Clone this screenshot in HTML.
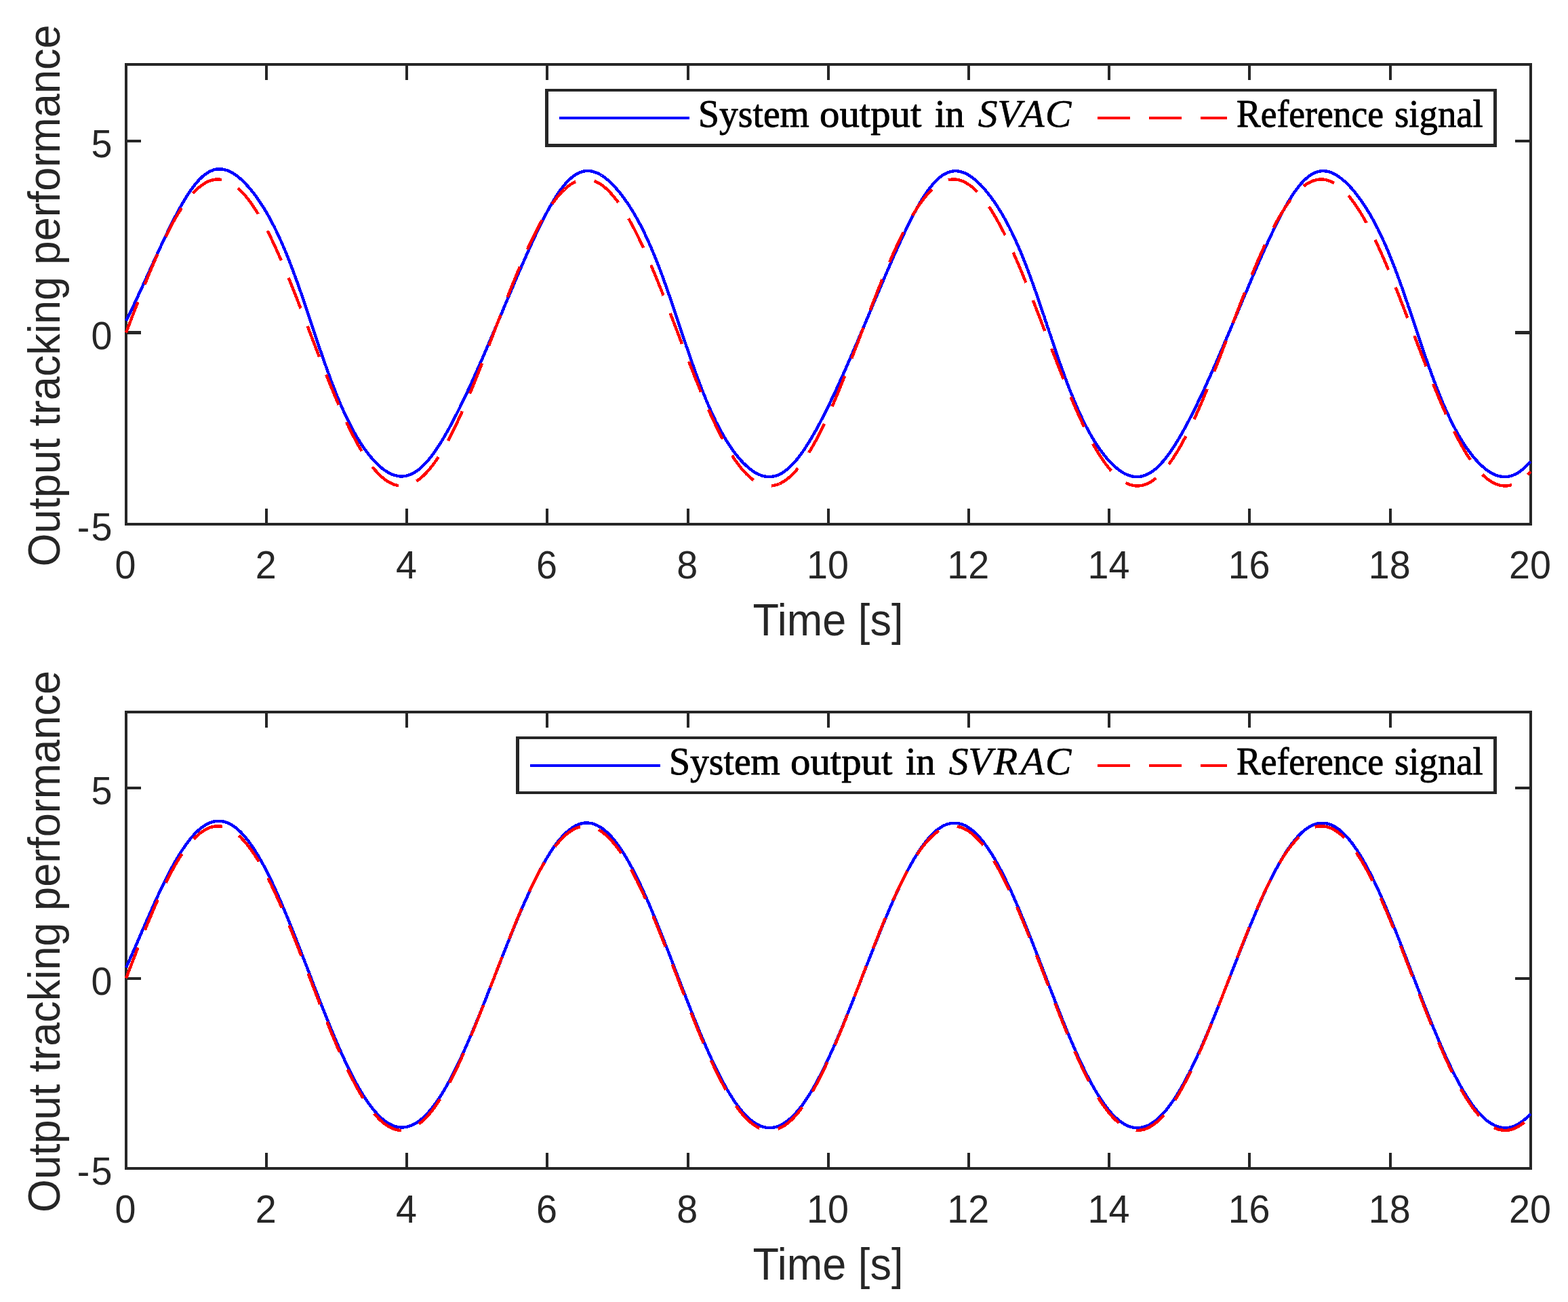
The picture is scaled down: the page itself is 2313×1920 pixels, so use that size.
<!DOCTYPE html>
<html lang="en"><head><meta charset="utf-8"><title>Output tracking performance</title>
<style>
html,body{margin:0;padding:0;background:#fff;}
body{width:2313px;height:1920px;overflow:hidden;}
svg{display:block;}
.sans text{font-family:"Liberation Sans",sans-serif;fill:#262626;}
.serif text{font-family:"Liberation Serif",serif;fill:#000;stroke:#000;stroke-width:0.9;stroke-linejoin:round;}
.serif .it{font-style:italic;stroke-width:0.6;}
</style></head><body>
<svg width="2313" height="1920" viewBox="0 0 2313 1920">
<rect width="2313" height="1920" fill="#fff"/>
<g id="axes1">
<g stroke="#262626" stroke-width="4" fill="none" shape-rendering="crispEdges" stroke-linecap="butt"><rect x="186" y="95" width="2072" height="678"/><path fill="#262626" stroke="none" d="M391,95H395V118H391ZM391,750H395V773H391ZM598,95H602V118H598ZM598,750H602V773H598ZM805,95H809V118H805ZM805,750H809V773H805ZM1013,95H1017V118H1013ZM1013,750H1017V773H1013ZM1220,95H1224V118H1220ZM1220,750H1224V773H1220ZM1427,95H1431V118H1427ZM1427,750H1431V773H1427ZM1634,95H1638V118H1634ZM1634,750H1638V773H1634ZM1841,95H1845V118H1841ZM1841,750H1845V773H1841ZM2049,95H2053V118H2049ZM2049,750H2053V773H2049ZM186,206H208V210H186ZM2235,206H2258V210H2235ZM186,488H208V493H186ZM2235,488H2258V493H2235Z"/></g>
<clipPath id="clip1"><rect x="184" y="93" width="2076" height="682"/></clipPath>
<g clip-path="url(#clip1)" fill="none" stroke-width="4.4" stroke-linejoin="round" shape-rendering="crispEdges">
<path stroke="#0000ff" d="M186.0,473.0 L187.0,471.0 L188.1,468.9 L189.1,466.8 L190.1,464.7 L191.2,462.6 L192.2,460.5 L193.3,458.3 L194.3,456.2 L195.3,454.0 L196.4,451.8 L197.4,449.7 L198.4,447.5 L199.5,445.3 L200.5,443.1 L201.5,440.9 L202.6,438.6 L203.6,436.4 L204.6,434.2 L205.7,432.0 L206.7,429.7 L207.8,427.5 L208.8,425.2 L209.8,423.0 L210.9,420.7 L211.9,418.4 L212.9,416.2 L214.0,413.9 L215.0,411.6 L216.0,409.4 L217.1,407.1 L218.1,404.8 L219.2,402.5 L220.2,400.3 L221.2,398.0 L222.3,395.7 L223.3,393.4 L224.3,391.2 L225.4,388.9 L226.4,386.6 L227.4,384.4 L228.5,382.1 L229.5,379.8 L230.5,377.6 L231.6,375.3 L232.6,373.1 L233.7,370.8 L234.7,368.6 L235.7,366.3 L236.8,364.1 L237.8,361.9 L238.8,359.7 L239.9,357.5 L240.9,355.2 L241.9,353.1 L243.0,350.9 L244.0,348.7 L245.1,346.5 L246.1,344.4 L247.1,342.2 L248.2,340.1 L249.2,337.9 L250.2,335.8 L251.3,333.7 L252.3,331.6 L253.3,329.6 L254.4,327.5 L255.4,325.4 L256.4,323.4 L257.5,321.4 L258.5,319.4 L259.6,317.4 L260.6,315.4 L261.6,313.5 L262.7,311.6 L263.7,309.7 L264.7,307.8 L265.8,305.9 L266.8,304.0 L267.8,302.2 L268.9,300.4 L269.9,298.6 L271.0,296.9 L272.0,295.1 L273.0,293.4 L274.1,291.7 L275.1,290.1 L276.1,288.4 L277.2,286.8 L278.2,285.2 L279.2,283.7 L280.3,282.2 L281.3,280.7 L282.3,279.2 L283.4,277.8 L284.4,276.4 L285.5,275.0 L286.5,273.7 L287.5,272.3 L288.6,271.1 L289.6,269.8 L290.6,268.6 L291.7,267.4 L292.7,266.3 L293.7,265.2 L294.8,264.1 L295.8,263.1 L296.9,262.1 L297.9,261.1 L298.9,260.2 L300.0,259.3 L301.0,258.5 L302.0,257.6 L303.1,256.9 L304.1,256.1 L305.1,255.4 L306.2,254.8 L307.2,254.1 L308.2,253.5 L309.3,253.0 L310.3,252.5 L311.4,252.0 L312.4,251.6 L313.4,251.2 L314.5,250.8 L315.5,250.5 L316.5,250.2 L317.6,250.0 L318.6,249.7 L319.6,249.6 L320.7,249.4 L321.7,249.3 L322.8,249.3 L323.8,249.3 L324.8,249.3 L325.9,249.3 L326.9,249.4 L327.9,249.5 L329.0,249.7 L330.0,249.9 L331.0,250.1 L332.1,250.4 L333.1,250.7 L334.1,251.0 L335.2,251.3 L336.2,251.7 L337.3,252.2 L338.3,252.6 L339.3,253.1 L340.4,253.6 L341.4,254.2 L342.4,254.7 L343.5,255.3 L344.5,256.0 L345.5,256.6 L346.6,257.3 L347.6,258.1 L348.7,258.8 L349.7,259.6 L350.7,260.4 L351.8,261.2 L352.8,262.1 L353.8,262.9 L354.9,263.9 L355.9,264.8 L356.9,265.7 L358.0,266.7 L359.0,267.7 L360.0,268.8 L361.1,269.8 L362.1,270.9 L363.2,272.0 L364.2,273.1 L365.2,274.2 L366.3,275.4 L367.3,276.6 L368.3,277.8 L369.4,279.0 L370.4,280.3 L371.4,281.6 L372.5,282.9 L373.5,284.2 L374.6,285.5 L375.6,286.9 L376.6,288.3 L377.7,289.7 L378.7,291.1 L379.7,292.6 L380.8,294.1 L381.8,295.6 L382.8,297.1 L383.9,298.6 L384.9,300.2 L385.9,301.8 L387.0,303.4 L388.0,305.1 L389.1,306.7 L390.1,308.4 L391.1,310.1 L392.2,311.8 L393.2,313.6 L394.2,315.4 L395.3,317.2 L396.3,319.0 L397.3,320.9 L398.4,322.8 L399.4,324.7 L400.5,326.6 L401.5,328.6 L402.5,330.6 L403.6,332.6 L404.6,334.6 L405.6,336.7 L406.7,338.8 L407.7,340.9 L408.7,343.1 L409.8,345.3 L410.8,347.5 L411.8,349.7 L412.9,352.0 L413.9,354.3 L415.0,356.6 L416.0,358.9 L417.0,361.3 L418.1,363.7 L419.1,366.1 L420.1,368.6 L421.2,371.1 L422.2,373.6 L423.2,376.1 L424.3,378.7 L425.3,381.3 L426.4,383.9 L427.4,386.5 L428.4,389.2 L429.5,391.9 L430.5,394.6 L431.5,397.3 L432.6,400.1 L433.6,402.9 L434.6,405.7 L435.7,408.5 L436.7,411.3 L437.7,414.2 L438.8,417.1 L439.8,420.0 L440.9,422.9 L441.9,425.9 L442.9,428.8 L444.0,431.8 L445.0,434.8 L446.0,437.8 L447.1,440.8 L448.1,443.9 L449.1,446.9 L450.2,450.0 L451.2,453.0 L452.3,456.1 L453.3,459.2 L454.3,462.3 L455.4,465.4 L456.4,468.5 L457.4,471.6 L458.5,474.7 L459.5,477.8 L460.5,480.9 L461.6,484.0 L462.6,487.1 L463.6,490.2 L464.7,493.3 L465.7,496.4 L466.8,499.5 L467.8,502.6 L468.8,505.6 L469.9,508.7 L470.9,511.8 L471.9,514.8 L473.0,517.8 L474.0,520.9 L475.0,523.9 L476.1,526.9 L477.1,529.9 L478.2,532.8 L479.2,535.8 L480.2,538.7 L481.3,541.6 L482.3,544.5 L483.3,547.4 L484.4,550.2 L485.4,553.1 L486.4,555.9 L487.5,558.7 L488.5,561.5 L489.5,564.2 L490.6,566.9 L491.6,569.6 L492.7,572.3 L493.7,574.9 L494.7,577.6 L495.8,580.2 L496.8,582.7 L497.8,585.3 L498.9,587.8 L499.9,590.3 L500.9,592.7 L502.0,595.2 L503.0,597.6 L504.1,600.0 L505.1,602.3 L506.1,604.6 L507.2,606.9 L508.2,609.2 L509.2,611.4 L510.3,613.6 L511.3,615.8 L512.3,617.9 L513.4,620.1 L514.4,622.1 L515.4,624.2 L516.5,626.2 L517.5,628.2 L518.6,630.2 L519.6,632.2 L520.6,634.1 L521.7,636.0 L522.7,637.9 L523.7,639.7 L524.8,641.5 L525.8,643.3 L526.8,645.0 L527.9,646.8 L528.9,648.5 L530.0,650.1 L531.0,651.8 L532.0,653.4 L533.1,655.0 L534.1,656.6 L535.1,658.1 L536.2,659.6 L537.2,661.1 L538.2,662.6 L539.3,664.0 L540.3,665.4 L541.3,666.8 L542.4,668.2 L543.4,669.5 L544.5,670.8 L545.5,672.1 L546.5,673.4 L547.6,674.6 L548.6,675.8 L549.6,677.0 L550.7,678.2 L551.7,679.3 L552.7,680.4 L553.8,681.5 L554.8,682.6 L555.9,683.6 L556.9,684.6 L557.9,685.6 L559.0,686.6 L560.0,687.5 L561.0,688.4 L562.1,689.3 L563.1,690.1 L564.1,691.0 L565.2,691.8 L566.2,692.5 L567.2,693.3 L568.3,694.0 L569.3,694.7 L570.4,695.3 L571.4,696.0 L572.4,696.6 L573.5,697.2 L574.5,697.7 L575.5,698.2 L576.6,698.7 L577.6,699.2 L578.6,699.6 L579.7,700.0 L580.7,700.4 L581.8,700.7 L582.8,701.0 L583.8,701.3 L584.9,701.6 L585.9,701.8 L586.9,702.0 L588.0,702.1 L589.0,702.3 L590.0,702.3 L591.1,702.4 L592.1,702.4 L593.1,702.4 L594.2,702.4 L595.2,702.3 L596.3,702.2 L597.3,702.0 L598.3,701.9 L599.4,701.7 L600.4,701.4 L601.4,701.1 L602.5,700.8 L603.5,700.5 L604.5,700.1 L605.6,699.7 L606.6,699.3 L607.7,698.8 L608.7,698.3 L609.7,697.7 L610.8,697.1 L611.8,696.5 L612.8,695.9 L613.9,695.2 L614.9,694.5 L615.9,693.8 L617.0,693.0 L618.0,692.2 L619.0,691.3 L620.1,690.5 L621.1,689.6 L622.2,688.6 L623.2,687.6 L624.2,686.7 L625.3,685.6 L626.3,684.6 L627.3,683.5 L628.4,682.4 L629.4,681.2 L630.4,680.0 L631.5,678.8 L632.5,677.6 L633.6,676.3 L634.6,675.0 L635.6,673.7 L636.7,672.4 L637.7,671.0 L638.7,669.6 L639.8,668.2 L640.8,666.8 L641.8,665.3 L642.9,663.8 L643.9,662.3 L644.9,660.7 L646.0,659.2 L647.0,657.6 L648.1,656.0 L649.1,654.3 L650.1,652.7 L651.2,651.0 L652.2,649.3 L653.2,647.6 L654.3,645.9 L655.3,644.1 L656.3,642.3 L657.4,640.5 L658.4,638.7 L659.5,636.9 L660.5,635.0 L661.5,633.2 L662.6,631.3 L663.6,629.4 L664.6,627.5 L665.7,625.6 L666.7,623.6 L667.7,621.6 L668.8,619.7 L669.8,617.7 L670.8,615.7 L671.9,613.7 L672.9,611.6 L674.0,609.6 L675.0,607.5 L676.0,605.5 L677.1,603.4 L678.1,601.3 L679.1,599.2 L680.2,597.0 L681.2,594.9 L682.2,592.8 L683.3,590.6 L684.3,588.5 L685.4,586.3 L686.4,584.1 L687.4,581.9 L688.5,579.7 L689.5,577.5 L690.5,575.3 L691.6,573.0 L692.6,570.8 L693.6,568.5 L694.7,566.3 L695.7,564.0 L696.7,561.7 L697.8,559.4 L698.8,557.1 L699.9,554.8 L700.9,552.5 L701.9,550.2 L703.0,547.9 L704.0,545.6 L705.0,543.2 L706.1,540.9 L707.1,538.5 L708.1,536.2 L709.2,533.8 L710.2,531.5 L711.3,529.1 L712.3,526.7 L713.3,524.3 L714.4,521.9 L715.4,519.5 L716.4,517.1 L717.5,514.7 L718.5,512.3 L719.5,509.9 L720.6,507.5 L721.6,505.1 L722.6,502.7 L723.7,500.2 L724.7,497.8 L725.8,495.4 L726.8,492.9 L727.8,490.5 L728.9,488.1 L729.9,485.6 L730.9,483.2 L732.0,480.7 L733.0,478.3 L734.0,475.8 L735.1,473.4 L736.1,470.9 L737.2,468.5 L738.2,466.0 L739.2,463.6 L740.3,461.1 L741.3,458.7 L742.3,456.2 L743.4,453.7 L744.4,451.3 L745.4,448.8 L746.5,446.4 L747.5,443.9 L748.5,441.5 L749.6,439.0 L750.6,436.6 L751.7,434.1 L752.7,431.7 L753.7,429.2 L754.8,426.8 L755.8,424.3 L756.8,421.9 L757.9,419.5 L758.9,417.0 L759.9,414.6 L761.0,412.2 L762.0,409.7 L763.1,407.3 L764.1,404.9 L765.1,402.5 L766.2,400.1 L767.2,397.7 L768.2,395.3 L769.3,392.9 L770.3,390.5 L771.3,388.1 L772.4,385.8 L773.4,383.4 L774.4,381.0 L775.5,378.7 L776.5,376.3 L777.6,374.0 L778.6,371.7 L779.6,369.4 L780.7,367.0 L781.7,364.7 L782.7,362.5 L783.8,360.2 L784.8,357.9 L785.8,355.6 L786.9,353.4 L787.9,351.1 L789.0,348.9 L790.0,346.7 L791.0,344.5 L792.1,342.3 L793.1,340.1 L794.1,338.0 L795.2,335.8 L796.2,333.7 L797.2,331.6 L798.3,329.5 L799.3,327.4 L800.3,325.3 L801.4,323.3 L802.4,321.3 L803.5,319.2 L804.5,317.2 L805.5,315.3 L806.6,313.3 L807.6,311.4 L808.6,309.5 L809.7,307.6 L810.7,305.7 L811.7,303.9 L812.8,302.1 L813.8,300.3 L814.9,298.5 L815.9,296.8 L816.9,295.1 L818.0,293.4 L819.0,291.7 L820.0,290.1 L821.1,288.5 L822.1,286.9 L823.1,285.3 L824.2,283.8 L825.2,282.3 L826.2,280.9 L827.3,279.5 L828.3,278.1 L829.4,276.7 L830.4,275.4 L831.4,274.1 L832.5,272.8 L833.5,271.6 L834.5,270.4 L835.6,269.3 L836.6,268.1 L837.6,267.1 L838.7,266.0 L839.7,265.0 L840.8,264.0 L841.8,263.1 L842.8,262.2 L843.9,261.3 L844.9,260.5 L845.9,259.7 L847.0,259.0 L848.0,258.3 L849.0,257.6 L850.1,257.0 L851.1,256.4 L852.1,255.8 L853.2,255.3 L854.2,254.8 L855.3,254.4 L856.3,254.0 L857.3,253.6 L858.4,253.3 L859.4,253.0 L860.4,252.7 L861.5,252.5 L862.5,252.3 L863.5,252.2 L864.6,252.1 L865.6,252.0 L866.7,252.0 L867.7,252.0 L868.7,252.1 L869.8,252.1 L870.8,252.3 L871.8,252.4 L872.9,252.6 L873.9,252.8 L874.9,253.1 L876.0,253.4 L877.0,253.7 L878.0,254.1 L879.1,254.4 L880.1,254.9 L881.2,255.3 L882.2,255.8 L883.2,256.3 L884.3,256.9 L885.3,257.4 L886.3,258.0 L887.4,258.7 L888.4,259.3 L889.4,260.0 L890.5,260.7 L891.5,261.5 L892.6,262.3 L893.6,263.1 L894.6,263.9 L895.7,264.7 L896.7,265.6 L897.7,266.5 L898.8,267.4 L899.8,268.4 L900.8,269.4 L901.9,270.4 L902.9,271.4 L903.9,272.4 L905.0,273.5 L906.0,274.6 L907.1,275.7 L908.1,276.9 L909.1,278.0 L910.2,279.2 L911.2,280.4 L912.2,281.7 L913.3,282.9 L914.3,284.2 L915.3,285.5 L916.4,286.8 L917.4,288.1 L918.5,289.5 L919.5,290.9 L920.5,292.3 L921.6,293.7 L922.6,295.2 L923.6,296.7 L924.7,298.2 L925.7,299.7 L926.7,301.2 L927.8,302.8 L928.8,304.4 L929.8,306.0 L930.9,307.6 L931.9,309.3 L933.0,311.0 L934.0,312.7 L935.0,314.4 L936.1,316.2 L937.1,318.0 L938.1,319.8 L939.2,321.6 L940.2,323.5 L941.2,325.3 L942.3,327.3 L943.3,329.2 L944.4,331.2 L945.4,333.1 L946.4,335.2 L947.5,337.2 L948.5,339.3 L949.5,341.4 L950.6,343.5 L951.6,345.7 L952.6,347.8 L953.7,350.1 L954.7,352.3 L955.7,354.6 L956.8,356.8 L957.8,359.2 L958.9,361.5 L959.9,363.9 L960.9,366.3 L962.0,368.7 L963.0,371.2 L964.0,373.7 L965.1,376.2 L966.1,378.7 L967.1,381.3 L968.2,383.9 L969.2,386.5 L970.3,389.1 L971.3,391.8 L972.3,394.5 L973.4,397.2 L974.4,399.9 L975.4,402.7 L976.5,405.5 L977.5,408.3 L978.5,411.1 L979.6,414.0 L980.6,416.8 L981.6,419.7 L982.7,422.6 L983.7,425.6 L984.8,428.5 L985.8,431.5 L986.8,434.4 L987.9,437.4 L988.9,440.4 L989.9,443.5 L991.0,446.5 L992.0,449.5 L993.0,452.6 L994.1,455.6 L995.1,458.7 L996.2,461.8 L997.2,464.9 L998.2,467.9 L999.3,471.0 L1000.3,474.1 L1001.3,477.2 L1002.4,480.3 L1003.4,483.4 L1004.4,486.5 L1005.5,489.6 L1006.5,492.7 L1007.5,495.8 L1008.6,498.9 L1009.6,502.0 L1010.7,505.0 L1011.7,508.1 L1012.7,511.2 L1013.8,514.2 L1014.8,517.3 L1015.8,520.3 L1016.9,523.3 L1017.9,526.3 L1018.9,529.3 L1020.0,532.2 L1021.0,535.2 L1022.1,538.1 L1023.1,541.1 L1024.1,544.0 L1025.2,546.8 L1026.2,549.7 L1027.2,552.5 L1028.3,555.4 L1029.3,558.2 L1030.3,560.9 L1031.4,563.7 L1032.4,566.4 L1033.4,569.1 L1034.5,571.8 L1035.5,574.5 L1036.6,577.1 L1037.6,579.7 L1038.6,582.3 L1039.7,584.8 L1040.7,587.4 L1041.7,589.9 L1042.8,592.3 L1043.8,594.8 L1044.8,597.2 L1045.9,599.6 L1046.9,601.9 L1048.0,604.3 L1049.0,606.6 L1050.0,608.9 L1051.1,611.1 L1052.1,613.3 L1053.1,615.5 L1054.2,617.7 L1055.2,619.8 L1056.2,621.9 L1057.3,624.0 L1058.3,626.0 L1059.3,628.0 L1060.4,630.0 L1061.4,632.0 L1062.5,633.9 L1063.5,635.8 L1064.5,637.7 L1065.6,639.5 L1066.6,641.4 L1067.6,643.2 L1068.7,644.9 L1069.7,646.7 L1070.7,648.4 L1071.8,650.1 L1072.8,651.7 L1073.9,653.4 L1074.9,655.0 L1075.9,656.5 L1077.0,658.1 L1078.0,659.6 L1079.0,661.1 L1080.1,662.6 L1081.1,664.0 L1082.1,665.5 L1083.2,666.9 L1084.2,668.2 L1085.2,669.6 L1086.3,670.9 L1087.3,672.2 L1088.4,673.5 L1089.4,674.7 L1090.4,675.9 L1091.5,677.1 L1092.5,678.3 L1093.5,679.5 L1094.6,680.6 L1095.6,681.7 L1096.6,682.8 L1097.7,683.8 L1098.7,684.8 L1099.8,685.8 L1100.8,686.8 L1101.8,687.7 L1102.9,688.6 L1103.9,689.5 L1104.9,690.4 L1106.0,691.2 L1107.0,692.1 L1108.0,692.8 L1109.1,693.6 L1110.1,694.3 L1111.1,695.0 L1112.2,695.7 L1113.2,696.4 L1114.3,697.0 L1115.3,697.6 L1116.3,698.1 L1117.4,698.7 L1118.4,699.2 L1119.4,699.6 L1120.5,700.1 L1121.5,700.5 L1122.5,700.9 L1123.6,701.2 L1124.6,701.6 L1125.7,701.9 L1126.7,702.1 L1127.7,702.4 L1128.8,702.6 L1129.8,702.7 L1130.8,702.9 L1131.9,703.0 L1132.9,703.0 L1133.9,703.1 L1135.0,703.1 L1136.0,703.1 L1137.0,703.0 L1138.1,702.9 L1139.1,702.8 L1140.2,702.6 L1141.2,702.4 L1142.2,702.2 L1143.3,702.0 L1144.3,701.7 L1145.3,701.3 L1146.4,701.0 L1147.4,700.6 L1148.4,700.2 L1149.5,699.7 L1150.5,699.2 L1151.6,698.7 L1152.6,698.1 L1153.6,697.5 L1154.7,696.9 L1155.7,696.2 L1156.7,695.5 L1157.8,694.8 L1158.8,694.0 L1159.8,693.2 L1160.9,692.4 L1161.9,691.6 L1162.9,690.7 L1164.0,689.8 L1165.0,688.8 L1166.1,687.8 L1167.1,686.8 L1168.1,685.8 L1169.2,684.7 L1170.2,683.6 L1171.2,682.5 L1172.3,681.3 L1173.3,680.1 L1174.3,678.9 L1175.4,677.6 L1176.4,676.4 L1177.5,675.1 L1178.5,673.7 L1179.5,672.4 L1180.6,671.0 L1181.6,669.6 L1182.6,668.2 L1183.7,666.7 L1184.7,665.2 L1185.7,663.7 L1186.8,662.2 L1187.8,660.6 L1188.8,659.0 L1189.9,657.4 L1190.9,655.8 L1192.0,654.2 L1193.0,652.5 L1194.0,650.8 L1195.1,649.1 L1196.1,647.4 L1197.1,645.6 L1198.2,643.9 L1199.2,642.1 L1200.2,640.3 L1201.3,638.5 L1202.3,636.6 L1203.4,634.8 L1204.4,632.9 L1205.4,631.0 L1206.5,629.1 L1207.5,627.2 L1208.5,625.2 L1209.6,623.3 L1210.6,621.3 L1211.6,619.3 L1212.7,617.3 L1213.7,615.3 L1214.7,613.3 L1215.8,611.3 L1216.8,609.2 L1217.9,607.1 L1218.9,605.1 L1219.9,603.0 L1221.0,600.9 L1222.0,598.7 L1223.0,596.6 L1224.1,594.5 L1225.1,592.3 L1226.1,590.2 L1227.2,588.0 L1228.2,585.8 L1229.3,583.6 L1230.3,581.4 L1231.3,579.2 L1232.4,577.0 L1233.4,574.8 L1234.4,572.5 L1235.5,570.3 L1236.5,568.0 L1237.5,565.8 L1238.6,563.5 L1239.6,561.2 L1240.6,558.9 L1241.7,556.6 L1242.7,554.3 L1243.8,552.0 L1244.8,549.7 L1245.8,547.3 L1246.9,545.0 L1247.9,542.7 L1248.9,540.3 L1250.0,538.0 L1251.0,535.6 L1252.0,533.2 L1253.1,530.9 L1254.1,528.5 L1255.2,526.1 L1256.2,523.7 L1257.2,521.3 L1258.3,518.9 L1259.3,516.5 L1260.3,514.1 L1261.4,511.7 L1262.4,509.3 L1263.4,506.9 L1264.5,504.5 L1265.5,502.0 L1266.5,499.6 L1267.6,497.2 L1268.6,494.7 L1269.7,492.3 L1270.7,489.9 L1271.7,487.4 L1272.8,485.0 L1273.8,482.5 L1274.8,480.1 L1275.9,477.6 L1276.9,475.2 L1277.9,472.7 L1279.0,470.3 L1280.0,467.8 L1281.1,465.4 L1282.1,462.9 L1283.1,460.4 L1284.2,458.0 L1285.2,455.5 L1286.2,453.1 L1287.3,450.6 L1288.3,448.1 L1289.3,445.7 L1290.4,443.2 L1291.4,440.8 L1292.4,438.3 L1293.5,435.9 L1294.5,433.4 L1295.6,431.0 L1296.6,428.5 L1297.6,426.1 L1298.7,423.6 L1299.7,421.2 L1300.7,418.8 L1301.8,416.3 L1302.8,413.9 L1303.8,411.5 L1304.9,409.1 L1305.9,406.6 L1307.0,404.2 L1308.0,401.8 L1309.0,399.4 L1310.1,397.0 L1311.1,394.6 L1312.1,392.2 L1313.2,389.8 L1314.2,387.5 L1315.2,385.1 L1316.3,382.7 L1317.3,380.4 L1318.3,378.0 L1319.4,375.7 L1320.4,373.3 L1321.5,371.0 L1322.5,368.7 L1323.5,366.4 L1324.6,364.1 L1325.6,361.8 L1326.6,359.5 L1327.7,357.2 L1328.7,355.0 L1329.7,352.7 L1330.8,350.5 L1331.8,348.3 L1332.9,346.1 L1333.9,343.9 L1334.9,341.7 L1336.0,339.5 L1337.0,337.3 L1338.0,335.2 L1339.1,333.1 L1340.1,331.0 L1341.1,328.9 L1342.2,326.8 L1343.2,324.7 L1344.2,322.7 L1345.3,320.7 L1346.3,318.7 L1347.4,316.7 L1348.4,314.7 L1349.4,312.8 L1350.5,310.8 L1351.5,308.9 L1352.5,307.1 L1353.6,305.2 L1354.6,303.4 L1355.6,301.6 L1356.7,299.8 L1357.7,298.0 L1358.8,296.3 L1359.8,294.6 L1360.8,292.9 L1361.9,291.3 L1362.9,289.6 L1363.9,288.0 L1365.0,286.5 L1366.0,284.9 L1367.0,283.4 L1368.1,282.0 L1369.1,280.5 L1370.1,279.1 L1371.2,277.7 L1372.2,276.4 L1373.3,275.1 L1374.3,273.8 L1375.3,272.5 L1376.4,271.3 L1377.4,270.2 L1378.4,269.0 L1379.5,267.9 L1380.5,266.8 L1381.5,265.8 L1382.6,264.8 L1383.6,263.8 L1384.7,262.9 L1385.7,262.0 L1386.7,261.2 L1387.8,260.4 L1388.8,259.6 L1389.8,258.9 L1390.9,258.2 L1391.9,257.5 L1392.9,256.9 L1394.0,256.3 L1395.0,255.8 L1396.0,255.3 L1397.1,254.8 L1398.1,254.4 L1399.2,254.0 L1400.2,253.6 L1401.2,253.3 L1402.3,253.0 L1403.3,252.8 L1404.3,252.6 L1405.4,252.5 L1406.4,252.3 L1407.4,252.2 L1408.5,252.2 L1409.5,252.2 L1410.6,252.2 L1411.6,252.3 L1412.6,252.4 L1413.7,252.5 L1414.7,252.7 L1415.7,252.9 L1416.8,253.1 L1417.8,253.4 L1418.8,253.7 L1419.9,254.0 L1420.9,254.4 L1421.9,254.8 L1423.0,255.2 L1424.0,255.7 L1425.1,256.2 L1426.1,256.7 L1427.1,257.2 L1428.2,257.8 L1429.2,258.4 L1430.2,259.1 L1431.3,259.7 L1432.3,260.4 L1433.3,261.2 L1434.4,261.9 L1435.4,262.7 L1436.5,263.5 L1437.5,264.4 L1438.5,265.2 L1439.6,266.1 L1440.6,267.0 L1441.6,268.0 L1442.7,268.9 L1443.7,269.9 L1444.7,270.9 L1445.8,271.9 L1446.8,273.0 L1447.8,274.1 L1448.9,275.2 L1449.9,276.3 L1451.0,277.5 L1452.0,278.6 L1453.0,279.8 L1454.1,281.0 L1455.1,282.3 L1456.1,283.5 L1457.2,284.8 L1458.2,286.1 L1459.2,287.5 L1460.3,288.8 L1461.3,290.2 L1462.4,291.6 L1463.4,293.0 L1464.4,294.4 L1465.5,295.9 L1466.5,297.4 L1467.5,298.9 L1468.6,300.4 L1469.6,302.0 L1470.6,303.5 L1471.7,305.1 L1472.7,306.8 L1473.7,308.4 L1474.8,310.1 L1475.8,311.8 L1476.9,313.5 L1477.9,315.2 L1478.9,317.0 L1480.0,318.8 L1481.0,320.6 L1482.0,322.5 L1483.1,324.3 L1484.1,326.2 L1485.1,328.1 L1486.2,330.1 L1487.2,332.1 L1488.3,334.1 L1489.3,336.1 L1490.3,338.2 L1491.4,340.2 L1492.4,342.3 L1493.4,344.5 L1494.5,346.6 L1495.5,348.8 L1496.5,351.1 L1497.6,353.3 L1498.6,355.6 L1499.6,357.9 L1500.7,360.2 L1501.7,362.6 L1502.8,365.0 L1503.8,367.4 L1504.8,369.8 L1505.9,372.3 L1506.9,374.8 L1507.9,377.3 L1509.0,379.8 L1510.0,382.4 L1511.0,385.0 L1512.1,387.6 L1513.1,390.3 L1514.2,393.0 L1515.2,395.7 L1516.2,398.4 L1517.3,401.1 L1518.3,403.9 L1519.3,406.7 L1520.4,409.5 L1521.4,412.4 L1522.4,415.2 L1523.5,418.1 L1524.5,421.0 L1525.5,423.9 L1526.6,426.8 L1527.6,429.8 L1528.7,432.8 L1529.7,435.7 L1530.7,438.7 L1531.8,441.7 L1532.8,444.8 L1533.8,447.8 L1534.9,450.8 L1535.9,453.9 L1536.9,456.9 L1538.0,460.0 L1539.0,463.1 L1540.1,466.2 L1541.1,469.3 L1542.1,472.4 L1543.2,475.5 L1544.2,478.6 L1545.2,481.7 L1546.3,484.8 L1547.3,487.9 L1548.3,490.9 L1549.4,494.0 L1550.4,497.1 L1551.4,500.2 L1552.5,503.3 L1553.5,506.4 L1554.6,509.4 L1555.6,512.5 L1556.6,515.5 L1557.7,518.5 L1558.7,521.6 L1559.7,524.6 L1560.8,527.6 L1561.8,530.5 L1562.8,533.5 L1563.9,536.5 L1564.9,539.4 L1566.0,542.3 L1567.0,545.2 L1568.0,548.1 L1569.1,550.9 L1570.1,553.8 L1571.1,556.6 L1572.2,559.4 L1573.2,562.1 L1574.2,564.9 L1575.3,567.6 L1576.3,570.3 L1577.3,573.0 L1578.4,575.6 L1579.4,578.2 L1580.5,580.8 L1581.5,583.4 L1582.5,585.9 L1583.6,588.4 L1584.6,590.9 L1585.6,593.4 L1586.7,595.8 L1587.7,598.2 L1588.7,600.6 L1589.8,603.0 L1590.8,605.3 L1591.9,607.6 L1592.9,609.8 L1593.9,612.1 L1595.0,614.3 L1596.0,616.4 L1597.0,618.6 L1598.1,620.7 L1599.1,622.8 L1600.1,624.9 L1601.2,626.9 L1602.2,628.9 L1603.2,630.9 L1604.3,632.8 L1605.3,634.7 L1606.4,636.6 L1607.4,638.5 L1608.4,640.3 L1609.5,642.1 L1610.5,643.9 L1611.5,645.7 L1612.6,647.4 L1613.6,649.1 L1614.6,650.8 L1615.7,652.4 L1616.7,654.1 L1617.8,655.7 L1618.8,657.2 L1619.8,658.8 L1620.9,660.3 L1621.9,661.8 L1622.9,663.2 L1624.0,664.7 L1625.0,666.1 L1626.0,667.5 L1627.1,668.8 L1628.1,670.2 L1629.1,671.5 L1630.2,672.8 L1631.2,674.0 L1632.3,675.3 L1633.3,676.5 L1634.3,677.7 L1635.4,678.8 L1636.4,680.0 L1637.4,681.1 L1638.5,682.2 L1639.5,683.2 L1640.5,684.3 L1641.6,685.3 L1642.6,686.3 L1643.7,687.2 L1644.7,688.1 L1645.7,689.1 L1646.8,689.9 L1647.8,690.8 L1648.8,691.6 L1649.9,692.4 L1650.9,693.2 L1651.9,693.9 L1653.0,694.7 L1654.0,695.4 L1655.0,696.0 L1656.1,696.7 L1657.1,697.3 L1658.2,697.8 L1659.2,698.4 L1660.2,698.9 L1661.3,699.4 L1662.3,699.9 L1663.3,700.3 L1664.4,700.7 L1665.4,701.1 L1666.4,701.4 L1667.5,701.7 L1668.5,702.0 L1669.6,702.3 L1670.6,702.5 L1671.6,702.7 L1672.7,702.8 L1673.7,703.0 L1674.7,703.0 L1675.8,703.1 L1676.8,703.1 L1677.8,703.1 L1678.9,703.1 L1679.9,703.0 L1680.9,702.9 L1682.0,702.8 L1683.0,702.6 L1684.1,702.4 L1685.1,702.2 L1686.1,701.9 L1687.2,701.6 L1688.2,701.2 L1689.2,700.9 L1690.3,700.5 L1691.3,700.0 L1692.3,699.5 L1693.4,699.0 L1694.4,698.5 L1695.5,697.9 L1696.5,697.3 L1697.5,696.7 L1698.6,696.0 L1699.6,695.3 L1700.6,694.5 L1701.7,693.8 L1702.7,693.0 L1703.7,692.1 L1704.8,691.3 L1705.8,690.4 L1706.8,689.4 L1707.9,688.5 L1708.9,687.5 L1710.0,686.4 L1711.0,685.4 L1712.0,684.3 L1713.1,683.2 L1714.1,682.0 L1715.1,680.9 L1716.2,679.7 L1717.2,678.4 L1718.2,677.2 L1719.3,675.9 L1720.3,674.6 L1721.4,673.2 L1722.4,671.9 L1723.4,670.5 L1724.5,669.0 L1725.5,667.6 L1726.5,666.1 L1727.6,664.6 L1728.6,663.1 L1729.6,661.6 L1730.7,660.0 L1731.7,658.4 L1732.7,656.8 L1733.8,655.2 L1734.8,653.5 L1735.9,651.9 L1736.9,650.2 L1737.9,648.5 L1739.0,646.7 L1740.0,645.0 L1741.0,643.2 L1742.1,641.4 L1743.1,639.6 L1744.1,637.8 L1745.2,635.9 L1746.2,634.1 L1747.3,632.2 L1748.3,630.3 L1749.3,628.4 L1750.4,626.4 L1751.4,624.5 L1752.4,622.5 L1753.5,620.6 L1754.5,618.6 L1755.5,616.6 L1756.6,614.5 L1757.6,612.5 L1758.6,610.5 L1759.7,608.4 L1760.7,606.3 L1761.8,604.2 L1762.8,602.2 L1763.8,600.0 L1764.9,597.9 L1765.9,595.8 L1766.9,593.6 L1768.0,591.5 L1769.0,589.3 L1770.0,587.2 L1771.1,585.0 L1772.1,582.8 L1773.2,580.6 L1774.2,578.4 L1775.2,576.1 L1776.3,573.9 L1777.3,571.7 L1778.3,569.4 L1779.4,567.1 L1780.4,564.9 L1781.4,562.6 L1782.5,560.3 L1783.5,558.0 L1784.5,555.7 L1785.6,553.4 L1786.6,551.1 L1787.7,548.8 L1788.7,546.4 L1789.7,544.1 L1790.8,541.8 L1791.8,539.4 L1792.8,537.1 L1793.9,534.7 L1794.9,532.3 L1795.9,529.9 L1797.0,527.6 L1798.0,525.2 L1799.1,522.8 L1800.1,520.4 L1801.1,518.0 L1802.2,515.6 L1803.2,513.2 L1804.2,510.8 L1805.3,508.4 L1806.3,505.9 L1807.3,503.5 L1808.4,501.1 L1809.4,498.7 L1810.4,496.2 L1811.5,493.8 L1812.5,491.4 L1813.6,488.9 L1814.6,486.5 L1815.6,484.0 L1816.7,481.6 L1817.7,479.1 L1818.7,476.7 L1819.8,474.2 L1820.8,471.8 L1821.8,469.3 L1822.9,466.8 L1823.9,464.4 L1825.0,461.9 L1826.0,459.5 L1827.0,457.0 L1828.1,454.6 L1829.1,452.1 L1830.1,449.6 L1831.2,447.2 L1832.2,444.7 L1833.2,442.3 L1834.3,439.8 L1835.3,437.4 L1836.3,434.9 L1837.4,432.5 L1838.4,430.0 L1839.5,427.6 L1840.5,425.1 L1841.5,422.7 L1842.6,420.2 L1843.6,417.8 L1844.6,415.4 L1845.7,412.9 L1846.7,410.5 L1847.7,408.1 L1848.8,405.7 L1849.8,403.3 L1850.9,400.9 L1851.9,398.5 L1852.9,396.1 L1854.0,393.7 L1855.0,391.3 L1856.0,388.9 L1857.1,386.5 L1858.1,384.2 L1859.1,381.8 L1860.2,379.4 L1861.2,377.1 L1862.2,374.7 L1863.3,372.4 L1864.3,370.1 L1865.4,367.8 L1866.4,365.5 L1867.4,363.2 L1868.5,360.9 L1869.5,358.6 L1870.5,356.3 L1871.6,354.1 L1872.6,351.9 L1873.6,349.6 L1874.7,347.4 L1875.7,345.2 L1876.8,343.0 L1877.8,340.8 L1878.8,338.7 L1879.9,336.5 L1880.9,334.4 L1881.9,332.2 L1883.0,330.1 L1884.0,328.1 L1885.0,326.0 L1886.1,323.9 L1887.1,321.9 L1888.1,319.9 L1889.2,317.9 L1890.2,315.9 L1891.3,313.9 L1892.3,312.0 L1893.3,310.1 L1894.4,308.2 L1895.4,306.3 L1896.4,304.5 L1897.5,302.7 L1898.5,300.9 L1899.5,299.1 L1900.6,297.3 L1901.6,295.6 L1902.7,293.9 L1903.7,292.3 L1904.7,290.6 L1905.8,289.0 L1906.8,287.4 L1907.8,285.9 L1908.9,284.3 L1909.9,282.9 L1910.9,281.4 L1912.0,280.0 L1913.0,278.6 L1914.0,277.2 L1915.1,275.9 L1916.1,274.6 L1917.2,273.3 L1918.2,272.1 L1919.2,270.9 L1920.3,269.7 L1921.3,268.6 L1922.3,267.5 L1923.4,266.4 L1924.4,265.4 L1925.4,264.4 L1926.5,263.5 L1927.5,262.6 L1928.6,261.7 L1929.6,260.9 L1930.6,260.1 L1931.7,259.3 L1932.7,258.6 L1933.7,257.9 L1934.8,257.3 L1935.8,256.7 L1936.8,256.1 L1937.9,255.6 L1938.9,255.1 L1939.9,254.6 L1941.0,254.2 L1942.0,253.8 L1943.1,253.5 L1944.1,253.2 L1945.1,253.0 L1946.2,252.7 L1947.2,252.6 L1948.2,252.4 L1949.3,252.3 L1950.3,252.2 L1951.3,252.2 L1952.4,252.2 L1953.4,252.2 L1954.5,252.3 L1955.5,252.4 L1956.5,252.6 L1957.6,252.7 L1958.6,253.0 L1959.6,253.2 L1960.7,253.5 L1961.7,253.8 L1962.7,254.1 L1963.8,254.5 L1964.8,254.9 L1965.8,255.4 L1966.9,255.9 L1967.9,256.4 L1969.0,256.9 L1970.0,257.5 L1971.0,258.1 L1972.1,258.7 L1973.1,259.4 L1974.1,260.0 L1975.2,260.7 L1976.2,261.5 L1977.2,262.3 L1978.3,263.0 L1979.3,263.9 L1980.4,264.7 L1981.4,265.6 L1982.4,266.5 L1983.5,267.4 L1984.5,268.3 L1985.5,269.3 L1986.6,270.3 L1987.6,271.3 L1988.6,272.4 L1989.7,273.4 L1990.7,274.5 L1991.7,275.6 L1992.8,276.8 L1993.8,277.9 L1994.9,279.1 L1995.9,280.3 L1996.9,281.5 L1998.0,282.8 L1999.0,284.1 L2000.0,285.4 L2001.1,286.7 L2002.1,288.0 L2003.1,289.4 L2004.2,290.7 L2005.2,292.1 L2006.3,293.6 L2007.3,295.0 L2008.3,296.5 L2009.4,298.0 L2010.4,299.5 L2011.4,301.0 L2012.5,302.6 L2013.5,304.2 L2014.5,305.8 L2015.6,307.4 L2016.6,309.1 L2017.6,310.8 L2018.7,312.5 L2019.7,314.2 L2020.8,315.9 L2021.8,317.7 L2022.8,319.5 L2023.9,321.4 L2024.9,323.2 L2025.9,325.1 L2027.0,327.0 L2028.0,328.9 L2029.0,330.9 L2030.1,332.9 L2031.1,334.9 L2032.2,336.9 L2033.2,339.0 L2034.2,341.1 L2035.3,343.2 L2036.3,345.4 L2037.3,347.5 L2038.4,349.7 L2039.4,352.0 L2040.4,354.2 L2041.5,356.5 L2042.5,358.8 L2043.5,361.2 L2044.6,363.5 L2045.6,365.9 L2046.7,368.4 L2047.7,370.8 L2048.7,373.3 L2049.8,375.8 L2050.8,378.3 L2051.8,380.9 L2052.9,383.5 L2053.9,386.1 L2054.9,388.7 L2056.0,391.4 L2057.0,394.1 L2058.1,396.8 L2059.1,399.5 L2060.1,402.3 L2061.2,405.0 L2062.2,407.8 L2063.2,410.7 L2064.3,413.5 L2065.3,416.4 L2066.3,419.3 L2067.4,422.2 L2068.4,425.1 L2069.4,428.0 L2070.5,431.0 L2071.5,434.0 L2072.6,436.9 L2073.6,439.9 L2074.6,443.0 L2075.7,446.0 L2076.7,449.0 L2077.7,452.1 L2078.8,455.1 L2079.8,458.2 L2080.8,461.3 L2081.9,464.3 L2082.9,467.4 L2084.0,470.5 L2085.0,473.6 L2086.0,476.7 L2087.1,479.8 L2088.1,482.9 L2089.1,486.0 L2090.2,489.1 L2091.2,492.2 L2092.2,495.3 L2093.3,498.4 L2094.3,501.5 L2095.3,504.5 L2096.4,507.6 L2097.4,510.7 L2098.5,513.7 L2099.5,516.7 L2100.5,519.8 L2101.6,522.8 L2102.6,525.8 L2103.6,528.8 L2104.7,531.7 L2105.7,534.7 L2106.7,537.6 L2107.8,540.6 L2108.8,543.5 L2109.9,546.4 L2110.9,549.2 L2111.9,552.1 L2113.0,554.9 L2114.0,557.7 L2115.0,560.5 L2116.1,563.2 L2117.1,566.0 L2118.1,568.7 L2119.2,571.4 L2120.2,574.0 L2121.2,576.7 L2122.3,579.3 L2123.3,581.9 L2124.4,584.4 L2125.4,586.9 L2126.4,589.4 L2127.5,591.9 L2128.5,594.4 L2129.5,596.8 L2130.6,599.2 L2131.6,601.6 L2132.6,603.9 L2133.7,606.2 L2134.7,608.5 L2135.8,610.7 L2136.8,613.0 L2137.8,615.1 L2138.9,617.3 L2139.9,619.4 L2140.9,621.6 L2142.0,623.6 L2143.0,625.7 L2144.0,627.7 L2145.1,629.7 L2146.1,631.7 L2147.1,633.6 L2148.2,635.5 L2149.2,637.4 L2150.3,639.2 L2151.3,641.1 L2152.3,642.9 L2153.4,644.6 L2154.4,646.4 L2155.4,648.1 L2156.5,649.8 L2157.5,651.5 L2158.5,653.1 L2159.6,654.7 L2160.6,656.3 L2161.7,657.8 L2162.7,659.4 L2163.7,660.9 L2164.8,662.4 L2165.8,663.8 L2166.8,665.2 L2167.9,666.6 L2168.9,668.0 L2169.9,669.4 L2171.0,670.7 L2172.0,672.0 L2173.0,673.3 L2174.1,674.5 L2175.1,675.8 L2176.2,677.0 L2177.2,678.1 L2178.2,679.3 L2179.3,680.4 L2180.3,681.5 L2181.3,682.6 L2182.4,683.6 L2183.4,684.7 L2184.4,685.7 L2185.5,686.6 L2186.5,687.6 L2187.6,688.5 L2188.6,689.4 L2189.6,690.3 L2190.7,691.1 L2191.7,691.9 L2192.7,692.7 L2193.8,693.5 L2194.8,694.2 L2195.8,694.9 L2196.9,695.6 L2197.9,696.3 L2198.9,696.9 L2200.0,697.5 L2201.0,698.1 L2202.1,698.6 L2203.1,699.1 L2204.1,699.6 L2205.2,700.1 L2206.2,700.5 L2207.2,700.9 L2208.3,701.2 L2209.3,701.6 L2210.3,701.9 L2211.4,702.1 L2212.4,702.4 L2213.5,702.6 L2214.5,702.7 L2215.5,702.9 L2216.6,703.0 L2217.6,703.1 L2218.6,703.1 L2219.7,703.1 L2220.7,703.1 L2221.7,703.1 L2222.8,703.0 L2223.8,702.9 L2224.8,702.7 L2225.9,702.5 L2226.9,702.3 L2228.0,702.1 L2229.0,701.8 L2230.0,701.4 L2231.1,701.1 L2232.1,700.7 L2233.1,700.3 L2234.2,699.8 L2235.2,699.3 L2236.2,698.8 L2237.3,698.3 L2238.3,697.7 L2239.4,697.1 L2240.4,696.4 L2241.4,695.7 L2242.5,695.0 L2243.5,694.2 L2244.5,693.4 L2245.6,692.6 L2246.6,691.8 L2247.6,690.9 L2248.7,690.0 L2249.7,689.0 L2250.7,688.1 L2251.8,687.1 L2252.8,686.0 L2253.9,684.9 L2254.9,683.9 L2255.9,682.7 L2257.0,681.6 L2258.0,680.4"/>
<path stroke="#ff0000" stroke-dasharray="48.45 27.97" stroke-dashoffset="0" d="M186.0,490.5 L187.0,487.8 L188.1,485.1 L189.1,482.4 L190.1,479.7 L191.2,476.9 L192.2,474.2 L193.3,471.5 L194.3,468.8 L195.3,466.1 L196.4,463.4 L197.4,460.8 L198.4,458.1 L199.5,455.4 L200.5,452.7 L201.5,450.0 L202.6,447.4 L203.6,444.7 L204.6,442.1 L205.7,439.4 L206.7,436.8 L207.8,434.1 L208.8,431.5 L209.8,428.9 L210.9,426.3 L211.9,423.7 L212.9,421.1 L214.0,418.6 L215.0,416.0 L216.0,413.4 L217.1,410.9 L218.1,408.4 L219.2,405.8 L220.2,403.3 L221.2,400.8 L222.3,398.3 L223.3,395.9 L224.3,393.4 L225.4,391.0 L226.4,388.6 L227.4,386.1 L228.5,383.7 L229.5,381.4 L230.5,379.0 L231.6,376.6 L232.6,374.3 L233.7,372.0 L234.7,369.7 L235.7,367.4 L236.8,365.1 L237.8,362.9 L238.8,360.7 L239.9,358.5 L240.9,356.3 L241.9,354.1 L243.0,351.9 L244.0,349.8 L245.1,347.7 L246.1,345.6 L247.1,343.5 L248.2,341.5 L249.2,339.5 L250.2,337.4 L251.3,335.5 L252.3,333.5 L253.3,331.6 L254.4,329.6 L255.4,327.7 L256.4,325.9 L257.5,324.0 L258.5,322.2 L259.6,320.4 L260.6,318.6 L261.6,316.9 L262.7,315.2 L263.7,313.5 L264.7,311.8 L265.8,310.1 L266.8,308.5 L267.8,306.9 L268.9,305.4 L269.9,303.8 L271.0,302.3 L272.0,300.8 L273.0,299.4 L274.1,297.9 L275.1,296.5 L276.1,295.1 L277.2,293.8 L278.2,292.5 L279.2,291.2 L280.3,289.9 L281.3,288.7 L282.3,287.5 L283.4,286.3 L284.4,285.1 L285.5,284.0 L286.5,282.9 L287.5,281.9 L288.6,280.9 L289.6,279.9 L290.6,278.9 L291.7,278.0 L292.7,277.0 L293.7,276.2 L294.8,275.3 L295.8,274.5 L296.9,273.7 L297.9,273.0 L298.9,272.3 L300.0,271.6 L301.0,270.9 L302.0,270.3 L303.1,269.7 L304.1,269.1 L305.1,268.6 L306.2,268.1 L307.2,267.6 L308.2,267.2 L309.3,266.8 L310.3,266.4 L311.4,266.1 L312.4,265.8 L313.4,265.5 L314.5,265.3 L315.5,265.1 L316.5,264.9 L317.6,264.7 L318.6,264.6 L319.6,264.6 L320.7,264.5 L321.7,264.5 L322.8,264.5 L323.8,264.6 L324.8,264.7 L325.9,264.8 L326.9,264.9 L327.9,265.1 L329.0,265.3 L330.0,265.6 L331.0,265.8 L332.1,266.2 L333.1,266.5 L334.1,266.9 L335.2,267.3 L336.2,267.7 L337.3,268.2 L338.3,268.7 L339.3,269.2 L340.4,269.8 L341.4,270.4 L342.4,271.0 L343.5,271.7 L344.5,272.4 L345.5,273.1 L346.6,273.9 L347.6,274.7 L348.7,275.5 L349.7,276.3 L350.7,277.2 L351.8,278.1 L352.8,279.1 L353.8,280.1 L354.9,281.1 L355.9,282.1 L356.9,283.2 L358.0,284.3 L359.0,285.4 L360.0,286.5 L361.1,287.7 L362.1,288.9 L363.2,290.2 L364.2,291.4 L365.2,292.7 L366.3,294.1 L367.3,295.4 L368.3,296.8 L369.4,298.2 L370.4,299.6 L371.4,301.1 L372.5,302.6 L373.5,304.1 L374.6,305.7 L375.6,307.2 L376.6,308.8 L377.7,310.5 L378.7,312.1 L379.7,313.8 L380.8,315.5 L381.8,317.2 L382.8,319.0 L383.9,320.8 L384.9,322.6 L385.9,324.4 L387.0,326.3 L388.0,328.1 L389.1,330.0 L390.1,331.9 L391.1,333.9 L392.2,335.9 L393.2,337.8 L394.2,339.9 L395.3,341.9 L396.3,343.9 L397.3,346.0 L398.4,348.1 L399.4,350.2 L400.5,352.4 L401.5,354.5 L402.5,356.7 L403.6,358.9 L404.6,361.1 L405.6,363.3 L406.7,365.6 L407.7,367.9 L408.7,370.1 L409.8,372.5 L410.8,374.8 L411.8,377.1 L412.9,379.5 L413.9,381.8 L415.0,384.2 L416.0,386.6 L417.0,389.0 L418.1,391.5 L419.1,393.9 L420.1,396.4 L421.2,398.8 L422.2,401.3 L423.2,403.8 L424.3,406.3 L425.3,408.9 L426.4,411.4 L427.4,413.9 L428.4,416.5 L429.5,419.1 L430.5,421.6 L431.5,424.2 L432.6,426.8 L433.6,429.4 L434.6,432.1 L435.7,434.7 L436.7,437.3 L437.7,439.9 L438.8,442.6 L439.8,445.2 L440.9,447.9 L441.9,450.6 L442.9,453.2 L444.0,455.9 L445.0,458.6 L446.0,461.3 L447.1,464.0 L448.1,466.7 L449.1,469.4 L450.2,472.1 L451.2,474.8 L452.3,477.5 L453.3,480.2 L454.3,482.9 L455.4,485.6 L456.4,488.3 L457.4,491.0 L458.5,493.8 L459.5,496.5 L460.5,499.2 L461.6,501.9 L462.6,504.6 L463.6,507.3 L464.7,510.0 L465.7,512.7 L466.8,515.4 L467.8,518.1 L468.8,520.8 L469.9,523.5 L470.9,526.2 L471.9,528.8 L473.0,531.5 L474.0,534.2 L475.0,536.8 L476.1,539.5 L477.1,542.1 L478.2,544.7 L479.2,547.4 L480.2,550.0 L481.3,552.6 L482.3,555.2 L483.3,557.8 L484.4,560.4 L485.4,563.0 L486.4,565.5 L487.5,568.1 L488.5,570.6 L489.5,573.2 L490.6,575.7 L491.6,578.2 L492.7,580.7 L493.7,583.2 L494.7,585.6 L495.8,588.1 L496.8,590.5 L497.8,592.9 L498.9,595.3 L499.9,597.7 L500.9,600.1 L502.0,602.5 L503.0,604.8 L504.1,607.2 L505.1,609.5 L506.1,611.8 L507.2,614.1 L508.2,616.3 L509.2,618.6 L510.3,620.8 L511.3,623.0 L512.3,625.2 L513.4,627.3 L514.4,629.5 L515.4,631.6 L516.5,633.7 L517.5,635.8 L518.6,637.9 L519.6,639.9 L520.6,642.0 L521.7,644.0 L522.7,645.9 L523.7,647.9 L524.8,649.8 L525.8,651.7 L526.8,653.6 L527.9,655.5 L528.9,657.3 L530.0,659.2 L531.0,660.9 L532.0,662.7 L533.1,664.5 L534.1,666.2 L535.1,667.9 L536.2,669.5 L537.2,671.2 L538.2,672.8 L539.3,674.4 L540.3,675.9 L541.3,677.5 L542.4,679.0 L543.4,680.5 L544.5,681.9 L545.5,683.4 L546.5,684.8 L547.6,686.1 L548.6,687.5 L549.6,688.8 L550.7,690.1 L551.7,691.3 L552.7,692.6 L553.8,693.8 L554.8,694.9 L555.9,696.1 L556.9,697.2 L557.9,698.3 L559.0,699.3 L560.0,700.3 L561.0,701.3 L562.1,702.3 L563.1,703.2 L564.1,704.1 L565.2,705.0 L566.2,705.8 L567.2,706.6 L568.3,707.4 L569.3,708.2 L570.4,708.9 L571.4,709.6 L572.4,710.2 L573.5,710.8 L574.5,711.4 L575.5,712.0 L576.6,712.5 L577.6,713.0 L578.6,713.5 L579.7,713.9 L580.7,714.3 L581.8,714.6 L582.8,715.0 L583.8,715.3 L584.9,715.5 L585.9,715.8 L586.9,716.0 L588.0,716.1 L589.0,716.3 L590.0,716.4 L591.1,716.5 L592.1,716.5 L593.1,716.5 L594.2,716.5 L595.2,716.4 L596.3,716.3 L597.3,716.2 L598.3,716.0 L599.4,715.9 L600.4,715.6 L601.4,715.4 L602.5,715.1 L603.5,714.8 L604.5,714.4 L605.6,714.0 L606.6,713.6 L607.7,713.2 L608.7,712.7 L609.7,712.2 L610.8,711.6 L611.8,711.1 L612.8,710.5 L613.9,709.8 L614.9,709.2 L615.9,708.5 L617.0,707.7 L618.0,707.0 L619.0,706.2 L620.1,705.3 L621.1,704.5 L622.2,703.6 L623.2,702.7 L624.2,701.7 L625.3,700.7 L626.3,699.7 L627.3,698.7 L628.4,697.6 L629.4,696.5 L630.4,695.4 L631.5,694.2 L632.5,693.0 L633.6,691.8 L634.6,690.6 L635.6,689.3 L636.7,688.0 L637.7,686.7 L638.7,685.3 L639.8,683.9 L640.8,682.5 L641.8,681.1 L642.9,679.6 L643.9,678.1 L644.9,676.6 L646.0,675.0 L647.0,673.4 L648.1,671.8 L649.1,670.2 L650.1,668.5 L651.2,666.9 L652.2,665.1 L653.2,663.4 L654.3,661.7 L655.3,659.9 L656.3,658.1 L657.4,656.2 L658.4,654.4 L659.5,652.5 L660.5,650.6 L661.5,648.7 L662.6,646.7 L663.6,644.7 L664.6,642.8 L665.7,640.7 L666.7,638.7 L667.7,636.6 L668.8,634.6 L669.8,632.5 L670.8,630.3 L671.9,628.2 L672.9,626.0 L674.0,623.9 L675.0,621.7 L676.0,619.4 L677.1,617.2 L678.1,615.0 L679.1,612.7 L680.2,610.4 L681.2,608.1 L682.2,605.8 L683.3,603.4 L684.3,601.1 L685.4,598.7 L686.4,596.3 L687.4,593.9 L688.5,591.5 L689.5,589.0 L690.5,586.6 L691.6,584.1 L692.6,581.7 L693.6,579.2 L694.7,576.7 L695.7,574.2 L696.7,571.6 L697.8,569.1 L698.8,566.5 L699.9,564.0 L700.9,561.4 L701.9,558.8 L703.0,556.2 L704.0,553.6 L705.0,551.0 L706.1,548.4 L707.1,545.8 L708.1,543.2 L709.2,540.5 L710.2,537.9 L711.3,535.2 L712.3,532.6 L713.3,529.9 L714.4,527.2 L715.4,524.5 L716.4,521.9 L717.5,519.2 L718.5,516.5 L719.5,513.8 L720.6,511.1 L721.6,508.4 L722.6,505.7 L723.7,503.0 L724.7,500.3 L725.8,497.5 L726.8,494.8 L727.8,492.1 L728.9,489.4 L729.9,486.7 L730.9,484.0 L732.0,481.3 L733.0,478.6 L734.0,475.9 L735.1,473.2 L736.1,470.5 L737.2,467.8 L738.2,465.1 L739.2,462.4 L740.3,459.7 L741.3,457.0 L742.3,454.3 L743.4,451.6 L744.4,449.0 L745.4,446.3 L746.5,443.7 L747.5,441.0 L748.5,438.4 L749.6,435.7 L750.6,433.1 L751.7,430.5 L752.7,427.9 L753.7,425.3 L754.8,422.7 L755.8,420.1 L756.8,417.5 L757.9,415.0 L758.9,412.4 L759.9,409.9 L761.0,407.3 L762.0,404.8 L763.1,402.3 L764.1,399.8 L765.1,397.4 L766.2,394.9 L767.2,392.4 L768.2,390.0 L769.3,387.6 L770.3,385.2 L771.3,382.8 L772.4,380.4 L773.4,378.0 L774.4,375.7 L775.5,373.4 L776.5,371.1 L777.6,368.8 L778.6,366.5 L779.6,364.2 L780.7,362.0 L781.7,359.8 L782.7,357.6 L783.8,355.4 L784.8,353.2 L785.8,351.1 L786.9,349.0 L787.9,346.8 L789.0,344.8 L790.0,342.7 L791.0,340.7 L792.1,338.6 L793.1,336.6 L794.1,334.7 L795.2,332.7 L796.2,330.8 L797.2,328.9 L798.3,327.0 L799.3,325.1 L800.3,323.3 L801.4,321.5 L802.4,319.7 L803.5,317.9 L804.5,316.2 L805.5,314.5 L806.6,312.8 L807.6,311.1 L808.6,309.5 L809.7,307.9 L810.7,306.3 L811.7,304.7 L812.8,303.2 L813.8,301.7 L814.9,300.2 L815.9,298.8 L816.9,297.4 L818.0,296.0 L819.0,294.6 L820.0,293.3 L821.1,291.9 L822.1,290.7 L823.1,289.4 L824.2,288.2 L825.2,287.0 L826.2,285.8 L827.3,284.7 L828.3,283.6 L829.4,282.5 L830.4,281.5 L831.4,280.5 L832.5,279.5 L833.5,278.5 L834.5,277.6 L835.6,276.7 L836.6,275.8 L837.6,275.0 L838.7,274.2 L839.7,273.4 L840.8,272.7 L841.8,272.0 L842.8,271.3 L843.9,270.7 L844.9,270.0 L845.9,269.5 L847.0,268.9 L848.0,268.4 L849.0,267.9 L850.1,267.5 L851.1,267.0 L852.1,266.6 L853.2,266.3 L854.2,266.0 L855.3,265.7 L856.3,265.4 L857.3,265.2 L858.4,265.0 L859.4,264.8 L860.4,264.7 L861.5,264.6 L862.5,264.5 L863.5,264.5 L864.6,264.5 L865.6,264.5 L866.7,264.6 L867.7,264.7 L868.7,264.8 L869.8,265.0 L870.8,265.2 L871.8,265.4 L872.9,265.7 L873.9,266.0 L874.9,266.3 L876.0,266.6 L877.0,267.0 L878.0,267.5 L879.1,267.9 L880.1,268.4 L881.2,268.9 L882.2,269.5 L883.2,270.0 L884.3,270.7 L885.3,271.3 L886.3,272.0 L887.4,272.7 L888.4,273.4 L889.4,274.2 L890.5,275.0 L891.5,275.8 L892.6,276.7 L893.6,277.6 L894.6,278.5 L895.7,279.5 L896.7,280.5 L897.7,281.5 L898.8,282.5 L899.8,283.6 L900.8,284.7 L901.9,285.8 L902.9,287.0 L903.9,288.2 L905.0,289.4 L906.0,290.7 L907.1,292.0 L908.1,293.3 L909.1,294.6 L910.2,296.0 L911.2,297.4 L912.2,298.8 L913.3,300.2 L914.3,301.7 L915.3,303.2 L916.4,304.7 L917.4,306.3 L918.5,307.9 L919.5,309.5 L920.5,311.1 L921.6,312.8 L922.6,314.5 L923.6,316.2 L924.7,317.9 L925.7,319.7 L926.7,321.5 L927.8,323.3 L928.8,325.1 L929.8,327.0 L930.9,328.9 L931.9,330.8 L933.0,332.7 L934.0,334.7 L935.0,336.7 L936.1,338.6 L937.1,340.7 L938.1,342.7 L939.2,344.8 L940.2,346.9 L941.2,349.0 L942.3,351.1 L943.3,353.2 L944.4,355.4 L945.4,357.6 L946.4,359.8 L947.5,362.0 L948.5,364.2 L949.5,366.5 L950.6,368.8 L951.6,371.1 L952.6,373.4 L953.7,375.7 L954.7,378.1 L955.7,380.4 L956.8,382.8 L957.8,385.2 L958.9,387.6 L959.9,390.0 L960.9,392.4 L962.0,394.9 L963.0,397.4 L964.0,399.8 L965.1,402.3 L966.1,404.8 L967.1,407.3 L968.2,409.9 L969.2,412.4 L970.3,415.0 L971.3,417.5 L972.3,420.1 L973.4,422.7 L974.4,425.3 L975.4,427.9 L976.5,430.5 L977.5,433.1 L978.5,435.7 L979.6,438.4 L980.6,441.0 L981.6,443.7 L982.7,446.3 L983.7,449.0 L984.8,451.6 L985.8,454.3 L986.8,457.0 L987.9,459.7 L988.9,462.4 L989.9,465.1 L991.0,467.8 L992.0,470.5 L993.0,473.2 L994.1,475.9 L995.1,478.6 L996.2,481.3 L997.2,484.0 L998.2,486.7 L999.3,489.4 L1000.3,492.1 L1001.3,494.8 L1002.4,497.6 L1003.4,500.3 L1004.4,503.0 L1005.5,505.7 L1006.5,508.4 L1007.5,511.1 L1008.6,513.8 L1009.6,516.5 L1010.7,519.2 L1011.7,521.9 L1012.7,524.5 L1013.8,527.2 L1014.8,529.9 L1015.8,532.6 L1016.9,535.2 L1017.9,537.9 L1018.9,540.5 L1020.0,543.2 L1021.0,545.8 L1022.1,548.4 L1023.1,551.0 L1024.1,553.7 L1025.2,556.3 L1026.2,558.8 L1027.2,561.4 L1028.3,564.0 L1029.3,566.6 L1030.3,569.1 L1031.4,571.6 L1032.4,574.2 L1033.4,576.7 L1034.5,579.2 L1035.5,581.7 L1036.6,584.1 L1037.6,586.6 L1038.6,589.1 L1039.7,591.5 L1040.7,593.9 L1041.7,596.3 L1042.8,598.7 L1043.8,601.1 L1044.8,603.4 L1045.9,605.8 L1046.9,608.1 L1048.0,610.4 L1049.0,612.7 L1050.0,615.0 L1051.1,617.2 L1052.1,619.5 L1053.1,621.7 L1054.2,623.9 L1055.2,626.0 L1056.2,628.2 L1057.3,630.4 L1058.3,632.5 L1059.3,634.6 L1060.4,636.6 L1061.4,638.7 L1062.5,640.7 L1063.5,642.8 L1064.5,644.8 L1065.6,646.7 L1066.6,648.7 L1067.6,650.6 L1068.7,652.5 L1069.7,654.4 L1070.7,656.2 L1071.8,658.1 L1072.8,659.9 L1073.9,661.7 L1074.9,663.4 L1075.9,665.2 L1077.0,666.9 L1078.0,668.5 L1079.0,670.2 L1080.1,671.8 L1081.1,673.4 L1082.1,675.0 L1083.2,676.6 L1084.2,678.1 L1085.2,679.6 L1086.3,681.1 L1087.3,682.5 L1088.4,683.9 L1089.4,685.3 L1090.4,686.7 L1091.5,688.0 L1092.5,689.3 L1093.5,690.6 L1094.6,691.8 L1095.6,693.1 L1096.6,694.2 L1097.7,695.4 L1098.7,696.5 L1099.8,697.6 L1100.8,698.7 L1101.8,699.7 L1102.9,700.7 L1103.9,701.7 L1104.9,702.7 L1106.0,703.6 L1107.0,704.5 L1108.0,705.3 L1109.1,706.2 L1110.1,707.0 L1111.1,707.7 L1112.2,708.5 L1113.2,709.2 L1114.3,709.8 L1115.3,710.5 L1116.3,711.1 L1117.4,711.6 L1118.4,712.2 L1119.4,712.7 L1120.5,713.2 L1121.5,713.6 L1122.5,714.0 L1123.6,714.4 L1124.6,714.8 L1125.7,715.1 L1126.7,715.4 L1127.7,715.6 L1128.8,715.9 L1129.8,716.0 L1130.8,716.2 L1131.9,716.3 L1132.9,716.4 L1133.9,716.5 L1135.0,716.5 L1136.0,716.5 L1137.0,716.5 L1138.1,716.4 L1139.1,716.3 L1140.2,716.1 L1141.2,716.0 L1142.2,715.8 L1143.3,715.5 L1144.3,715.3 L1145.3,715.0 L1146.4,714.6 L1147.4,714.3 L1148.4,713.9 L1149.5,713.5 L1150.5,713.0 L1151.6,712.5 L1152.6,712.0 L1153.6,711.4 L1154.7,710.8 L1155.7,710.2 L1156.7,709.6 L1157.8,708.9 L1158.8,708.2 L1159.8,707.4 L1160.9,706.6 L1161.9,705.8 L1162.9,705.0 L1164.0,704.1 L1165.0,703.2 L1166.1,702.3 L1167.1,701.3 L1168.1,700.3 L1169.2,699.3 L1170.2,698.3 L1171.2,697.2 L1172.3,696.1 L1173.3,694.9 L1174.3,693.8 L1175.4,692.6 L1176.4,691.3 L1177.5,690.1 L1178.5,688.8 L1179.5,687.5 L1180.6,686.1 L1181.6,684.8 L1182.6,683.4 L1183.7,681.9 L1184.7,680.5 L1185.7,679.0 L1186.8,677.5 L1187.8,675.9 L1188.8,674.4 L1189.9,672.8 L1190.9,671.2 L1192.0,669.5 L1193.0,667.9 L1194.0,666.2 L1195.1,664.5 L1196.1,662.7 L1197.1,660.9 L1198.2,659.1 L1199.2,657.3 L1200.2,655.5 L1201.3,653.6 L1202.3,651.7 L1203.4,649.8 L1204.4,647.9 L1205.4,645.9 L1206.5,643.9 L1207.5,641.9 L1208.5,639.9 L1209.6,637.9 L1210.6,635.8 L1211.6,633.7 L1212.7,631.6 L1213.7,629.5 L1214.7,627.3 L1215.8,625.2 L1216.8,623.0 L1217.9,620.8 L1218.9,618.6 L1219.9,616.3 L1221.0,614.0 L1222.0,611.8 L1223.0,609.5 L1224.1,607.2 L1225.1,604.8 L1226.1,602.5 L1227.2,600.1 L1228.2,597.7 L1229.3,595.3 L1230.3,592.9 L1231.3,590.5 L1232.4,588.1 L1233.4,585.6 L1234.4,583.1 L1235.5,580.7 L1236.5,578.2 L1237.5,575.7 L1238.6,573.1 L1239.6,570.6 L1240.6,568.1 L1241.7,565.5 L1242.7,563.0 L1243.8,560.4 L1244.8,557.8 L1245.8,555.2 L1246.9,552.6 L1247.9,550.0 L1248.9,547.4 L1250.0,544.7 L1251.0,542.1 L1252.0,539.5 L1253.1,536.8 L1254.1,534.2 L1255.2,531.5 L1256.2,528.8 L1257.2,526.1 L1258.3,523.5 L1259.3,520.8 L1260.3,518.1 L1261.4,515.4 L1262.4,512.7 L1263.4,510.0 L1264.5,507.3 L1265.5,504.6 L1266.5,501.9 L1267.6,499.2 L1268.6,496.5 L1269.7,493.7 L1270.7,491.0 L1271.7,488.3 L1272.8,485.6 L1273.8,482.9 L1274.8,480.2 L1275.9,477.5 L1276.9,474.8 L1277.9,472.1 L1279.0,469.4 L1280.0,466.7 L1281.1,464.0 L1282.1,461.3 L1283.1,458.6 L1284.2,455.9 L1285.2,453.2 L1286.2,450.6 L1287.3,447.9 L1288.3,445.2 L1289.3,442.6 L1290.4,439.9 L1291.4,437.3 L1292.4,434.7 L1293.5,432.0 L1294.5,429.4 L1295.6,426.8 L1296.6,424.2 L1297.6,421.6 L1298.7,419.1 L1299.7,416.5 L1300.7,413.9 L1301.8,411.4 L1302.8,408.9 L1303.8,406.3 L1304.9,403.8 L1305.9,401.3 L1307.0,398.8 L1308.0,396.4 L1309.0,393.9 L1310.1,391.5 L1311.1,389.0 L1312.1,386.6 L1313.2,384.2 L1314.2,381.8 L1315.2,379.5 L1316.3,377.1 L1317.3,374.8 L1318.3,372.4 L1319.4,370.1 L1320.4,367.9 L1321.5,365.6 L1322.5,363.3 L1323.5,361.1 L1324.6,358.9 L1325.6,356.7 L1326.6,354.5 L1327.7,352.4 L1328.7,350.2 L1329.7,348.1 L1330.8,346.0 L1331.8,343.9 L1332.9,341.9 L1333.9,339.8 L1334.9,337.8 L1336.0,335.9 L1337.0,333.9 L1338.0,331.9 L1339.1,330.0 L1340.1,328.1 L1341.1,326.2 L1342.2,324.4 L1343.2,322.6 L1344.2,320.8 L1345.3,319.0 L1346.3,317.2 L1347.4,315.5 L1348.4,313.8 L1349.4,312.1 L1350.5,310.5 L1351.5,308.8 L1352.5,307.2 L1353.6,305.7 L1354.6,304.1 L1355.6,302.6 L1356.7,301.1 L1357.7,299.6 L1358.8,298.2 L1359.8,296.8 L1360.8,295.4 L1361.9,294.1 L1362.9,292.7 L1363.9,291.4 L1365.0,290.2 L1366.0,288.9 L1367.0,287.7 L1368.1,286.5 L1369.1,285.4 L1370.1,284.2 L1371.2,283.2 L1372.2,282.1 L1373.3,281.1 L1374.3,280.1 L1375.3,279.1 L1376.4,278.1 L1377.4,277.2 L1378.4,276.3 L1379.5,275.5 L1380.5,274.7 L1381.5,273.9 L1382.6,273.1 L1383.6,272.4 L1384.7,271.7 L1385.7,271.0 L1386.7,270.4 L1387.8,269.8 L1388.8,269.2 L1389.8,268.7 L1390.9,268.2 L1391.9,267.7 L1392.9,267.3 L1394.0,266.9 L1395.0,266.5 L1396.0,266.2 L1397.1,265.8 L1398.1,265.6 L1399.2,265.3 L1400.2,265.1 L1401.2,264.9 L1402.3,264.8 L1403.3,264.7 L1404.3,264.6 L1405.4,264.5 L1406.4,264.5 L1407.4,264.5 L1408.5,264.6 L1409.5,264.6 L1410.6,264.7 L1411.6,264.9 L1412.6,265.1 L1413.7,265.3 L1414.7,265.5 L1415.7,265.8 L1416.8,266.1 L1417.8,266.4 L1418.8,266.8 L1419.9,267.2 L1420.9,267.6 L1421.9,268.1 L1423.0,268.6 L1424.0,269.1 L1425.1,269.7 L1426.1,270.3 L1427.1,270.9 L1428.2,271.6 L1429.2,272.3 L1430.2,273.0 L1431.3,273.7 L1432.3,274.5 L1433.3,275.3 L1434.4,276.2 L1435.4,277.1 L1436.5,278.0 L1437.5,278.9 L1438.5,279.9 L1439.6,280.9 L1440.6,281.9 L1441.6,282.9 L1442.7,284.0 L1443.7,285.2 L1444.7,286.3 L1445.8,287.5 L1446.8,288.7 L1447.8,289.9 L1448.9,291.2 L1449.9,292.5 L1451.0,293.8 L1452.0,295.1 L1453.0,296.5 L1454.1,297.9 L1455.1,299.4 L1456.1,300.8 L1457.2,302.3 L1458.2,303.8 L1459.2,305.4 L1460.3,306.9 L1461.3,308.5 L1462.4,310.2 L1463.4,311.8 L1464.4,313.5 L1465.5,315.2 L1466.5,316.9 L1467.5,318.6 L1468.6,320.4 L1469.6,322.2 L1470.6,324.0 L1471.7,325.9 L1472.7,327.8 L1473.7,329.6 L1474.8,331.6 L1475.8,333.5 L1476.9,335.5 L1477.9,337.5 L1478.9,339.5 L1480.0,341.5 L1481.0,343.5 L1482.0,345.6 L1483.1,347.7 L1484.1,349.8 L1485.1,351.9 L1486.2,354.1 L1487.2,356.3 L1488.3,358.5 L1489.3,360.7 L1490.3,362.9 L1491.4,365.1 L1492.4,367.4 L1493.4,369.7 L1494.5,372.0 L1495.5,374.3 L1496.5,376.6 L1497.6,379.0 L1498.6,381.4 L1499.6,383.7 L1500.7,386.1 L1501.7,388.6 L1502.8,391.0 L1503.8,393.4 L1504.8,395.9 L1505.9,398.4 L1506.9,400.8 L1507.9,403.3 L1509.0,405.8 L1510.0,408.4 L1511.0,410.9 L1512.1,413.4 L1513.1,416.0 L1514.2,418.6 L1515.2,421.1 L1516.2,423.7 L1517.3,426.3 L1518.3,428.9 L1519.3,431.5 L1520.4,434.2 L1521.4,436.8 L1522.4,439.4 L1523.5,442.1 L1524.5,444.7 L1525.5,447.4 L1526.6,450.0 L1527.6,452.7 L1528.7,455.4 L1529.7,458.1 L1530.7,460.8 L1531.8,463.5 L1532.8,466.1 L1533.8,468.8 L1534.9,471.5 L1535.9,474.3 L1536.9,477.0 L1538.0,479.7 L1539.0,482.4 L1540.1,485.1 L1541.1,487.8 L1542.1,490.5 L1543.2,493.2 L1544.2,495.9 L1545.2,498.6 L1546.3,501.4 L1547.3,504.1 L1548.3,506.8 L1549.4,509.5 L1550.4,512.2 L1551.4,514.9 L1552.5,517.6 L1553.5,520.3 L1554.6,522.9 L1555.6,525.6 L1556.6,528.3 L1557.7,531.0 L1558.7,533.6 L1559.7,536.3 L1560.8,538.9 L1561.8,541.6 L1562.8,544.2 L1563.9,546.9 L1564.9,549.5 L1566.0,552.1 L1567.0,554.7 L1568.0,557.3 L1569.1,559.9 L1570.1,562.5 L1571.1,565.0 L1572.2,567.6 L1573.2,570.1 L1574.2,572.7 L1575.3,575.2 L1576.3,577.7 L1577.3,580.2 L1578.4,582.7 L1579.4,585.1 L1580.5,587.6 L1581.5,590.0 L1582.5,592.5 L1583.6,594.9 L1584.6,597.3 L1585.6,599.6 L1586.7,602.0 L1587.7,604.4 L1588.7,606.7 L1589.8,609.0 L1590.8,611.3 L1591.9,613.6 L1592.9,615.9 L1593.9,618.1 L1595.0,620.3 L1596.0,622.6 L1597.0,624.7 L1598.1,626.9 L1599.1,629.1 L1600.1,631.2 L1601.2,633.3 L1602.2,635.4 L1603.2,637.5 L1604.3,639.5 L1605.3,641.6 L1606.4,643.6 L1607.4,645.5 L1608.4,647.5 L1609.5,649.4 L1610.5,651.4 L1611.5,653.3 L1612.6,655.1 L1613.6,657.0 L1614.6,658.8 L1615.7,660.6 L1616.7,662.4 L1617.8,664.1 L1618.8,665.8 L1619.8,667.5 L1620.9,669.2 L1621.9,670.9 L1622.9,672.5 L1624.0,674.1 L1625.0,675.6 L1626.0,677.2 L1627.1,678.7 L1628.1,680.2 L1629.1,681.6 L1630.2,683.1 L1631.2,684.5 L1632.3,685.9 L1633.3,687.2 L1634.3,688.5 L1635.4,689.8 L1636.4,691.1 L1637.4,692.3 L1638.5,693.5 L1639.5,694.7 L1640.5,695.9 L1641.6,697.0 L1642.6,698.1 L1643.7,699.1 L1644.7,700.1 L1645.7,701.1 L1646.8,702.1 L1647.8,703.0 L1648.8,704.0 L1649.9,704.8 L1650.9,705.7 L1651.9,706.5 L1653.0,707.3 L1654.0,708.0 L1655.0,708.7 L1656.1,709.4 L1657.1,710.1 L1658.2,710.7 L1659.2,711.3 L1660.2,711.9 L1661.3,712.4 L1662.3,712.9 L1663.3,713.4 L1664.4,713.8 L1665.4,714.2 L1666.4,714.6 L1667.5,714.9 L1668.5,715.2 L1669.6,715.5 L1670.6,715.7 L1671.6,715.9 L1672.7,716.1 L1673.7,716.3 L1674.7,716.4 L1675.8,716.4 L1676.8,716.5 L1677.8,716.5 L1678.9,716.5 L1679.9,716.4 L1680.9,716.3 L1682.0,716.2 L1683.0,716.1 L1684.1,715.9 L1685.1,715.7 L1686.1,715.4 L1687.2,715.2 L1688.2,714.8 L1689.2,714.5 L1690.3,714.1 L1691.3,713.7 L1692.3,713.3 L1693.4,712.8 L1694.4,712.3 L1695.5,711.8 L1696.5,711.2 L1697.5,710.6 L1698.6,710.0 L1699.6,709.3 L1700.6,708.6 L1701.7,707.9 L1702.7,707.1 L1703.7,706.3 L1704.8,705.5 L1705.8,704.7 L1706.8,703.8 L1707.9,702.9 L1708.9,701.9 L1710.0,700.9 L1711.0,699.9 L1712.0,698.9 L1713.1,697.8 L1714.1,696.7 L1715.1,695.6 L1716.2,694.5 L1717.2,693.3 L1718.2,692.1 L1719.3,690.8 L1720.3,689.6 L1721.4,688.3 L1722.4,686.9 L1723.4,685.6 L1724.5,684.2 L1725.5,682.8 L1726.5,681.3 L1727.6,679.9 L1728.6,678.4 L1729.6,676.9 L1730.7,675.3 L1731.7,673.7 L1732.7,672.1 L1733.8,670.5 L1734.8,668.9 L1735.9,667.2 L1736.9,665.5 L1737.9,663.8 L1739.0,662.0 L1740.0,660.2 L1741.0,658.4 L1742.1,656.6 L1743.1,654.7 L1744.1,652.9 L1745.2,651.0 L1746.2,649.0 L1747.3,647.1 L1748.3,645.1 L1749.3,643.1 L1750.4,641.1 L1751.4,639.1 L1752.4,637.1 L1753.5,635.0 L1754.5,632.9 L1755.5,630.8 L1756.6,628.6 L1757.6,626.5 L1758.6,624.3 L1759.7,622.1 L1760.7,619.9 L1761.8,617.7 L1762.8,615.4 L1763.8,613.1 L1764.9,610.8 L1765.9,608.5 L1766.9,606.2 L1768.0,603.9 L1769.0,601.5 L1770.0,599.2 L1771.1,596.8 L1772.1,594.4 L1773.2,592.0 L1774.2,589.5 L1775.2,587.1 L1776.3,584.6 L1777.3,582.1 L1778.3,579.7 L1779.4,577.2 L1780.4,574.7 L1781.4,572.1 L1782.5,569.6 L1783.5,567.1 L1784.5,564.5 L1785.6,561.9 L1786.6,559.3 L1787.7,556.8 L1788.7,554.2 L1789.7,551.6 L1790.8,548.9 L1791.8,546.3 L1792.8,543.7 L1793.9,541.0 L1794.9,538.4 L1795.9,535.7 L1797.0,533.1 L1798.0,530.4 L1799.1,527.7 L1800.1,525.1 L1801.1,522.4 L1802.2,519.7 L1803.2,517.0 L1804.2,514.3 L1805.3,511.6 L1806.3,508.9 L1807.3,506.2 L1808.4,503.5 L1809.4,500.8 L1810.4,498.1 L1811.5,495.4 L1812.5,492.7 L1813.6,489.9 L1814.6,487.2 L1815.6,484.5 L1816.7,481.8 L1817.7,479.1 L1818.7,476.4 L1819.8,473.7 L1820.8,471.0 L1821.8,468.3 L1822.9,465.6 L1823.9,462.9 L1825.0,460.2 L1826.0,457.5 L1827.0,454.8 L1828.1,452.2 L1829.1,449.5 L1830.1,446.8 L1831.2,444.2 L1832.2,441.5 L1833.2,438.9 L1834.3,436.2 L1835.3,433.6 L1836.3,431.0 L1837.4,428.4 L1838.4,425.8 L1839.5,423.2 L1840.5,420.6 L1841.5,418.0 L1842.6,415.5 L1843.6,412.9 L1844.6,410.4 L1845.7,407.8 L1846.7,405.3 L1847.7,402.8 L1848.8,400.3 L1849.8,397.8 L1850.9,395.4 L1851.9,392.9 L1852.9,390.5 L1854.0,388.1 L1855.0,385.6 L1856.0,383.3 L1857.1,380.9 L1858.1,378.5 L1859.1,376.2 L1860.2,373.8 L1861.2,371.5 L1862.2,369.2 L1863.3,366.9 L1864.3,364.7 L1865.4,362.4 L1866.4,360.2 L1867.4,358.0 L1868.5,355.8 L1869.5,353.6 L1870.5,351.5 L1871.6,349.4 L1872.6,347.3 L1873.6,345.2 L1874.7,343.1 L1875.7,341.1 L1876.8,339.0 L1877.8,337.0 L1878.8,335.1 L1879.9,333.1 L1880.9,331.2 L1881.9,329.3 L1883.0,327.4 L1884.0,325.5 L1885.0,323.7 L1886.1,321.8 L1887.1,320.0 L1888.1,318.3 L1889.2,316.5 L1890.2,314.8 L1891.3,313.1 L1892.3,311.5 L1893.3,309.8 L1894.4,308.2 L1895.4,306.6 L1896.4,305.0 L1897.5,303.5 L1898.5,302.0 L1899.5,300.5 L1900.6,299.1 L1901.6,297.6 L1902.7,296.2 L1903.7,294.9 L1904.7,293.5 L1905.8,292.2 L1906.8,290.9 L1907.8,289.7 L1908.9,288.4 L1909.9,287.2 L1910.9,286.1 L1912.0,284.9 L1913.0,283.8 L1914.0,282.7 L1915.1,281.7 L1916.1,280.7 L1917.2,279.7 L1918.2,278.7 L1919.2,277.8 L1920.3,276.9 L1921.3,276.0 L1922.3,275.2 L1923.4,274.4 L1924.4,273.6 L1925.4,272.8 L1926.5,272.1 L1927.5,271.4 L1928.6,270.8 L1929.6,270.2 L1930.6,269.6 L1931.7,269.0 L1932.7,268.5 L1933.7,268.0 L1934.8,267.5 L1935.8,267.1 L1936.8,266.7 L1937.9,266.4 L1938.9,266.0 L1939.9,265.7 L1941.0,265.5 L1942.0,265.2 L1943.1,265.0 L1944.1,264.9 L1945.1,264.7 L1946.2,264.6 L1947.2,264.5 L1948.2,264.5 L1949.3,264.5 L1950.3,264.5 L1951.3,264.6 L1952.4,264.7 L1953.4,264.8 L1954.5,265.0 L1955.5,265.1 L1956.5,265.4 L1957.6,265.6 L1958.6,265.9 L1959.6,266.2 L1960.7,266.6 L1961.7,267.0 L1962.7,267.4 L1963.8,267.8 L1964.8,268.3 L1965.8,268.8 L1966.9,269.4 L1967.9,269.9 L1969.0,270.5 L1970.0,271.2 L1971.0,271.8 L1972.1,272.5 L1973.1,273.3 L1974.1,274.0 L1975.2,274.8 L1976.2,275.7 L1977.2,276.5 L1978.3,277.4 L1979.3,278.3 L1980.4,279.3 L1981.4,280.3 L1982.4,281.3 L1983.5,282.3 L1984.5,283.4 L1985.5,284.5 L1986.6,285.6 L1987.6,286.8 L1988.6,288.0 L1989.7,289.2 L1990.7,290.4 L1991.7,291.7 L1992.8,293.0 L1993.8,294.3 L1994.9,295.7 L1995.9,297.1 L1996.9,298.5 L1998.0,299.9 L1999.0,301.4 L2000.0,302.9 L2001.1,304.4 L2002.1,306.0 L2003.1,307.6 L2004.2,309.2 L2005.2,310.8 L2006.3,312.5 L2007.3,314.2 L2008.3,315.9 L2009.4,317.6 L2010.4,319.4 L2011.4,321.1 L2012.5,322.9 L2013.5,324.8 L2014.5,326.6 L2015.6,328.5 L2016.6,330.4 L2017.6,332.3 L2018.7,334.3 L2019.7,336.3 L2020.8,338.3 L2021.8,340.3 L2022.8,342.3 L2023.9,344.4 L2024.9,346.4 L2025.9,348.5 L2027.0,350.7 L2028.0,352.8 L2029.0,355.0 L2030.1,357.1 L2031.1,359.3 L2032.2,361.6 L2033.2,363.8 L2034.2,366.1 L2035.3,368.3 L2036.3,370.6 L2037.3,372.9 L2038.4,375.2 L2039.4,377.6 L2040.4,379.9 L2041.5,382.3 L2042.5,384.7 L2043.5,387.1 L2044.6,389.5 L2045.6,392.0 L2046.7,394.4 L2047.7,396.9 L2048.7,399.3 L2049.8,401.8 L2050.8,404.3 L2051.8,406.9 L2052.9,409.4 L2053.9,411.9 L2054.9,414.5 L2056.0,417.0 L2057.0,419.6 L2058.1,422.2 L2059.1,424.8 L2060.1,427.4 L2061.2,430.0 L2062.2,432.6 L2063.2,435.2 L2064.3,437.8 L2065.3,440.5 L2066.3,443.1 L2067.4,445.8 L2068.4,448.5 L2069.4,451.1 L2070.5,453.8 L2071.5,456.5 L2072.6,459.2 L2073.6,461.8 L2074.6,464.5 L2075.7,467.2 L2076.7,469.9 L2077.7,472.6 L2078.8,475.3 L2079.8,478.0 L2080.8,480.8 L2081.9,483.5 L2082.9,486.2 L2084.0,488.9 L2085.0,491.6 L2086.0,494.3 L2087.1,497.0 L2088.1,499.7 L2089.1,502.4 L2090.2,505.1 L2091.2,507.9 L2092.2,510.6 L2093.3,513.3 L2094.3,516.0 L2095.3,518.6 L2096.4,521.3 L2097.4,524.0 L2098.5,526.7 L2099.5,529.4 L2100.5,532.0 L2101.6,534.7 L2102.6,537.4 L2103.6,540.0 L2104.7,542.7 L2105.7,545.3 L2106.7,547.9 L2107.8,550.5 L2108.8,553.1 L2109.9,555.7 L2110.9,558.3 L2111.9,560.9 L2113.0,563.5 L2114.0,566.0 L2115.0,568.6 L2116.1,571.1 L2117.1,573.7 L2118.1,576.2 L2119.2,578.7 L2120.2,581.2 L2121.2,583.7 L2122.3,586.1 L2123.3,588.6 L2124.4,591.0 L2125.4,593.4 L2126.4,595.8 L2127.5,598.2 L2128.5,600.6 L2129.5,603.0 L2130.6,605.3 L2131.6,607.6 L2132.6,609.9 L2133.7,612.2 L2134.7,614.5 L2135.8,616.8 L2136.8,619.0 L2137.8,621.2 L2138.9,623.4 L2139.9,625.6 L2140.9,627.8 L2142.0,629.9 L2143.0,632.1 L2144.0,634.2 L2145.1,636.2 L2146.1,638.3 L2147.1,640.3 L2148.2,642.4 L2149.2,644.4 L2150.3,646.3 L2151.3,648.3 L2152.3,650.2 L2153.4,652.1 L2154.4,654.0 L2155.4,655.9 L2156.5,657.7 L2157.5,659.5 L2158.5,661.3 L2159.6,663.1 L2160.6,664.8 L2161.7,666.5 L2162.7,668.2 L2163.7,669.9 L2164.8,671.5 L2165.8,673.1 L2166.8,674.7 L2167.9,676.3 L2168.9,677.8 L2169.9,679.3 L2171.0,680.8 L2172.0,682.2 L2173.0,683.6 L2174.1,685.0 L2175.1,686.4 L2176.2,687.7 L2177.2,689.1 L2178.2,690.3 L2179.3,691.6 L2180.3,692.8 L2181.3,694.0 L2182.4,695.2 L2183.4,696.3 L2184.4,697.4 L2185.5,698.5 L2186.5,699.5 L2187.6,700.6 L2188.6,701.5 L2189.6,702.5 L2190.7,703.4 L2191.7,704.3 L2192.7,705.2 L2193.8,706.0 L2194.8,706.8 L2195.8,707.6 L2196.9,708.3 L2197.9,709.0 L2198.9,709.7 L2200.0,710.3 L2201.0,711.0 L2202.1,711.5 L2203.1,712.1 L2204.1,712.6 L2205.2,713.1 L2206.2,713.5 L2207.2,714.0 L2208.3,714.4 L2209.3,714.7 L2210.3,715.0 L2211.4,715.3 L2212.4,715.6 L2213.5,715.8 L2214.5,716.0 L2215.5,716.2 L2216.6,716.3 L2217.6,716.4 L2218.6,716.5 L2219.7,716.5 L2220.7,716.5 L2221.7,716.5 L2222.8,716.4 L2223.8,716.3 L2224.8,716.2 L2225.9,716.0 L2226.9,715.8 L2228.0,715.6 L2229.0,715.3 L2230.0,715.0 L2231.1,714.7 L2232.1,714.3 L2233.1,714.0 L2234.2,713.5 L2235.2,713.1 L2236.2,712.6 L2237.3,712.1 L2238.3,711.5 L2239.4,711.0 L2240.4,710.3 L2241.4,709.7 L2242.5,709.0 L2243.5,708.3 L2244.5,707.6 L2245.6,706.8 L2246.6,706.0 L2247.6,705.2 L2248.7,704.3 L2249.7,703.4 L2250.7,702.5 L2251.8,701.5 L2252.8,700.5 L2253.9,699.5 L2254.9,698.5 L2255.9,697.4 L2257.0,696.3 L2258.0,695.2"/>
</g>
<g class="sans">
<text transform="translate(185.00,853.00) scale(0.96,1)" font-size="58" text-anchor="middle">0</text>
<text transform="translate(392.20,853.00) scale(0.96,1)" font-size="58" text-anchor="middle">2</text>
<text transform="translate(599.40,853.00) scale(0.96,1)" font-size="58" text-anchor="middle">4</text>
<text transform="translate(806.60,853.00) scale(0.96,1)" font-size="58" text-anchor="middle">6</text>
<text transform="translate(1013.80,853.00) scale(0.96,1)" font-size="58" text-anchor="middle">8</text>
<text transform="translate(1221.00,853.00) scale(0.96,1)" font-size="58" text-anchor="middle">10</text>
<text transform="translate(1428.20,853.00) scale(0.96,1)" font-size="58" text-anchor="middle">12</text>
<text transform="translate(1635.40,853.00) scale(0.96,1)" font-size="58" text-anchor="middle">14</text>
<text transform="translate(1842.60,853.00) scale(0.96,1)" font-size="58" text-anchor="middle">16</text>
<text transform="translate(2049.80,853.00) scale(0.96,1)" font-size="58" text-anchor="middle">18</text>
<text transform="translate(2257.00,853.00) scale(0.96,1)" font-size="58" text-anchor="middle">20</text>
<text transform="translate(165.40,232.30) scale(0.96,1)" font-size="58" text-anchor="end">5</text>
<text transform="translate(165.40,514.80) scale(0.96,1)" font-size="58" text-anchor="end">0</text>
<text transform="translate(165.40,797.30) scale(0.96,1)" font-size="58" text-anchor="end"><tspan letter-spacing="2.3">-</tspan>5</text>
<text transform="translate(1221.50,936.90) scale(0.9556,1)" font-size="66" text-anchor="middle">Time [s]</text>
<text transform="translate(88.30,436.00) rotate(-90) scale(0.9556,1)" font-size="66" text-anchor="middle">Output tracking performance</text>
</g>
<rect x="804" y="131" width="1404" height="86" fill="#fff"/>
<path fill="#262626" shape-rendering="crispEdges" d="M804,131H2208V217H804ZM809,135V212H2203V135Z"/>
<g fill="none" stroke-width="4" shape-rendering="crispEdges"><path stroke="#0000ff" d="M825,174h192"/><path stroke="#ff0000" stroke-dasharray="48 28" d="M1619,174h191"/></g>
<g class="serif">
<text y="187" font-size="56"><tspan x="1030.08" textLength="163.75" lengthAdjust="spacingAndGlyphs">System</tspan> <tspan x="1209.00" textLength="150.37" lengthAdjust="spacingAndGlyphs">output</tspan> <tspan x="1379.00" textLength="43.56" lengthAdjust="spacingAndGlyphs">in</tspan> <tspan class="it" font-size="57.5" x="1442.75 1471.17 1505.41 1541.96">SVAC</tspan></text>
<text y="187" font-size="56"><tspan x="1824.00" textLength="216.97" lengthAdjust="spacingAndGlyphs">Reference</tspan> <tspan x="2057.00" textLength="130.78" lengthAdjust="spacingAndGlyphs">signal</tspan></text>
</g>
</g>
<g id="axes2">
<g stroke="#262626" stroke-width="4" fill="none" shape-rendering="crispEdges" stroke-linecap="butt"><rect x="186" y="1050" width="2072" height="673"/><path fill="#262626" stroke="none" d="M391,1050H395V1073H391ZM391,1700H395V1723H391ZM598,1050H602V1073H598ZM598,1700H602V1723H598ZM805,1050H809V1073H805ZM805,1700H809V1723H805ZM1013,1050H1017V1073H1013ZM1013,1700H1017V1723H1013ZM1220,1050H1224V1073H1220ZM1220,1700H1224V1723H1220ZM1427,1050H1431V1073H1427ZM1427,1700H1431V1723H1427ZM1634,1050H1638V1073H1634ZM1634,1700H1638V1723H1634ZM1841,1050H1845V1073H1841ZM1841,1700H1845V1723H1841ZM2049,1050H2053V1073H2049ZM2049,1700H2053V1723H2049ZM186,1160H208V1164H186ZM2235,1160H2258V1164H2235ZM186,1441H208V1445H186ZM2235,1441H2258V1445H2235Z"/></g>
<clipPath id="clip2"><rect x="184" y="1048" width="2076" height="677"/></clipPath>
<g clip-path="url(#clip2)" fill="none" stroke-width="4.4" stroke-linejoin="round" shape-rendering="crispEdges">
<path stroke="#0000ff" d="M186.0,1426.8 L187.0,1424.5 L188.1,1422.3 L189.1,1420.0 L190.1,1417.7 L191.2,1415.3 L192.2,1413.0 L193.3,1410.7 L194.3,1408.3 L195.3,1406.0 L196.4,1403.6 L197.4,1401.3 L198.4,1398.9 L199.5,1396.5 L200.5,1394.2 L201.5,1391.8 L202.6,1389.4 L203.6,1387.0 L204.6,1384.6 L205.7,1382.2 L206.7,1379.9 L207.8,1377.5 L208.8,1375.1 L209.8,1372.7 L210.9,1370.3 L211.9,1367.9 L212.9,1365.5 L214.0,1363.2 L215.0,1360.8 L216.0,1358.4 L217.1,1356.0 L218.1,1353.7 L219.2,1351.3 L220.2,1349.0 L221.2,1346.6 L222.3,1344.3 L223.3,1342.0 L224.3,1339.6 L225.4,1337.3 L226.4,1335.0 L227.4,1332.7 L228.5,1330.4 L229.5,1328.2 L230.5,1325.9 L231.6,1323.7 L232.6,1321.4 L233.7,1319.2 L234.7,1317.0 L235.7,1314.8 L236.8,1312.6 L237.8,1310.4 L238.8,1308.2 L239.9,1306.1 L240.9,1304.0 L241.9,1301.9 L243.0,1299.7 L244.0,1297.7 L245.1,1295.6 L246.1,1293.5 L247.1,1291.5 L248.2,1289.5 L249.2,1287.5 L250.2,1285.5 L251.3,1283.6 L252.3,1281.6 L253.3,1279.7 L254.4,1277.8 L255.4,1275.9 L256.4,1274.1 L257.5,1272.2 L258.5,1270.4 L259.6,1268.6 L260.6,1266.8 L261.6,1265.1 L262.7,1263.3 L263.7,1261.6 L264.7,1260.0 L265.8,1258.3 L266.8,1256.7 L267.8,1255.0 L268.9,1253.5 L269.9,1251.9 L271.0,1250.4 L272.0,1248.8 L273.0,1247.4 L274.1,1245.9 L275.1,1244.5 L276.1,1243.1 L277.2,1241.7 L278.2,1240.3 L279.2,1239.0 L280.3,1237.7 L281.3,1236.4 L282.3,1235.2 L283.4,1234.0 L284.4,1232.8 L285.5,1231.6 L286.5,1230.5 L287.5,1229.4 L288.6,1228.3 L289.6,1227.3 L290.6,1226.3 L291.7,1225.3 L292.7,1224.4 L293.7,1223.5 L294.8,1222.6 L295.8,1221.7 L296.9,1220.9 L297.9,1220.1 L298.9,1219.3 L300.0,1218.6 L301.0,1217.9 L302.0,1217.2 L303.1,1216.6 L304.1,1216.0 L305.1,1215.4 L306.2,1214.9 L307.2,1214.4 L308.2,1213.9 L309.3,1213.5 L310.3,1213.1 L311.4,1212.7 L312.4,1212.3 L313.4,1212.0 L314.5,1211.8 L315.5,1211.5 L316.5,1211.3 L317.6,1211.1 L318.6,1211.0 L319.6,1210.9 L320.7,1210.8 L321.7,1210.8 L322.8,1210.7 L323.8,1210.8 L324.8,1210.8 L325.9,1210.9 L326.9,1211.0 L327.9,1211.2 L329.0,1211.4 L330.0,1211.6 L331.0,1211.9 L332.1,1212.2 L333.1,1212.5 L334.1,1212.9 L335.2,1213.2 L336.2,1213.7 L337.3,1214.1 L338.3,1214.6 L339.3,1215.2 L340.4,1215.7 L341.4,1216.3 L342.4,1216.9 L343.5,1217.6 L344.5,1218.3 L345.5,1219.0 L346.6,1219.8 L347.6,1220.5 L348.7,1221.4 L349.7,1222.2 L350.7,1223.1 L351.8,1224.0 L352.8,1225.0 L353.8,1225.9 L354.9,1227.0 L355.9,1228.0 L356.9,1229.1 L358.0,1230.2 L359.0,1231.3 L360.0,1232.5 L361.1,1233.7 L362.1,1234.9 L363.2,1236.2 L364.2,1237.4 L365.2,1238.8 L366.3,1240.1 L367.3,1241.5 L368.3,1242.9 L369.4,1244.3 L370.4,1245.8 L371.4,1247.3 L372.5,1248.8 L373.5,1250.3 L374.6,1251.9 L375.6,1253.5 L376.6,1255.1 L377.7,1256.8 L378.7,1258.4 L379.7,1260.1 L380.8,1261.9 L381.8,1263.6 L382.8,1265.4 L383.9,1267.2 L384.9,1269.0 L385.9,1270.9 L387.0,1272.8 L388.0,1274.7 L389.1,1276.6 L390.1,1278.6 L391.1,1280.5 L392.2,1282.5 L393.2,1284.5 L394.2,1286.6 L395.3,1288.6 L396.3,1290.7 L397.3,1292.8 L398.4,1294.9 L399.4,1297.1 L400.5,1299.3 L401.5,1301.4 L402.5,1303.6 L403.6,1305.9 L404.6,1308.1 L405.6,1310.4 L406.7,1312.6 L407.7,1314.9 L408.7,1317.2 L409.8,1319.6 L410.8,1321.9 L411.8,1324.3 L412.9,1326.7 L413.9,1329.0 L415.0,1331.5 L416.0,1333.9 L417.0,1336.3 L418.1,1338.8 L419.1,1341.2 L420.1,1343.7 L421.2,1346.2 L422.2,1348.7 L423.2,1351.2 L424.3,1353.7 L425.3,1356.3 L426.4,1358.8 L427.4,1361.4 L428.4,1364.0 L429.5,1366.5 L430.5,1369.1 L431.5,1371.7 L432.6,1374.3 L433.6,1377.0 L434.6,1379.6 L435.7,1382.2 L436.7,1384.8 L437.7,1387.5 L438.8,1390.1 L439.8,1392.8 L440.9,1395.5 L441.9,1398.1 L442.9,1400.8 L444.0,1403.5 L445.0,1406.2 L446.0,1408.9 L447.1,1411.5 L448.1,1414.2 L449.1,1416.9 L450.2,1419.6 L451.2,1422.3 L452.3,1425.0 L453.3,1427.7 L454.3,1430.4 L455.4,1433.1 L456.4,1435.8 L457.4,1438.5 L458.5,1441.3 L459.5,1444.0 L460.5,1446.7 L461.6,1449.4 L462.6,1452.0 L463.6,1454.7 L464.7,1457.4 L465.7,1460.1 L466.8,1462.8 L467.8,1465.5 L468.8,1468.2 L469.9,1470.8 L470.9,1473.5 L471.9,1476.1 L473.0,1478.8 L474.0,1481.4 L475.0,1484.1 L476.1,1486.7 L477.1,1489.3 L478.2,1492.0 L479.2,1494.6 L480.2,1497.2 L481.3,1499.8 L482.3,1502.4 L483.3,1504.9 L484.4,1507.5 L485.4,1510.0 L486.4,1512.6 L487.5,1515.1 L488.5,1517.6 L489.5,1520.1 L490.6,1522.6 L491.6,1525.1 L492.7,1527.6 L493.7,1530.1 L494.7,1532.5 L495.8,1534.9 L496.8,1537.4 L497.8,1539.8 L498.9,1542.1 L499.9,1544.5 L500.9,1546.9 L502.0,1549.2 L503.0,1551.5 L504.1,1553.9 L505.1,1556.2 L506.1,1558.4 L507.2,1560.7 L508.2,1562.9 L509.2,1565.2 L510.3,1567.4 L511.3,1569.5 L512.3,1571.7 L513.4,1573.9 L514.4,1576.0 L515.4,1578.1 L516.5,1580.2 L517.5,1582.3 L518.6,1584.3 L519.6,1586.3 L520.6,1588.3 L521.7,1590.3 L522.7,1592.3 L523.7,1594.2 L524.8,1596.1 L525.8,1598.0 L526.8,1599.9 L527.9,1601.8 L528.9,1603.6 L530.0,1605.4 L531.0,1607.2 L532.0,1608.9 L533.1,1610.7 L534.1,1612.4 L535.1,1614.0 L536.2,1615.7 L537.2,1617.3 L538.2,1618.9 L539.3,1620.5 L540.3,1622.1 L541.3,1623.6 L542.4,1625.1 L543.4,1626.6 L544.5,1628.0 L545.5,1629.4 L546.5,1630.8 L547.6,1632.2 L548.6,1633.5 L549.6,1634.8 L550.7,1636.1 L551.7,1637.3 L552.7,1638.6 L553.8,1639.8 L554.8,1640.9 L555.9,1642.1 L556.9,1643.2 L557.9,1644.2 L559.0,1645.3 L560.0,1646.3 L561.0,1647.3 L562.1,1648.3 L563.1,1649.2 L564.1,1650.1 L565.2,1650.9 L566.2,1651.8 L567.2,1652.6 L568.3,1653.4 L569.3,1654.1 L570.4,1654.8 L571.4,1655.5 L572.4,1656.1 L573.5,1656.8 L574.5,1657.3 L575.5,1657.9 L576.6,1658.4 L577.6,1658.9 L578.6,1659.4 L579.7,1659.8 L580.7,1660.2 L581.8,1660.6 L582.8,1660.9 L583.8,1661.2 L584.9,1661.5 L585.9,1661.7 L586.9,1661.9 L588.0,1662.1 L589.0,1662.2 L590.0,1662.3 L591.1,1662.4 L592.1,1662.5 L593.1,1662.5 L594.2,1662.5 L595.2,1662.4 L596.3,1662.3 L597.3,1662.2 L598.3,1662.1 L599.4,1661.9 L600.4,1661.7 L601.4,1661.4 L602.5,1661.1 L603.5,1660.8 L604.5,1660.5 L605.6,1660.1 L606.6,1659.7 L607.7,1659.3 L608.7,1658.8 L609.7,1658.3 L610.8,1657.8 L611.8,1657.2 L612.8,1656.6 L613.9,1656.0 L614.9,1655.4 L615.9,1654.7 L617.0,1654.0 L618.0,1653.2 L619.0,1652.4 L620.1,1651.6 L621.1,1650.8 L622.2,1649.9 L623.2,1649.0 L624.2,1648.1 L625.3,1647.1 L626.3,1646.1 L627.3,1645.1 L628.4,1644.1 L629.4,1643.0 L630.4,1641.9 L631.5,1640.8 L632.5,1639.6 L633.6,1638.4 L634.6,1637.2 L635.6,1636.0 L636.7,1634.7 L637.7,1633.4 L638.7,1632.1 L639.8,1630.7 L640.8,1629.3 L641.8,1627.9 L642.9,1626.5 L643.9,1625.0 L644.9,1623.5 L646.0,1622.0 L647.0,1620.5 L648.1,1618.9 L649.1,1617.3 L650.1,1615.7 L651.2,1614.1 L652.2,1612.4 L653.2,1610.7 L654.3,1609.0 L655.3,1607.3 L656.3,1605.5 L657.4,1603.7 L658.4,1601.9 L659.5,1600.1 L660.5,1598.2 L661.5,1596.4 L662.6,1594.5 L663.6,1592.6 L664.6,1590.6 L665.7,1588.7 L666.7,1586.7 L667.7,1584.7 L668.8,1582.7 L669.8,1580.6 L670.8,1578.6 L671.9,1576.5 L672.9,1574.4 L674.0,1572.3 L675.0,1570.1 L676.0,1568.0 L677.1,1565.8 L678.1,1563.6 L679.1,1561.4 L680.2,1559.2 L681.2,1557.0 L682.2,1554.7 L683.3,1552.4 L684.3,1550.1 L685.4,1547.8 L686.4,1545.5 L687.4,1543.2 L688.5,1540.9 L689.5,1538.5 L690.5,1536.1 L691.6,1533.7 L692.6,1531.3 L693.6,1528.9 L694.7,1526.5 L695.7,1524.1 L696.7,1521.6 L697.8,1519.1 L698.8,1516.7 L699.9,1514.2 L700.9,1511.7 L701.9,1509.2 L703.0,1506.7 L704.0,1504.2 L705.0,1501.6 L706.1,1499.1 L707.1,1496.5 L708.1,1494.0 L709.2,1491.4 L710.2,1488.8 L711.3,1486.3 L712.3,1483.7 L713.3,1481.1 L714.4,1478.5 L715.4,1475.9 L716.4,1473.3 L717.5,1470.7 L718.5,1468.0 L719.5,1465.4 L720.6,1462.8 L721.6,1460.2 L722.6,1457.5 L723.7,1454.9 L724.7,1452.2 L725.8,1449.6 L726.8,1447.0 L727.8,1444.3 L728.9,1441.7 L729.9,1439.0 L730.9,1436.4 L732.0,1433.7 L733.0,1431.1 L734.0,1428.4 L735.1,1425.8 L736.1,1423.1 L737.2,1420.5 L738.2,1417.8 L739.2,1415.2 L740.3,1412.6 L741.3,1409.9 L742.3,1407.3 L743.4,1404.7 L744.4,1402.0 L745.4,1399.4 L746.5,1396.8 L747.5,1394.2 L748.5,1391.6 L749.6,1389.0 L750.6,1386.4 L751.7,1383.8 L752.7,1381.3 L753.7,1378.7 L754.8,1376.1 L755.8,1373.6 L756.8,1371.0 L757.9,1368.5 L758.9,1366.0 L759.9,1363.4 L761.0,1360.9 L762.0,1358.4 L763.1,1355.9 L764.1,1353.5 L765.1,1351.0 L766.2,1348.5 L767.2,1346.1 L768.2,1343.7 L769.3,1341.2 L770.3,1338.8 L771.3,1336.4 L772.4,1334.1 L773.4,1331.7 L774.4,1329.3 L775.5,1327.0 L776.5,1324.7 L777.6,1322.4 L778.6,1320.1 L779.6,1317.8 L780.7,1315.6 L781.7,1313.3 L782.7,1311.1 L783.8,1308.9 L784.8,1306.7 L785.8,1304.5 L786.9,1302.4 L787.9,1300.2 L789.0,1298.1 L790.0,1296.0 L791.0,1293.9 L792.1,1291.9 L793.1,1289.8 L794.1,1287.8 L795.2,1285.8 L796.2,1283.9 L797.2,1281.9 L798.3,1280.0 L799.3,1278.1 L800.3,1276.2 L801.4,1274.3 L802.4,1272.5 L803.5,1270.7 L804.5,1268.9 L805.5,1267.1 L806.6,1265.4 L807.6,1263.6 L808.6,1261.9 L809.7,1260.3 L810.7,1258.6 L811.7,1257.0 L812.8,1255.4 L813.8,1253.8 L814.9,1252.3 L815.9,1250.8 L816.9,1249.3 L818.0,1247.8 L819.0,1246.4 L820.0,1245.0 L821.1,1243.6 L822.1,1242.3 L823.1,1240.9 L824.2,1239.7 L825.2,1238.4 L826.2,1237.2 L827.3,1236.0 L828.3,1234.8 L829.4,1233.6 L830.4,1232.5 L831.4,1231.4 L832.5,1230.4 L833.5,1229.3 L834.5,1228.4 L835.6,1227.4 L836.6,1226.5 L837.6,1225.6 L838.7,1224.7 L839.7,1223.8 L840.8,1223.0 L841.8,1222.3 L842.8,1221.5 L843.9,1220.8 L844.9,1220.1 L845.9,1219.5 L847.0,1218.9 L848.0,1218.3 L849.0,1217.7 L850.1,1217.2 L851.1,1216.7 L852.1,1216.3 L853.2,1215.9 L854.2,1215.5 L855.3,1215.1 L856.3,1214.8 L857.3,1214.5 L858.4,1214.3 L859.4,1214.1 L860.4,1213.9 L861.5,1213.7 L862.5,1213.6 L863.5,1213.6 L864.6,1213.5 L865.6,1213.5 L866.7,1213.5 L867.7,1213.6 L868.7,1213.7 L869.8,1213.8 L870.8,1213.9 L871.8,1214.1 L872.9,1214.3 L873.9,1214.6 L874.9,1214.9 L876.0,1215.2 L877.0,1215.6 L878.0,1216.0 L879.1,1216.4 L880.1,1216.8 L881.2,1217.3 L882.2,1217.9 L883.2,1218.4 L884.3,1219.0 L885.3,1219.6 L886.3,1220.3 L887.4,1221.0 L888.4,1221.7 L889.4,1222.4 L890.5,1223.2 L891.5,1224.1 L892.6,1224.9 L893.6,1225.8 L894.6,1226.7 L895.7,1227.7 L896.7,1228.6 L897.7,1229.6 L898.8,1230.7 L899.8,1231.8 L900.8,1232.9 L901.9,1234.0 L902.9,1235.2 L903.9,1236.4 L905.0,1237.6 L906.0,1238.8 L907.1,1240.1 L908.1,1241.4 L909.1,1242.8 L910.2,1244.1 L911.2,1245.6 L912.2,1247.0 L913.3,1248.4 L914.3,1249.9 L915.3,1251.4 L916.4,1253.0 L917.4,1254.6 L918.5,1256.2 L919.5,1257.8 L920.5,1259.4 L921.6,1261.1 L922.6,1262.8 L923.6,1264.5 L924.7,1266.3 L925.7,1268.1 L926.7,1269.9 L927.8,1271.7 L928.8,1273.6 L929.8,1275.4 L930.9,1277.3 L931.9,1279.3 L933.0,1281.2 L934.0,1283.2 L935.0,1285.2 L936.1,1287.2 L937.1,1289.2 L938.1,1291.3 L939.2,1293.4 L940.2,1295.5 L941.2,1297.6 L942.3,1299.7 L943.3,1301.9 L944.4,1304.1 L945.4,1306.3 L946.4,1308.5 L947.5,1310.7 L948.5,1313.0 L949.5,1315.3 L950.6,1317.6 L951.6,1319.9 L952.6,1322.2 L953.7,1324.5 L954.7,1326.9 L955.7,1329.3 L956.8,1331.7 L957.8,1334.1 L958.9,1336.5 L959.9,1338.9 L960.9,1341.4 L962.0,1343.8 L963.0,1346.3 L964.0,1348.8 L965.1,1351.3 L966.1,1353.8 L967.1,1356.3 L968.2,1358.9 L969.2,1361.4 L970.3,1364.0 L971.3,1366.5 L972.3,1369.1 L973.4,1371.7 L974.4,1374.3 L975.4,1376.9 L976.5,1379.5 L977.5,1382.1 L978.5,1384.7 L979.6,1387.4 L980.6,1390.0 L981.6,1392.7 L982.7,1395.3 L983.7,1398.0 L984.8,1400.6 L985.8,1403.3 L986.8,1406.0 L987.9,1408.7 L988.9,1411.3 L989.9,1414.0 L991.0,1416.7 L992.0,1419.4 L993.0,1422.1 L994.1,1424.8 L995.1,1427.5 L996.2,1430.2 L997.2,1432.9 L998.2,1435.6 L999.3,1438.3 L1000.3,1441.0 L1001.3,1443.7 L1002.4,1446.3 L1003.4,1449.0 L1004.4,1451.7 L1005.5,1454.4 L1006.5,1457.1 L1007.5,1459.8 L1008.6,1462.5 L1009.6,1465.1 L1010.7,1467.8 L1011.7,1470.5 L1012.7,1473.1 L1013.8,1475.8 L1014.8,1478.4 L1015.8,1481.1 L1016.9,1483.7 L1017.9,1486.4 L1018.9,1489.0 L1020.0,1491.6 L1021.0,1494.2 L1022.1,1496.8 L1023.1,1499.4 L1024.1,1502.0 L1025.2,1504.6 L1026.2,1507.1 L1027.2,1509.7 L1028.3,1512.2 L1029.3,1514.7 L1030.3,1517.3 L1031.4,1519.8 L1032.4,1522.3 L1033.4,1524.8 L1034.5,1527.2 L1035.5,1529.7 L1036.6,1532.1 L1037.6,1534.6 L1038.6,1537.0 L1039.7,1539.4 L1040.7,1541.8 L1041.7,1544.2 L1042.8,1546.5 L1043.8,1548.9 L1044.8,1551.2 L1045.9,1553.5 L1046.9,1555.8 L1048.0,1558.1 L1049.0,1560.4 L1050.0,1562.6 L1051.1,1564.8 L1052.1,1567.1 L1053.1,1569.2 L1054.2,1571.4 L1055.2,1573.6 L1056.2,1575.7 L1057.3,1577.8 L1058.3,1579.9 L1059.3,1582.0 L1060.4,1584.1 L1061.4,1586.1 L1062.5,1588.1 L1063.5,1590.1 L1064.5,1592.1 L1065.6,1594.0 L1066.6,1595.9 L1067.6,1597.8 L1068.7,1599.7 L1069.7,1601.6 L1070.7,1603.4 L1071.8,1605.2 L1072.8,1607.0 L1073.9,1608.8 L1074.9,1610.5 L1075.9,1612.2 L1077.0,1613.9 L1078.0,1615.6 L1079.0,1617.2 L1080.1,1618.9 L1081.1,1620.4 L1082.1,1622.0 L1083.2,1623.5 L1084.2,1625.1 L1085.2,1626.5 L1086.3,1628.0 L1087.3,1629.4 L1088.4,1630.8 L1089.4,1632.2 L1090.4,1633.5 L1091.5,1634.9 L1092.5,1636.2 L1093.5,1637.4 L1094.6,1638.7 L1095.6,1639.9 L1096.6,1641.0 L1097.7,1642.2 L1098.7,1643.3 L1099.8,1644.4 L1100.8,1645.5 L1101.8,1646.5 L1102.9,1647.5 L1103.9,1648.5 L1104.9,1649.4 L1106.0,1650.3 L1107.0,1651.2 L1108.0,1652.0 L1109.1,1652.9 L1110.1,1653.7 L1111.1,1654.4 L1112.2,1655.1 L1113.2,1655.8 L1114.3,1656.5 L1115.3,1657.1 L1116.3,1657.7 L1117.4,1658.3 L1118.4,1658.8 L1119.4,1659.3 L1120.5,1659.8 L1121.5,1660.3 L1122.5,1660.7 L1123.6,1661.1 L1124.6,1661.4 L1125.7,1661.7 L1126.7,1662.0 L1127.7,1662.3 L1128.8,1662.5 L1129.8,1662.7 L1130.8,1662.8 L1131.9,1663.0 L1132.9,1663.0 L1133.9,1663.1 L1135.0,1663.1 L1136.0,1663.1 L1137.0,1663.1 L1138.1,1663.0 L1139.1,1662.9 L1140.2,1662.8 L1141.2,1662.6 L1142.2,1662.4 L1143.3,1662.2 L1144.3,1661.9 L1145.3,1661.6 L1146.4,1661.3 L1147.4,1661.0 L1148.4,1660.6 L1149.5,1660.2 L1150.5,1659.7 L1151.6,1659.2 L1152.6,1658.7 L1153.6,1658.2 L1154.7,1657.6 L1155.7,1657.0 L1156.7,1656.3 L1157.8,1655.7 L1158.8,1655.0 L1159.8,1654.2 L1160.9,1653.5 L1161.9,1652.7 L1162.9,1651.9 L1164.0,1651.0 L1165.0,1650.1 L1166.1,1649.2 L1167.1,1648.3 L1168.1,1647.3 L1169.2,1646.3 L1170.2,1645.3 L1171.2,1644.2 L1172.3,1643.1 L1173.3,1642.0 L1174.3,1640.9 L1175.4,1639.7 L1176.4,1638.5 L1177.5,1637.2 L1178.5,1636.0 L1179.5,1634.7 L1180.6,1633.4 L1181.6,1632.0 L1182.6,1630.7 L1183.7,1629.3 L1184.7,1627.9 L1185.7,1626.4 L1186.8,1624.9 L1187.8,1623.4 L1188.8,1621.9 L1189.9,1620.4 L1190.9,1618.8 L1192.0,1617.2 L1193.0,1615.5 L1194.0,1613.9 L1195.1,1612.2 L1196.1,1610.5 L1197.1,1608.8 L1198.2,1607.0 L1199.2,1605.3 L1200.2,1603.5 L1201.3,1601.7 L1202.3,1599.8 L1203.4,1598.0 L1204.4,1596.1 L1205.4,1594.2 L1206.5,1592.2 L1207.5,1590.3 L1208.5,1588.3 L1209.6,1586.3 L1210.6,1584.3 L1211.6,1582.3 L1212.7,1580.2 L1213.7,1578.2 L1214.7,1576.1 L1215.8,1574.0 L1216.8,1571.9 L1217.9,1569.7 L1218.9,1567.5 L1219.9,1565.4 L1221.0,1563.2 L1222.0,1561.0 L1223.0,1558.7 L1224.1,1556.5 L1225.1,1554.2 L1226.1,1551.9 L1227.2,1549.6 L1228.2,1547.3 L1229.3,1545.0 L1230.3,1542.7 L1231.3,1540.3 L1232.4,1537.9 L1233.4,1535.6 L1234.4,1533.2 L1235.5,1530.8 L1236.5,1528.3 L1237.5,1525.9 L1238.6,1523.5 L1239.6,1521.0 L1240.6,1518.5 L1241.7,1516.1 L1242.7,1513.6 L1243.8,1511.1 L1244.8,1508.6 L1245.8,1506.0 L1246.9,1503.5 L1247.9,1501.0 L1248.9,1498.4 L1250.0,1495.9 L1251.0,1493.3 L1252.0,1490.8 L1253.1,1488.2 L1254.1,1485.6 L1255.2,1483.0 L1256.2,1480.4 L1257.2,1477.8 L1258.3,1475.2 L1259.3,1472.6 L1260.3,1470.0 L1261.4,1467.3 L1262.4,1464.7 L1263.4,1462.1 L1264.5,1459.4 L1265.5,1456.8 L1266.5,1454.2 L1267.6,1451.5 L1268.6,1448.9 L1269.7,1446.2 L1270.7,1443.6 L1271.7,1440.9 L1272.8,1438.3 L1273.8,1435.6 L1274.8,1433.0 L1275.9,1430.3 L1276.9,1427.7 L1277.9,1425.0 L1279.0,1422.4 L1280.0,1419.7 L1281.1,1417.1 L1282.1,1414.5 L1283.1,1411.8 L1284.2,1409.2 L1285.2,1406.6 L1286.2,1403.9 L1287.3,1401.3 L1288.3,1398.7 L1289.3,1396.1 L1290.4,1393.5 L1291.4,1390.9 L1292.4,1388.3 L1293.5,1385.7 L1294.5,1383.1 L1295.6,1380.5 L1296.6,1377.9 L1297.6,1375.4 L1298.7,1372.8 L1299.7,1370.3 L1300.7,1367.8 L1301.8,1365.2 L1302.8,1362.7 L1303.8,1360.2 L1304.9,1357.7 L1305.9,1355.2 L1307.0,1352.7 L1308.0,1350.3 L1309.0,1347.8 L1310.1,1345.4 L1311.1,1343.0 L1312.1,1340.5 L1313.2,1338.1 L1314.2,1335.7 L1315.2,1333.4 L1316.3,1331.0 L1317.3,1328.7 L1318.3,1326.3 L1319.4,1324.0 L1320.4,1321.7 L1321.5,1319.4 L1322.5,1317.2 L1323.5,1314.9 L1324.6,1312.7 L1325.6,1310.5 L1326.6,1308.2 L1327.7,1306.1 L1328.7,1303.9 L1329.7,1301.8 L1330.8,1299.6 L1331.8,1297.5 L1332.9,1295.4 L1333.9,1293.4 L1334.9,1291.3 L1336.0,1289.3 L1337.0,1287.3 L1338.0,1285.3 L1339.1,1283.3 L1340.1,1281.4 L1341.1,1279.4 L1342.2,1277.5 L1343.2,1275.7 L1344.2,1273.8 L1345.3,1272.0 L1346.3,1270.2 L1347.4,1268.4 L1348.4,1266.6 L1349.4,1264.9 L1350.5,1263.2 L1351.5,1261.5 L1352.5,1259.8 L1353.6,1258.2 L1354.6,1256.6 L1355.6,1255.0 L1356.7,1253.4 L1357.7,1251.9 L1358.8,1250.4 L1359.8,1248.9 L1360.8,1247.5 L1361.9,1246.0 L1362.9,1244.6 L1363.9,1243.3 L1365.0,1241.9 L1366.0,1240.6 L1367.0,1239.3 L1368.1,1238.1 L1369.1,1236.9 L1370.1,1235.7 L1371.2,1234.5 L1372.2,1233.4 L1373.3,1232.3 L1374.3,1231.2 L1375.3,1230.2 L1376.4,1229.1 L1377.4,1228.2 L1378.4,1227.2 L1379.5,1226.3 L1380.5,1225.4 L1381.5,1224.5 L1382.6,1223.7 L1383.6,1222.9 L1384.7,1222.1 L1385.7,1221.4 L1386.7,1220.7 L1387.8,1220.1 L1388.8,1219.4 L1389.8,1218.8 L1390.9,1218.2 L1391.9,1217.7 L1392.9,1217.2 L1394.0,1216.7 L1395.0,1216.3 L1396.0,1215.9 L1397.1,1215.5 L1398.1,1215.2 L1399.2,1214.9 L1400.2,1214.6 L1401.2,1214.4 L1402.3,1214.2 L1403.3,1214.0 L1404.3,1213.9 L1405.4,1213.8 L1406.4,1213.7 L1407.4,1213.7 L1408.5,1213.7 L1409.5,1213.7 L1410.6,1213.8 L1411.6,1213.9 L1412.6,1214.0 L1413.7,1214.2 L1414.7,1214.4 L1415.7,1214.6 L1416.8,1214.9 L1417.8,1215.2 L1418.8,1215.5 L1419.9,1215.9 L1420.9,1216.3 L1421.9,1216.7 L1423.0,1217.2 L1424.0,1217.7 L1425.1,1218.2 L1426.1,1218.8 L1427.1,1219.4 L1428.2,1220.0 L1429.2,1220.7 L1430.2,1221.4 L1431.3,1222.1 L1432.3,1222.9 L1433.3,1223.7 L1434.4,1224.5 L1435.4,1225.4 L1436.5,1226.3 L1437.5,1227.2 L1438.5,1228.2 L1439.6,1229.2 L1440.6,1230.2 L1441.6,1231.2 L1442.7,1232.3 L1443.7,1233.4 L1444.7,1234.6 L1445.8,1235.8 L1446.8,1237.0 L1447.8,1238.2 L1448.9,1239.5 L1449.9,1240.8 L1451.0,1242.1 L1452.0,1243.5 L1453.0,1244.8 L1454.1,1246.3 L1455.1,1247.7 L1456.1,1249.2 L1457.2,1250.7 L1458.2,1252.2 L1459.2,1253.7 L1460.3,1255.3 L1461.3,1256.9 L1462.4,1258.6 L1463.4,1260.2 L1464.4,1261.9 L1465.5,1263.6 L1466.5,1265.4 L1467.5,1267.1 L1468.6,1268.9 L1469.6,1270.7 L1470.6,1272.6 L1471.7,1274.4 L1472.7,1276.3 L1473.7,1278.2 L1474.8,1280.2 L1475.8,1282.1 L1476.9,1284.1 L1477.9,1286.1 L1478.9,1288.1 L1480.0,1290.2 L1481.0,1292.2 L1482.0,1294.3 L1483.1,1296.4 L1484.1,1298.6 L1485.1,1300.7 L1486.2,1302.9 L1487.2,1305.1 L1488.3,1307.3 L1489.3,1309.5 L1490.3,1311.8 L1491.4,1314.0 L1492.4,1316.3 L1493.4,1318.6 L1494.5,1320.9 L1495.5,1323.2 L1496.5,1325.6 L1497.6,1328.0 L1498.6,1330.3 L1499.6,1332.7 L1500.7,1335.1 L1501.7,1337.6 L1502.8,1340.0 L1503.8,1342.5 L1504.8,1344.9 L1505.9,1347.4 L1506.9,1349.9 L1507.9,1352.4 L1509.0,1354.9 L1510.0,1357.4 L1511.0,1360.0 L1512.1,1362.5 L1513.1,1365.1 L1514.2,1367.7 L1515.2,1370.2 L1516.2,1372.8 L1517.3,1375.4 L1518.3,1378.0 L1519.3,1380.6 L1520.4,1383.3 L1521.4,1385.9 L1522.4,1388.5 L1523.5,1391.2 L1524.5,1393.8 L1525.5,1396.5 L1526.6,1399.1 L1527.6,1401.8 L1528.7,1404.5 L1529.7,1407.1 L1530.7,1409.8 L1531.8,1412.5 L1532.8,1415.2 L1533.8,1417.9 L1534.9,1420.6 L1535.9,1423.3 L1536.9,1425.9 L1538.0,1428.6 L1539.0,1431.3 L1540.1,1434.0 L1541.1,1436.7 L1542.1,1439.4 L1543.2,1442.1 L1544.2,1444.8 L1545.2,1447.5 L1546.3,1450.2 L1547.3,1452.9 L1548.3,1455.6 L1549.4,1458.3 L1550.4,1460.9 L1551.4,1463.6 L1552.5,1466.3 L1553.5,1469.0 L1554.6,1471.6 L1555.6,1474.3 L1556.6,1476.9 L1557.7,1479.6 L1558.7,1482.2 L1559.7,1484.9 L1560.8,1487.5 L1561.8,1490.1 L1562.8,1492.7 L1563.9,1495.3 L1564.9,1497.9 L1566.0,1500.5 L1567.0,1503.1 L1568.0,1505.7 L1569.1,1508.2 L1570.1,1510.8 L1571.1,1513.3 L1572.2,1515.8 L1573.2,1518.3 L1574.2,1520.8 L1575.3,1523.3 L1576.3,1525.8 L1577.3,1528.3 L1578.4,1530.7 L1579.4,1533.2 L1580.5,1535.6 L1581.5,1538.0 L1582.5,1540.4 L1583.6,1542.8 L1584.6,1545.2 L1585.6,1547.5 L1586.7,1549.9 L1587.7,1552.2 L1588.7,1554.5 L1589.8,1556.8 L1590.8,1559.1 L1591.9,1561.3 L1592.9,1563.6 L1593.9,1565.8 L1595.0,1568.0 L1596.0,1570.2 L1597.0,1572.3 L1598.1,1574.5 L1599.1,1576.6 L1600.1,1578.7 L1601.2,1580.8 L1602.2,1582.9 L1603.2,1584.9 L1604.3,1587.0 L1605.3,1589.0 L1606.4,1590.9 L1607.4,1592.9 L1608.4,1594.9 L1609.5,1596.8 L1610.5,1598.7 L1611.5,1600.5 L1612.6,1602.4 L1613.6,1604.2 L1614.6,1606.0 L1615.7,1607.8 L1616.7,1609.5 L1617.8,1611.3 L1618.8,1613.0 L1619.8,1614.7 L1620.9,1616.3 L1621.9,1617.9 L1622.9,1619.5 L1624.0,1621.1 L1625.0,1622.7 L1626.0,1624.2 L1627.1,1625.7 L1628.1,1627.2 L1629.1,1628.6 L1630.2,1630.0 L1631.2,1631.4 L1632.3,1632.8 L1633.3,1634.1 L1634.3,1635.4 L1635.4,1636.7 L1636.4,1638.0 L1637.4,1639.2 L1638.5,1640.4 L1639.5,1641.6 L1640.5,1642.7 L1641.6,1643.8 L1642.6,1644.9 L1643.7,1645.9 L1644.7,1646.9 L1645.7,1647.9 L1646.8,1648.9 L1647.8,1649.8 L1648.8,1650.7 L1649.9,1651.6 L1650.9,1652.4 L1651.9,1653.2 L1653.0,1654.0 L1654.0,1654.8 L1655.0,1655.5 L1656.1,1656.1 L1657.1,1656.8 L1658.2,1657.4 L1659.2,1658.0 L1660.2,1658.6 L1661.3,1659.1 L1662.3,1659.6 L1663.3,1660.1 L1664.4,1660.5 L1665.4,1660.9 L1666.4,1661.3 L1667.5,1661.6 L1668.5,1661.9 L1669.6,1662.2 L1670.6,1662.4 L1671.6,1662.6 L1672.7,1662.8 L1673.7,1662.9 L1674.7,1663.0 L1675.8,1663.1 L1676.8,1663.2 L1677.8,1663.2 L1678.9,1663.2 L1679.9,1663.1 L1680.9,1663.0 L1682.0,1662.9 L1683.0,1662.8 L1684.1,1662.6 L1685.1,1662.4 L1686.1,1662.1 L1687.2,1661.9 L1688.2,1661.6 L1689.2,1661.2 L1690.3,1660.9 L1691.3,1660.5 L1692.3,1660.0 L1693.4,1659.6 L1694.4,1659.1 L1695.5,1658.5 L1696.5,1658.0 L1697.5,1657.4 L1698.6,1656.8 L1699.6,1656.1 L1700.6,1655.4 L1701.7,1654.7 L1702.7,1654.0 L1703.7,1653.2 L1704.8,1652.4 L1705.8,1651.6 L1706.8,1650.7 L1707.9,1649.8 L1708.9,1648.9 L1710.0,1647.9 L1711.0,1646.9 L1712.0,1645.9 L1713.1,1644.9 L1714.1,1643.8 L1715.1,1642.7 L1716.2,1641.6 L1717.2,1640.4 L1718.2,1639.2 L1719.3,1638.0 L1720.3,1636.8 L1721.4,1635.5 L1722.4,1634.2 L1723.4,1632.9 L1724.5,1631.5 L1725.5,1630.2 L1726.5,1628.7 L1727.6,1627.3 L1728.6,1625.9 L1729.6,1624.4 L1730.7,1622.9 L1731.7,1621.3 L1732.7,1619.8 L1733.8,1618.2 L1734.8,1616.6 L1735.9,1614.9 L1736.9,1613.3 L1737.9,1611.6 L1739.0,1609.9 L1740.0,1608.1 L1741.0,1606.4 L1742.1,1604.6 L1743.1,1602.8 L1744.1,1601.0 L1745.2,1599.1 L1746.2,1597.2 L1747.3,1595.3 L1748.3,1593.4 L1749.3,1591.5 L1750.4,1589.5 L1751.4,1587.6 L1752.4,1585.6 L1753.5,1583.5 L1754.5,1581.5 L1755.5,1579.4 L1756.6,1577.4 L1757.6,1575.3 L1758.6,1573.2 L1759.7,1571.0 L1760.7,1568.9 L1761.8,1566.7 L1762.8,1564.5 L1763.8,1562.3 L1764.9,1560.1 L1765.9,1557.9 L1766.9,1555.6 L1768.0,1553.3 L1769.0,1551.0 L1770.0,1548.7 L1771.1,1546.4 L1772.1,1544.1 L1773.2,1541.8 L1774.2,1539.4 L1775.2,1537.0 L1776.3,1534.6 L1777.3,1532.2 L1778.3,1529.8 L1779.4,1527.4 L1780.4,1525.0 L1781.4,1522.5 L1782.5,1520.0 L1783.5,1517.6 L1784.5,1515.1 L1785.6,1512.6 L1786.6,1510.1 L1787.7,1507.6 L1788.7,1505.1 L1789.7,1502.5 L1790.8,1500.0 L1791.8,1497.4 L1792.8,1494.9 L1793.9,1492.3 L1794.9,1489.7 L1795.9,1487.2 L1797.0,1484.6 L1798.0,1482.0 L1799.1,1479.4 L1800.1,1476.8 L1801.1,1474.2 L1802.2,1471.6 L1803.2,1468.9 L1804.2,1466.3 L1805.3,1463.7 L1806.3,1461.0 L1807.3,1458.4 L1808.4,1455.8 L1809.4,1453.1 L1810.4,1450.5 L1811.5,1447.8 L1812.5,1445.2 L1813.6,1442.5 L1814.6,1439.9 L1815.6,1437.2 L1816.7,1434.6 L1817.7,1431.9 L1818.7,1429.3 L1819.8,1426.6 L1820.8,1424.0 L1821.8,1421.3 L1822.9,1418.7 L1823.9,1416.1 L1825.0,1413.4 L1826.0,1410.8 L1827.0,1408.2 L1828.1,1405.5 L1829.1,1402.9 L1830.1,1400.3 L1831.2,1397.7 L1832.2,1395.0 L1833.2,1392.4 L1834.3,1389.8 L1835.3,1387.2 L1836.3,1384.7 L1837.4,1382.1 L1838.4,1379.5 L1839.5,1376.9 L1840.5,1374.4 L1841.5,1371.8 L1842.6,1369.3 L1843.6,1366.8 L1844.6,1364.2 L1845.7,1361.7 L1846.7,1359.2 L1847.7,1356.7 L1848.8,1354.2 L1849.8,1351.8 L1850.9,1349.3 L1851.9,1346.9 L1852.9,1344.4 L1854.0,1342.0 L1855.0,1339.6 L1856.0,1337.2 L1857.1,1334.8 L1858.1,1332.4 L1859.1,1330.1 L1860.2,1327.7 L1861.2,1325.4 L1862.2,1323.1 L1863.3,1320.8 L1864.3,1318.5 L1865.4,1316.3 L1866.4,1314.0 L1867.4,1311.8 L1868.5,1309.6 L1869.5,1307.4 L1870.5,1305.2 L1871.6,1303.1 L1872.6,1300.9 L1873.6,1298.8 L1874.7,1296.7 L1875.7,1294.6 L1876.8,1292.5 L1877.8,1290.5 L1878.8,1288.5 L1879.9,1286.5 L1880.9,1284.5 L1881.9,1282.5 L1883.0,1280.6 L1884.0,1278.7 L1885.0,1276.8 L1886.1,1274.9 L1887.1,1273.1 L1888.1,1271.3 L1889.2,1269.5 L1890.2,1267.7 L1891.3,1265.9 L1892.3,1264.2 L1893.3,1262.5 L1894.4,1260.8 L1895.4,1259.2 L1896.4,1257.5 L1897.5,1255.9 L1898.5,1254.4 L1899.5,1252.8 L1900.6,1251.3 L1901.6,1249.8 L1902.7,1248.3 L1903.7,1246.9 L1904.7,1245.5 L1905.8,1244.1 L1906.8,1242.8 L1907.8,1241.4 L1908.9,1240.1 L1909.9,1238.9 L1910.9,1237.6 L1912.0,1236.4 L1913.0,1235.2 L1914.0,1234.1 L1915.1,1232.9 L1916.1,1231.8 L1917.2,1230.8 L1918.2,1229.8 L1919.2,1228.8 L1920.3,1227.8 L1921.3,1226.8 L1922.3,1225.9 L1923.4,1225.1 L1924.4,1224.2 L1925.4,1223.4 L1926.5,1222.6 L1927.5,1221.9 L1928.6,1221.1 L1929.6,1220.5 L1930.6,1219.8 L1931.7,1219.2 L1932.7,1218.6 L1933.7,1218.0 L1934.8,1217.5 L1935.8,1217.0 L1936.8,1216.6 L1937.9,1216.1 L1938.9,1215.8 L1939.9,1215.4 L1941.0,1215.1 L1942.0,1214.8 L1943.1,1214.5 L1944.1,1214.3 L1945.1,1214.1 L1946.2,1214.0 L1947.2,1213.8 L1948.2,1213.7 L1949.3,1213.7 L1950.3,1213.7 L1951.3,1213.7 L1952.4,1213.7 L1953.4,1213.8 L1954.5,1213.9 L1955.5,1214.1 L1956.5,1214.3 L1957.6,1214.5 L1958.6,1214.7 L1959.6,1215.0 L1960.7,1215.3 L1961.7,1215.7 L1962.7,1216.0 L1963.8,1216.5 L1964.8,1216.9 L1965.8,1217.4 L1966.9,1217.9 L1967.9,1218.5 L1969.0,1219.0 L1970.0,1219.7 L1971.0,1220.3 L1972.1,1221.0 L1973.1,1221.7 L1974.1,1222.5 L1975.2,1223.2 L1976.2,1224.0 L1977.2,1224.9 L1978.3,1225.8 L1979.3,1226.7 L1980.4,1227.6 L1981.4,1228.6 L1982.4,1229.6 L1983.5,1230.6 L1984.5,1231.7 L1985.5,1232.8 L1986.6,1233.9 L1987.6,1235.1 L1988.6,1236.3 L1989.7,1237.5 L1990.7,1238.7 L1991.7,1240.0 L1992.8,1241.3 L1993.8,1242.6 L1994.9,1244.0 L1995.9,1245.4 L1996.9,1246.8 L1998.0,1248.3 L1999.0,1249.8 L2000.0,1251.3 L2001.1,1252.8 L2002.1,1254.4 L2003.1,1256.0 L2004.2,1257.6 L2005.2,1259.2 L2006.3,1260.9 L2007.3,1262.6 L2008.3,1264.3 L2009.4,1266.1 L2010.4,1267.8 L2011.4,1269.6 L2012.5,1271.5 L2013.5,1273.3 L2014.5,1275.2 L2015.6,1277.1 L2016.6,1279.0 L2017.6,1281.0 L2018.7,1282.9 L2019.7,1284.9 L2020.8,1286.9 L2021.8,1288.9 L2022.8,1291.0 L2023.9,1293.1 L2024.9,1295.2 L2025.9,1297.3 L2027.0,1299.4 L2028.0,1301.6 L2029.0,1303.8 L2030.1,1306.0 L2031.1,1308.2 L2032.2,1310.4 L2033.2,1312.7 L2034.2,1314.9 L2035.3,1317.2 L2036.3,1319.5 L2037.3,1321.9 L2038.4,1324.2 L2039.4,1326.5 L2040.4,1328.9 L2041.5,1331.3 L2042.5,1333.7 L2043.5,1336.1 L2044.6,1338.6 L2045.6,1341.0 L2046.7,1343.5 L2047.7,1345.9 L2048.7,1348.4 L2049.8,1350.9 L2050.8,1353.4 L2051.8,1355.9 L2052.9,1358.5 L2053.9,1361.0 L2054.9,1363.6 L2056.0,1366.1 L2057.0,1368.7 L2058.1,1371.3 L2059.1,1373.9 L2060.1,1376.5 L2061.2,1379.1 L2062.2,1381.7 L2063.2,1384.3 L2064.3,1387.0 L2065.3,1389.6 L2066.3,1392.2 L2067.4,1394.9 L2068.4,1397.5 L2069.4,1400.2 L2070.5,1402.9 L2071.5,1405.5 L2072.6,1408.2 L2073.6,1410.9 L2074.6,1413.6 L2075.7,1416.3 L2076.7,1419.0 L2077.7,1421.6 L2078.8,1424.3 L2079.8,1427.0 L2080.8,1429.7 L2081.9,1432.4 L2082.9,1435.1 L2084.0,1437.8 L2085.0,1440.5 L2086.0,1443.2 L2087.1,1445.9 L2088.1,1448.6 L2089.1,1451.3 L2090.2,1454.0 L2091.2,1456.7 L2092.2,1459.3 L2093.3,1462.0 L2094.3,1464.7 L2095.3,1467.4 L2096.4,1470.0 L2097.4,1472.7 L2098.5,1475.4 L2099.5,1478.0 L2100.5,1480.6 L2101.6,1483.3 L2102.6,1485.9 L2103.6,1488.5 L2104.7,1491.2 L2105.7,1493.8 L2106.7,1496.4 L2107.8,1499.0 L2108.8,1501.5 L2109.9,1504.1 L2110.9,1506.7 L2111.9,1509.2 L2113.0,1511.8 L2114.0,1514.3 L2115.0,1516.8 L2116.1,1519.4 L2117.1,1521.9 L2118.1,1524.3 L2119.2,1526.8 L2120.2,1529.3 L2121.2,1531.7 L2122.3,1534.2 L2123.3,1536.6 L2124.4,1539.0 L2125.4,1541.4 L2126.4,1543.8 L2127.5,1546.1 L2128.5,1548.5 L2129.5,1550.8 L2130.6,1553.1 L2131.6,1555.4 L2132.6,1557.7 L2133.7,1560.0 L2134.7,1562.2 L2135.8,1564.5 L2136.8,1566.7 L2137.8,1568.9 L2138.9,1571.1 L2139.9,1573.2 L2140.9,1575.4 L2142.0,1577.5 L2143.0,1579.6 L2144.0,1581.7 L2145.1,1583.7 L2146.1,1585.8 L2147.1,1587.8 L2148.2,1589.8 L2149.2,1591.7 L2150.3,1593.7 L2151.3,1595.6 L2152.3,1597.5 L2153.4,1599.4 L2154.4,1601.3 L2155.4,1603.1 L2156.5,1604.9 L2157.5,1606.7 L2158.5,1608.5 L2159.6,1610.2 L2160.6,1612.0 L2161.7,1613.7 L2162.7,1615.3 L2163.7,1617.0 L2164.8,1618.6 L2165.8,1620.2 L2166.8,1621.8 L2167.9,1623.3 L2168.9,1624.8 L2169.9,1626.3 L2171.0,1627.8 L2172.0,1629.2 L2173.0,1630.6 L2174.1,1632.0 L2175.1,1633.3 L2176.2,1634.7 L2177.2,1636.0 L2178.2,1637.2 L2179.3,1638.5 L2180.3,1639.7 L2181.3,1640.9 L2182.4,1642.0 L2183.4,1643.1 L2184.4,1644.2 L2185.5,1645.3 L2186.5,1646.3 L2187.6,1647.3 L2188.6,1648.3 L2189.6,1649.3 L2190.7,1650.2 L2191.7,1651.1 L2192.7,1651.9 L2193.8,1652.8 L2194.8,1653.5 L2195.8,1654.3 L2196.9,1655.0 L2197.9,1655.7 L2198.9,1656.4 L2200.0,1657.1 L2201.0,1657.7 L2202.1,1658.2 L2203.1,1658.8 L2204.1,1659.3 L2205.2,1659.8 L2206.2,1660.2 L2207.2,1660.7 L2208.3,1661.0 L2209.3,1661.4 L2210.3,1661.7 L2211.4,1662.0 L2212.4,1662.3 L2213.5,1662.5 L2214.5,1662.7 L2215.5,1662.8 L2216.6,1663.0 L2217.6,1663.1 L2218.6,1663.1 L2219.7,1663.2 L2220.7,1663.2 L2221.7,1663.1 L2222.8,1663.1 L2223.8,1663.0 L2224.8,1662.9 L2225.9,1662.7 L2226.9,1662.5 L2228.0,1662.3 L2229.0,1662.0 L2230.0,1661.8 L2231.1,1661.4 L2232.1,1661.1 L2233.1,1660.7 L2234.2,1660.3 L2235.2,1659.8 L2236.2,1659.4 L2237.3,1658.9 L2238.3,1658.3 L2239.4,1657.7 L2240.4,1657.1 L2241.4,1656.5 L2242.5,1655.8 L2243.5,1655.2 L2244.5,1654.4 L2245.6,1653.7 L2246.6,1652.9 L2247.6,1652.1 L2248.7,1651.2 L2249.7,1650.3 L2250.7,1649.4 L2251.8,1648.5 L2252.8,1647.5 L2253.9,1646.5 L2254.9,1645.5 L2255.9,1644.5 L2257.0,1643.4 L2258.0,1642.3"/>
<path stroke="#ff0000" stroke-dasharray="48.45 27.97" stroke-dashoffset="0" d="M186.0,1442.6 L187.0,1439.9 L188.1,1437.2 L189.1,1434.5 L190.1,1431.8 L191.2,1429.1 L192.2,1426.4 L193.3,1423.8 L194.3,1421.1 L195.3,1418.4 L196.4,1415.7 L197.4,1413.1 L198.4,1410.4 L199.5,1407.7 L200.5,1405.1 L201.5,1402.4 L202.6,1399.8 L203.6,1397.1 L204.6,1394.5 L205.7,1391.9 L206.7,1389.3 L207.8,1386.6 L208.8,1384.0 L209.8,1381.5 L210.9,1378.9 L211.9,1376.3 L212.9,1373.7 L214.0,1371.2 L215.0,1368.6 L216.0,1366.1 L217.1,1363.6 L218.1,1361.0 L219.2,1358.5 L220.2,1356.1 L221.2,1353.6 L222.3,1351.1 L223.3,1348.7 L224.3,1346.2 L225.4,1343.8 L226.4,1341.4 L227.4,1339.0 L228.5,1336.6 L229.5,1334.2 L230.5,1331.9 L231.6,1329.6 L232.6,1327.2 L233.7,1324.9 L234.7,1322.7 L235.7,1320.4 L236.8,1318.1 L237.8,1315.9 L238.8,1313.7 L239.9,1311.5 L240.9,1309.3 L241.9,1307.2 L243.0,1305.0 L244.0,1302.9 L245.1,1300.8 L246.1,1298.8 L247.1,1296.7 L248.2,1294.7 L249.2,1292.6 L250.2,1290.7 L251.3,1288.7 L252.3,1286.7 L253.3,1284.8 L254.4,1282.9 L255.4,1281.0 L256.4,1279.2 L257.5,1277.3 L258.5,1275.5 L259.6,1273.8 L260.6,1272.0 L261.6,1270.3 L262.7,1268.5 L263.7,1266.9 L264.7,1265.2 L265.8,1263.6 L266.8,1262.0 L267.8,1260.4 L268.9,1258.8 L269.9,1257.3 L271.0,1255.8 L272.0,1254.3 L273.0,1252.8 L274.1,1251.4 L275.1,1250.0 L276.1,1248.7 L277.2,1247.3 L278.2,1246.0 L279.2,1244.7 L280.3,1243.5 L281.3,1242.3 L282.3,1241.1 L283.4,1239.9 L284.4,1238.7 L285.5,1237.6 L286.5,1236.6 L287.5,1235.5 L288.6,1234.5 L289.6,1233.5 L290.6,1232.5 L291.7,1231.6 L292.7,1230.7 L293.7,1229.8 L294.8,1229.0 L295.8,1228.2 L296.9,1227.4 L297.9,1226.7 L298.9,1226.0 L300.0,1225.3 L301.0,1224.6 L302.0,1224.0 L303.1,1223.4 L304.1,1222.8 L305.1,1222.3 L306.2,1221.8 L307.2,1221.4 L308.2,1220.9 L309.3,1220.5 L310.3,1220.2 L311.4,1219.8 L312.4,1219.5 L313.4,1219.3 L314.5,1219.0 L315.5,1218.8 L316.5,1218.6 L317.6,1218.5 L318.6,1218.4 L319.6,1218.3 L320.7,1218.3 L321.7,1218.3 L322.8,1218.3 L323.8,1218.3 L324.8,1218.4 L325.9,1218.5 L326.9,1218.7 L327.9,1218.9 L329.0,1219.1 L330.0,1219.3 L331.0,1219.6 L332.1,1219.9 L333.1,1220.2 L334.1,1220.6 L335.2,1221.0 L336.2,1221.5 L337.3,1221.9 L338.3,1222.4 L339.3,1223.0 L340.4,1223.5 L341.4,1224.1 L342.4,1224.7 L343.5,1225.4 L344.5,1226.1 L345.5,1226.8 L346.6,1227.6 L347.6,1228.3 L348.7,1229.2 L349.7,1230.0 L350.7,1230.9 L351.8,1231.8 L352.8,1232.7 L353.8,1233.7 L354.9,1234.7 L355.9,1235.7 L356.9,1236.8 L358.0,1237.9 L359.0,1239.0 L360.0,1240.1 L361.1,1241.3 L362.1,1242.5 L363.2,1243.7 L364.2,1245.0 L365.2,1246.3 L366.3,1247.6 L367.3,1248.9 L368.3,1250.3 L369.4,1251.7 L370.4,1253.1 L371.4,1254.6 L372.5,1256.1 L373.5,1257.6 L374.6,1259.1 L375.6,1260.7 L376.6,1262.3 L377.7,1263.9 L378.7,1265.5 L379.7,1267.2 L380.8,1268.9 L381.8,1270.6 L382.8,1272.3 L383.9,1274.1 L384.9,1275.9 L385.9,1277.7 L387.0,1279.5 L388.0,1281.4 L389.1,1283.3 L390.1,1285.2 L391.1,1287.1 L392.2,1289.1 L393.2,1291.1 L394.2,1293.1 L395.3,1295.1 L396.3,1297.1 L397.3,1299.2 L398.4,1301.2 L399.4,1303.3 L400.5,1305.5 L401.5,1307.6 L402.5,1309.8 L403.6,1311.9 L404.6,1314.1 L405.6,1316.4 L406.7,1318.6 L407.7,1320.8 L408.7,1323.1 L409.8,1325.4 L410.8,1327.7 L411.8,1330.0 L412.9,1332.4 L413.9,1334.7 L415.0,1337.1 L416.0,1339.5 L417.0,1341.9 L418.1,1344.3 L419.1,1346.7 L420.1,1349.1 L421.2,1351.6 L422.2,1354.1 L423.2,1356.5 L424.3,1359.0 L425.3,1361.5 L426.4,1364.1 L427.4,1366.6 L428.4,1369.1 L429.5,1371.7 L430.5,1374.2 L431.5,1376.8 L432.6,1379.4 L433.6,1382.0 L434.6,1384.6 L435.7,1387.2 L436.7,1389.8 L437.7,1392.4 L438.8,1395.0 L439.8,1397.7 L440.9,1400.3 L441.9,1403.0 L442.9,1405.6 L444.0,1408.3 L445.0,1410.9 L446.0,1413.6 L447.1,1416.3 L448.1,1418.9 L449.1,1421.6 L450.2,1424.3 L451.2,1427.0 L452.3,1429.7 L453.3,1432.4 L454.3,1435.0 L455.4,1437.7 L456.4,1440.4 L457.4,1443.1 L458.5,1445.8 L459.5,1448.5 L460.5,1451.2 L461.6,1453.9 L462.6,1456.6 L463.6,1459.3 L464.7,1461.9 L465.7,1464.6 L466.8,1467.3 L467.8,1470.0 L468.8,1472.6 L469.9,1475.3 L470.9,1478.0 L471.9,1480.6 L473.0,1483.3 L474.0,1485.9 L475.0,1488.6 L476.1,1491.2 L477.1,1493.8 L478.2,1496.4 L479.2,1499.0 L480.2,1501.6 L481.3,1504.2 L482.3,1506.8 L483.3,1509.4 L484.4,1512.0 L485.4,1514.5 L486.4,1517.1 L487.5,1519.6 L488.5,1522.1 L489.5,1524.6 L490.6,1527.1 L491.6,1529.6 L492.7,1532.1 L493.7,1534.6 L494.7,1537.0 L495.8,1539.4 L496.8,1541.9 L497.8,1544.3 L498.9,1546.7 L499.9,1549.0 L500.9,1551.4 L502.0,1553.7 L503.0,1556.1 L504.1,1558.4 L505.1,1560.7 L506.1,1563.0 L507.2,1565.2 L508.2,1567.5 L509.2,1569.7 L510.3,1571.9 L511.3,1574.1 L512.3,1576.3 L513.4,1578.4 L514.4,1580.6 L515.4,1582.7 L516.5,1584.8 L517.5,1586.8 L518.6,1588.9 L519.6,1590.9 L520.6,1592.9 L521.7,1594.9 L522.7,1596.9 L523.7,1598.8 L524.8,1600.7 L525.8,1602.6 L526.8,1604.5 L527.9,1606.4 L528.9,1608.2 L530.0,1610.0 L531.0,1611.8 L532.0,1613.5 L533.1,1615.3 L534.1,1617.0 L535.1,1618.6 L536.2,1620.3 L537.2,1621.9 L538.2,1623.5 L539.3,1625.1 L540.3,1626.7 L541.3,1628.2 L542.4,1629.7 L543.4,1631.2 L544.5,1632.6 L545.5,1634.0 L546.5,1635.4 L547.6,1636.8 L548.6,1638.1 L549.6,1639.4 L550.7,1640.7 L551.7,1641.9 L552.7,1643.2 L553.8,1644.3 L554.8,1645.5 L555.9,1646.6 L556.9,1647.7 L557.9,1648.8 L559.0,1649.9 L560.0,1650.9 L561.0,1651.9 L562.1,1652.8 L563.1,1653.7 L564.1,1654.6 L565.2,1655.5 L566.2,1656.3 L567.2,1657.1 L568.3,1657.9 L569.3,1658.6 L570.4,1659.4 L571.4,1660.0 L572.4,1660.7 L573.5,1661.3 L574.5,1661.9 L575.5,1662.4 L576.6,1662.9 L577.6,1663.4 L578.6,1663.9 L579.7,1664.3 L580.7,1664.7 L581.8,1665.1 L582.8,1665.4 L583.8,1665.7 L584.9,1666.0 L585.9,1666.2 L586.9,1666.4 L588.0,1666.6 L589.0,1666.7 L590.0,1666.8 L591.1,1666.9 L592.1,1666.9 L593.1,1666.9 L594.2,1666.9 L595.2,1666.8 L596.3,1666.7 L597.3,1666.6 L598.3,1666.5 L599.4,1666.3 L600.4,1666.1 L601.4,1665.8 L602.5,1665.5 L603.5,1665.2 L604.5,1664.9 L605.6,1664.5 L606.6,1664.1 L607.7,1663.6 L608.7,1663.1 L609.7,1662.6 L610.8,1662.1 L611.8,1661.5 L612.8,1660.9 L613.9,1660.3 L614.9,1659.6 L615.9,1658.9 L617.0,1658.2 L618.0,1657.4 L619.0,1656.7 L620.1,1655.8 L621.1,1655.0 L622.2,1654.1 L623.2,1653.2 L624.2,1652.2 L625.3,1651.3 L626.3,1650.3 L627.3,1649.2 L628.4,1648.2 L629.4,1647.1 L630.4,1646.0 L631.5,1644.8 L632.5,1643.6 L633.6,1642.4 L634.6,1641.2 L635.6,1639.9 L636.7,1638.6 L637.7,1637.3 L638.7,1636.0 L639.8,1634.6 L640.8,1633.2 L641.8,1631.7 L642.9,1630.3 L643.9,1628.8 L644.9,1627.3 L646.0,1625.7 L647.0,1624.2 L648.1,1622.6 L649.1,1621.0 L650.1,1619.3 L651.2,1617.6 L652.2,1615.9 L653.2,1614.2 L654.3,1612.5 L655.3,1610.7 L656.3,1608.9 L657.4,1607.1 L658.4,1605.2 L659.5,1603.4 L660.5,1601.5 L661.5,1599.6 L662.6,1597.6 L663.6,1595.7 L664.6,1593.7 L665.7,1591.7 L666.7,1589.7 L667.7,1587.6 L668.8,1585.6 L669.8,1583.5 L670.8,1581.4 L671.9,1579.3 L672.9,1577.1 L674.0,1575.0 L675.0,1572.8 L676.0,1570.6 L677.1,1568.4 L678.1,1566.1 L679.1,1563.9 L680.2,1561.6 L681.2,1559.3 L682.2,1557.0 L683.3,1554.7 L684.3,1552.3 L685.4,1550.0 L686.4,1547.6 L687.4,1545.2 L688.5,1542.8 L689.5,1540.4 L690.5,1538.0 L691.6,1535.5 L692.6,1533.1 L693.6,1530.6 L694.7,1528.1 L695.7,1525.6 L696.7,1523.1 L697.8,1520.6 L698.8,1518.1 L699.9,1515.5 L700.9,1513.0 L701.9,1510.4 L703.0,1507.8 L704.0,1505.3 L705.0,1502.7 L706.1,1500.1 L707.1,1497.5 L708.1,1494.9 L709.2,1492.2 L710.2,1489.6 L711.3,1487.0 L712.3,1484.3 L713.3,1481.7 L714.4,1479.0 L715.4,1476.4 L716.4,1473.7 L717.5,1471.0 L718.5,1468.4 L719.5,1465.7 L720.6,1463.0 L721.6,1460.3 L722.6,1457.6 L723.7,1455.0 L724.7,1452.3 L725.8,1449.6 L726.8,1446.9 L727.8,1444.2 L728.9,1441.5 L729.9,1438.8 L730.9,1436.1 L732.0,1433.4 L733.0,1430.7 L734.0,1428.1 L735.1,1425.4 L736.1,1422.7 L737.2,1420.0 L738.2,1417.3 L739.2,1414.7 L740.3,1412.0 L741.3,1409.3 L742.3,1406.7 L743.4,1404.0 L744.4,1401.4 L745.4,1398.7 L746.5,1396.1 L747.5,1393.4 L748.5,1390.8 L749.6,1388.2 L750.6,1385.6 L751.7,1383.0 L752.7,1380.4 L753.7,1377.8 L754.8,1375.3 L755.8,1372.7 L756.8,1370.1 L757.9,1367.6 L758.9,1365.1 L759.9,1362.5 L761.0,1360.0 L762.0,1357.5 L763.1,1355.1 L764.1,1352.6 L765.1,1350.1 L766.2,1347.7 L767.2,1345.2 L768.2,1342.8 L769.3,1340.4 L770.3,1338.0 L771.3,1335.7 L772.4,1333.3 L773.4,1331.0 L774.4,1328.6 L775.5,1326.3 L776.5,1324.0 L777.6,1321.7 L778.6,1319.5 L779.6,1317.2 L780.7,1315.0 L781.7,1312.8 L782.7,1310.6 L783.8,1308.5 L784.8,1306.3 L785.8,1304.2 L786.9,1302.1 L787.9,1300.0 L789.0,1297.9 L790.0,1295.9 L791.0,1293.9 L792.1,1291.8 L793.1,1289.9 L794.1,1287.9 L795.2,1286.0 L796.2,1284.0 L797.2,1282.2 L798.3,1280.3 L799.3,1278.4 L800.3,1276.6 L801.4,1274.8 L802.4,1273.0 L803.5,1271.3 L804.5,1269.6 L805.5,1267.9 L806.6,1266.2 L807.6,1264.5 L808.6,1262.9 L809.7,1261.3 L810.7,1259.7 L811.7,1258.2 L812.8,1256.7 L813.8,1255.2 L814.9,1253.7 L815.9,1252.3 L816.9,1250.9 L818.0,1249.5 L819.0,1248.1 L820.0,1246.8 L821.1,1245.5 L822.1,1244.2 L823.1,1243.0 L824.2,1241.8 L825.2,1240.6 L826.2,1239.4 L827.3,1238.3 L828.3,1237.2 L829.4,1236.1 L830.4,1235.1 L831.4,1234.1 L832.5,1233.1 L833.5,1232.2 L834.5,1231.2 L835.6,1230.4 L836.6,1229.5 L837.6,1228.7 L838.7,1227.9 L839.7,1227.1 L840.8,1226.4 L841.8,1225.7 L842.8,1225.0 L843.9,1224.4 L844.9,1223.8 L845.9,1223.2 L847.0,1222.6 L848.0,1222.1 L849.0,1221.6 L850.1,1221.2 L851.1,1220.8 L852.1,1220.4 L853.2,1220.0 L854.2,1219.7 L855.3,1219.4 L856.3,1219.2 L857.3,1218.9 L858.4,1218.7 L859.4,1218.6 L860.4,1218.4 L861.5,1218.4 L862.5,1218.3 L863.5,1218.3 L864.6,1218.3 L865.6,1218.3 L866.7,1218.4 L867.7,1218.4 L868.7,1218.6 L869.8,1218.7 L870.8,1218.9 L871.8,1219.2 L872.9,1219.4 L873.9,1219.7 L874.9,1220.0 L876.0,1220.4 L877.0,1220.8 L878.0,1221.2 L879.1,1221.6 L880.1,1222.1 L881.2,1222.6 L882.2,1223.2 L883.2,1223.8 L884.3,1224.4 L885.3,1225.0 L886.3,1225.7 L887.4,1226.4 L888.4,1227.1 L889.4,1227.9 L890.5,1228.7 L891.5,1229.5 L892.6,1230.4 L893.6,1231.2 L894.6,1232.2 L895.7,1233.1 L896.7,1234.1 L897.7,1235.1 L898.8,1236.1 L899.8,1237.2 L900.8,1238.3 L901.9,1239.4 L902.9,1240.6 L903.9,1241.8 L905.0,1243.0 L906.0,1244.2 L907.1,1245.5 L908.1,1246.8 L909.1,1248.1 L910.2,1249.5 L911.2,1250.9 L912.2,1252.3 L913.3,1253.7 L914.3,1255.2 L915.3,1256.7 L916.4,1258.2 L917.4,1259.7 L918.5,1261.3 L919.5,1262.9 L920.5,1264.5 L921.6,1266.2 L922.6,1267.9 L923.6,1269.6 L924.7,1271.3 L925.7,1273.0 L926.7,1274.8 L927.8,1276.6 L928.8,1278.4 L929.8,1280.3 L930.9,1282.2 L931.9,1284.1 L933.0,1286.0 L934.0,1287.9 L935.0,1289.9 L936.1,1291.9 L937.1,1293.9 L938.1,1295.9 L939.2,1297.9 L940.2,1300.0 L941.2,1302.1 L942.3,1304.2 L943.3,1306.3 L944.4,1308.5 L945.4,1310.6 L946.4,1312.8 L947.5,1315.0 L948.5,1317.3 L949.5,1319.5 L950.6,1321.8 L951.6,1324.0 L952.6,1326.3 L953.7,1328.6 L954.7,1331.0 L955.7,1333.3 L956.8,1335.7 L957.8,1338.0 L958.9,1340.4 L959.9,1342.8 L960.9,1345.3 L962.0,1347.7 L963.0,1350.1 L964.0,1352.6 L965.1,1355.1 L966.1,1357.5 L967.1,1360.0 L968.2,1362.6 L969.2,1365.1 L970.3,1367.6 L971.3,1370.1 L972.3,1372.7 L973.4,1375.3 L974.4,1377.8 L975.4,1380.4 L976.5,1383.0 L977.5,1385.6 L978.5,1388.2 L979.6,1390.8 L980.6,1393.5 L981.6,1396.1 L982.7,1398.7 L983.7,1401.4 L984.8,1404.0 L985.8,1406.7 L986.8,1409.3 L987.9,1412.0 L988.9,1414.7 L989.9,1417.3 L991.0,1420.0 L992.0,1422.7 L993.0,1425.4 L994.1,1428.1 L995.1,1430.7 L996.2,1433.4 L997.2,1436.1 L998.2,1438.8 L999.3,1441.5 L1000.3,1444.2 L1001.3,1446.9 L1002.4,1449.6 L1003.4,1452.3 L1004.4,1455.0 L1005.5,1457.7 L1006.5,1460.3 L1007.5,1463.0 L1008.6,1465.7 L1009.6,1468.4 L1010.7,1471.0 L1011.7,1473.7 L1012.7,1476.4 L1013.8,1479.0 L1014.8,1481.7 L1015.8,1484.3 L1016.9,1487.0 L1017.9,1489.6 L1018.9,1492.2 L1020.0,1494.9 L1021.0,1497.5 L1022.1,1500.1 L1023.1,1502.7 L1024.1,1505.3 L1025.2,1507.9 L1026.2,1510.4 L1027.2,1513.0 L1028.3,1515.5 L1029.3,1518.1 L1030.3,1520.6 L1031.4,1523.1 L1032.4,1525.6 L1033.4,1528.1 L1034.5,1530.6 L1035.5,1533.1 L1036.6,1535.5 L1037.6,1538.0 L1038.6,1540.4 L1039.7,1542.8 L1040.7,1545.2 L1041.7,1547.6 L1042.8,1550.0 L1043.8,1552.3 L1044.8,1554.7 L1045.9,1557.0 L1046.9,1559.3 L1048.0,1561.6 L1049.0,1563.9 L1050.0,1566.1 L1051.1,1568.4 L1052.1,1570.6 L1053.1,1572.8 L1054.2,1575.0 L1055.2,1577.1 L1056.2,1579.3 L1057.3,1581.4 L1058.3,1583.5 L1059.3,1585.6 L1060.4,1587.7 L1061.4,1589.7 L1062.5,1591.7 L1063.5,1593.7 L1064.5,1595.7 L1065.6,1597.7 L1066.6,1599.6 L1067.6,1601.5 L1068.7,1603.4 L1069.7,1605.3 L1070.7,1607.1 L1071.8,1608.9 L1072.8,1610.7 L1073.9,1612.5 L1074.9,1614.2 L1075.9,1615.9 L1077.0,1617.6 L1078.0,1619.3 L1079.0,1621.0 L1080.1,1622.6 L1081.1,1624.2 L1082.1,1625.7 L1083.2,1627.3 L1084.2,1628.8 L1085.2,1630.3 L1086.3,1631.7 L1087.3,1633.2 L1088.4,1634.6 L1089.4,1636.0 L1090.4,1637.3 L1091.5,1638.6 L1092.5,1639.9 L1093.5,1641.2 L1094.6,1642.4 L1095.6,1643.6 L1096.6,1644.8 L1097.7,1646.0 L1098.7,1647.1 L1099.8,1648.2 L1100.8,1649.2 L1101.8,1650.3 L1102.9,1651.3 L1103.9,1652.3 L1104.9,1653.2 L1106.0,1654.1 L1107.0,1655.0 L1108.0,1655.8 L1109.1,1656.7 L1110.1,1657.4 L1111.1,1658.2 L1112.2,1658.9 L1113.2,1659.6 L1114.3,1660.3 L1115.3,1660.9 L1116.3,1661.5 L1117.4,1662.1 L1118.4,1662.6 L1119.4,1663.1 L1120.5,1663.6 L1121.5,1664.1 L1122.5,1664.5 L1123.6,1664.9 L1124.6,1665.2 L1125.7,1665.5 L1126.7,1665.8 L1127.7,1666.1 L1128.8,1666.3 L1129.8,1666.5 L1130.8,1666.6 L1131.9,1666.7 L1132.9,1666.8 L1133.9,1666.9 L1135.0,1666.9 L1136.0,1666.9 L1137.0,1666.9 L1138.1,1666.8 L1139.1,1666.7 L1140.2,1666.6 L1141.2,1666.4 L1142.2,1666.2 L1143.3,1666.0 L1144.3,1665.7 L1145.3,1665.4 L1146.4,1665.1 L1147.4,1664.7 L1148.4,1664.3 L1149.5,1663.9 L1150.5,1663.4 L1151.6,1662.9 L1152.6,1662.4 L1153.6,1661.9 L1154.7,1661.3 L1155.7,1660.7 L1156.7,1660.0 L1157.8,1659.4 L1158.8,1658.6 L1159.8,1657.9 L1160.9,1657.1 L1161.9,1656.3 L1162.9,1655.5 L1164.0,1654.6 L1165.0,1653.7 L1166.1,1652.8 L1167.1,1651.9 L1168.1,1650.9 L1169.2,1649.9 L1170.2,1648.8 L1171.2,1647.7 L1172.3,1646.6 L1173.3,1645.5 L1174.3,1644.3 L1175.4,1643.2 L1176.4,1641.9 L1177.5,1640.7 L1178.5,1639.4 L1179.5,1638.1 L1180.6,1636.8 L1181.6,1635.4 L1182.6,1634.0 L1183.7,1632.6 L1184.7,1631.2 L1185.7,1629.7 L1186.8,1628.2 L1187.8,1626.7 L1188.8,1625.1 L1189.9,1623.5 L1190.9,1621.9 L1192.0,1620.3 L1193.0,1618.6 L1194.0,1617.0 L1195.1,1615.3 L1196.1,1613.5 L1197.1,1611.8 L1198.2,1610.0 L1199.2,1608.2 L1200.2,1606.4 L1201.3,1604.5 L1202.3,1602.6 L1203.4,1600.7 L1204.4,1598.8 L1205.4,1596.9 L1206.5,1594.9 L1207.5,1592.9 L1208.5,1590.9 L1209.6,1588.9 L1210.6,1586.8 L1211.6,1584.8 L1212.7,1582.7 L1213.7,1580.5 L1214.7,1578.4 L1215.8,1576.3 L1216.8,1574.1 L1217.9,1571.9 L1218.9,1569.7 L1219.9,1567.5 L1221.0,1565.2 L1222.0,1563.0 L1223.0,1560.7 L1224.1,1558.4 L1225.1,1556.1 L1226.1,1553.7 L1227.2,1551.4 L1228.2,1549.0 L1229.3,1546.6 L1230.3,1544.3 L1231.3,1541.8 L1232.4,1539.4 L1233.4,1537.0 L1234.4,1534.5 L1235.5,1532.1 L1236.5,1529.6 L1237.5,1527.1 L1238.6,1524.6 L1239.6,1522.1 L1240.6,1519.6 L1241.7,1517.1 L1242.7,1514.5 L1243.8,1512.0 L1244.8,1509.4 L1245.8,1506.8 L1246.9,1504.2 L1247.9,1501.6 L1248.9,1499.0 L1250.0,1496.4 L1251.0,1493.8 L1252.0,1491.2 L1253.1,1488.6 L1254.1,1485.9 L1255.2,1483.3 L1256.2,1480.6 L1257.2,1478.0 L1258.3,1475.3 L1259.3,1472.6 L1260.3,1470.0 L1261.4,1467.3 L1262.4,1464.6 L1263.4,1461.9 L1264.5,1459.3 L1265.5,1456.6 L1266.5,1453.9 L1267.6,1451.2 L1268.6,1448.5 L1269.7,1445.8 L1270.7,1443.1 L1271.7,1440.4 L1272.8,1437.7 L1273.8,1435.0 L1274.8,1432.4 L1275.9,1429.7 L1276.9,1427.0 L1277.9,1424.3 L1279.0,1421.6 L1280.0,1418.9 L1281.1,1416.3 L1282.1,1413.6 L1283.1,1410.9 L1284.2,1408.3 L1285.2,1405.6 L1286.2,1402.9 L1287.3,1400.3 L1288.3,1397.7 L1289.3,1395.0 L1290.4,1392.4 L1291.4,1389.8 L1292.4,1387.2 L1293.5,1384.6 L1294.5,1382.0 L1295.6,1379.4 L1296.6,1376.8 L1297.6,1374.2 L1298.7,1371.7 L1299.7,1369.1 L1300.7,1366.6 L1301.8,1364.1 L1302.8,1361.5 L1303.8,1359.0 L1304.9,1356.5 L1305.9,1354.1 L1307.0,1351.6 L1308.0,1349.1 L1309.0,1346.7 L1310.1,1344.3 L1311.1,1341.9 L1312.1,1339.5 L1313.2,1337.1 L1314.2,1334.7 L1315.2,1332.4 L1316.3,1330.0 L1317.3,1327.7 L1318.3,1325.4 L1319.4,1323.1 L1320.4,1320.8 L1321.5,1318.6 L1322.5,1316.4 L1323.5,1314.1 L1324.6,1311.9 L1325.6,1309.8 L1326.6,1307.6 L1327.7,1305.5 L1328.7,1303.3 L1329.7,1301.2 L1330.8,1299.2 L1331.8,1297.1 L1332.9,1295.1 L1333.9,1293.0 L1334.9,1291.0 L1336.0,1289.1 L1337.0,1287.1 L1338.0,1285.2 L1339.1,1283.3 L1340.1,1281.4 L1341.1,1279.5 L1342.2,1277.7 L1343.2,1275.9 L1344.2,1274.1 L1345.3,1272.3 L1346.3,1270.6 L1347.4,1268.9 L1348.4,1267.2 L1349.4,1265.5 L1350.5,1263.9 L1351.5,1262.3 L1352.5,1260.7 L1353.6,1259.1 L1354.6,1257.6 L1355.6,1256.1 L1356.7,1254.6 L1357.7,1253.1 L1358.8,1251.7 L1359.8,1250.3 L1360.8,1248.9 L1361.9,1247.6 L1362.9,1246.3 L1363.9,1245.0 L1365.0,1243.7 L1366.0,1242.5 L1367.0,1241.3 L1368.1,1240.1 L1369.1,1239.0 L1370.1,1237.9 L1371.2,1236.8 L1372.2,1235.7 L1373.3,1234.7 L1374.3,1233.7 L1375.3,1232.7 L1376.4,1231.8 L1377.4,1230.9 L1378.4,1230.0 L1379.5,1229.2 L1380.5,1228.3 L1381.5,1227.6 L1382.6,1226.8 L1383.6,1226.1 L1384.7,1225.4 L1385.7,1224.7 L1386.7,1224.1 L1387.8,1223.5 L1388.8,1223.0 L1389.8,1222.4 L1390.9,1221.9 L1391.9,1221.5 L1392.9,1221.0 L1394.0,1220.6 L1395.0,1220.2 L1396.0,1219.9 L1397.1,1219.6 L1398.1,1219.3 L1399.2,1219.1 L1400.2,1218.9 L1401.2,1218.7 L1402.3,1218.5 L1403.3,1218.4 L1404.3,1218.3 L1405.4,1218.3 L1406.4,1218.3 L1407.4,1218.3 L1408.5,1218.3 L1409.5,1218.4 L1410.6,1218.5 L1411.6,1218.6 L1412.6,1218.8 L1413.7,1219.0 L1414.7,1219.3 L1415.7,1219.5 L1416.8,1219.8 L1417.8,1220.2 L1418.8,1220.5 L1419.9,1220.9 L1420.9,1221.4 L1421.9,1221.8 L1423.0,1222.3 L1424.0,1222.8 L1425.1,1223.4 L1426.1,1224.0 L1427.1,1224.6 L1428.2,1225.3 L1429.2,1226.0 L1430.2,1226.7 L1431.3,1227.4 L1432.3,1228.2 L1433.3,1229.0 L1434.4,1229.8 L1435.4,1230.7 L1436.5,1231.6 L1437.5,1232.5 L1438.5,1233.5 L1439.6,1234.5 L1440.6,1235.5 L1441.6,1236.6 L1442.7,1237.6 L1443.7,1238.7 L1444.7,1239.9 L1445.8,1241.1 L1446.8,1242.3 L1447.8,1243.5 L1448.9,1244.7 L1449.9,1246.0 L1451.0,1247.3 L1452.0,1248.7 L1453.0,1250.0 L1454.1,1251.4 L1455.1,1252.9 L1456.1,1254.3 L1457.2,1255.8 L1458.2,1257.3 L1459.2,1258.8 L1460.3,1260.4 L1461.3,1262.0 L1462.4,1263.6 L1463.4,1265.2 L1464.4,1266.9 L1465.5,1268.5 L1466.5,1270.3 L1467.5,1272.0 L1468.6,1273.8 L1469.6,1275.5 L1470.6,1277.3 L1471.7,1279.2 L1472.7,1281.0 L1473.7,1282.9 L1474.8,1284.8 L1475.8,1286.7 L1476.9,1288.7 L1477.9,1290.7 L1478.9,1292.7 L1480.0,1294.7 L1481.0,1296.7 L1482.0,1298.8 L1483.1,1300.8 L1484.1,1302.9 L1485.1,1305.0 L1486.2,1307.2 L1487.2,1309.3 L1488.3,1311.5 L1489.3,1313.7 L1490.3,1315.9 L1491.4,1318.2 L1492.4,1320.4 L1493.4,1322.7 L1494.5,1325.0 L1495.5,1327.3 L1496.5,1329.6 L1497.6,1331.9 L1498.6,1334.3 L1499.6,1336.6 L1500.7,1339.0 L1501.7,1341.4 L1502.8,1343.8 L1503.8,1346.2 L1504.8,1348.7 L1505.9,1351.1 L1506.9,1353.6 L1507.9,1356.1 L1509.0,1358.5 L1510.0,1361.1 L1511.0,1363.6 L1512.1,1366.1 L1513.1,1368.6 L1514.2,1371.2 L1515.2,1373.7 L1516.2,1376.3 L1517.3,1378.9 L1518.3,1381.5 L1519.3,1384.1 L1520.4,1386.7 L1521.4,1389.3 L1522.4,1391.9 L1523.5,1394.5 L1524.5,1397.1 L1525.5,1399.8 L1526.6,1402.4 L1527.6,1405.1 L1528.7,1407.7 L1529.7,1410.4 L1530.7,1413.1 L1531.8,1415.7 L1532.8,1418.4 L1533.8,1421.1 L1534.9,1423.8 L1535.9,1426.5 L1536.9,1429.1 L1538.0,1431.8 L1539.0,1434.5 L1540.1,1437.2 L1541.1,1439.9 L1542.1,1442.6 L1543.2,1445.3 L1544.2,1448.0 L1545.2,1450.7 L1546.3,1453.4 L1547.3,1456.0 L1548.3,1458.7 L1549.4,1461.4 L1550.4,1464.1 L1551.4,1466.8 L1552.5,1469.4 L1553.5,1472.1 L1554.6,1474.8 L1555.6,1477.4 L1556.6,1480.1 L1557.7,1482.8 L1558.7,1485.4 L1559.7,1488.0 L1560.8,1490.7 L1561.8,1493.3 L1562.8,1495.9 L1563.9,1498.5 L1564.9,1501.1 L1566.0,1503.7 L1567.0,1506.3 L1568.0,1508.9 L1569.1,1511.5 L1570.1,1514.0 L1571.1,1516.6 L1572.2,1519.1 L1573.2,1521.6 L1574.2,1524.1 L1575.3,1526.6 L1576.3,1529.1 L1577.3,1531.6 L1578.4,1534.1 L1579.4,1536.5 L1580.5,1539.0 L1581.5,1541.4 L1582.5,1543.8 L1583.6,1546.2 L1584.6,1548.6 L1585.6,1550.9 L1586.7,1553.3 L1587.7,1555.6 L1588.7,1557.9 L1589.8,1560.2 L1590.8,1562.5 L1591.9,1564.8 L1592.9,1567.0 L1593.9,1569.3 L1595.0,1571.5 L1596.0,1573.7 L1597.0,1575.8 L1598.1,1578.0 L1599.1,1580.1 L1600.1,1582.2 L1601.2,1584.3 L1602.2,1586.4 L1603.2,1588.5 L1604.3,1590.5 L1605.3,1592.5 L1606.4,1594.5 L1607.4,1596.5 L1608.4,1598.4 L1609.5,1600.4 L1610.5,1602.3 L1611.5,1604.1 L1612.6,1606.0 L1613.6,1607.8 L1614.6,1609.6 L1615.7,1611.4 L1616.7,1613.2 L1617.8,1614.9 L1618.8,1616.6 L1619.8,1618.3 L1620.9,1620.0 L1621.9,1621.6 L1622.9,1623.2 L1624.0,1624.8 L1625.0,1626.4 L1626.0,1627.9 L1627.1,1629.4 L1628.1,1630.9 L1629.1,1632.3 L1630.2,1633.7 L1631.2,1635.1 L1632.3,1636.5 L1633.3,1637.8 L1634.3,1639.2 L1635.4,1640.4 L1636.4,1641.7 L1637.4,1642.9 L1638.5,1644.1 L1639.5,1645.3 L1640.5,1646.4 L1641.6,1647.5 L1642.6,1648.6 L1643.7,1649.7 L1644.7,1650.7 L1645.7,1651.7 L1646.8,1652.6 L1647.8,1653.6 L1648.8,1654.5 L1649.9,1655.3 L1650.9,1656.2 L1651.9,1657.0 L1653.0,1657.8 L1654.0,1658.5 L1655.0,1659.2 L1656.1,1659.9 L1657.1,1660.6 L1658.2,1661.2 L1659.2,1661.8 L1660.2,1662.3 L1661.3,1662.8 L1662.3,1663.3 L1663.3,1663.8 L1664.4,1664.2 L1665.4,1664.6 L1666.4,1665.0 L1667.5,1665.3 L1668.5,1665.6 L1669.6,1665.9 L1670.6,1666.1 L1671.6,1666.4 L1672.7,1666.5 L1673.7,1666.7 L1674.7,1666.8 L1675.8,1666.9 L1676.8,1666.9 L1677.8,1666.9 L1678.9,1666.9 L1679.9,1666.8 L1680.9,1666.8 L1682.0,1666.6 L1683.0,1666.5 L1684.1,1666.3 L1685.1,1666.1 L1686.1,1665.9 L1687.2,1665.6 L1688.2,1665.3 L1689.2,1664.9 L1690.3,1664.6 L1691.3,1664.1 L1692.3,1663.7 L1693.4,1663.2 L1694.4,1662.7 L1695.5,1662.2 L1696.5,1661.6 L1697.5,1661.0 L1698.6,1660.4 L1699.6,1659.8 L1700.6,1659.1 L1701.7,1658.4 L1702.7,1657.6 L1703.7,1656.8 L1704.8,1656.0 L1705.8,1655.2 L1706.8,1654.3 L1707.9,1653.4 L1708.9,1652.4 L1710.0,1651.5 L1711.0,1650.5 L1712.0,1649.4 L1713.1,1648.4 L1714.1,1647.3 L1715.1,1646.2 L1716.2,1645.0 L1717.2,1643.9 L1718.2,1642.7 L1719.3,1641.4 L1720.3,1640.2 L1721.4,1638.9 L1722.4,1637.6 L1723.4,1636.2 L1724.5,1634.9 L1725.5,1633.5 L1726.5,1632.0 L1727.6,1630.6 L1728.6,1629.1 L1729.6,1627.6 L1730.7,1626.0 L1731.7,1624.5 L1732.7,1622.9 L1733.8,1621.3 L1734.8,1619.6 L1735.9,1618.0 L1736.9,1616.3 L1737.9,1614.6 L1739.0,1612.8 L1740.0,1611.1 L1741.0,1609.3 L1742.1,1607.5 L1743.1,1605.6 L1744.1,1603.8 L1745.2,1601.9 L1746.2,1600.0 L1747.3,1598.0 L1748.3,1596.1 L1749.3,1594.1 L1750.4,1592.1 L1751.4,1590.1 L1752.4,1588.1 L1753.5,1586.0 L1754.5,1583.9 L1755.5,1581.8 L1756.6,1579.7 L1757.6,1577.6 L1758.6,1575.4 L1759.7,1573.2 L1760.7,1571.0 L1761.8,1568.8 L1762.8,1566.6 L1763.8,1564.3 L1764.9,1562.0 L1765.9,1559.8 L1766.9,1557.5 L1768.0,1555.1 L1769.0,1552.8 L1770.0,1550.4 L1771.1,1548.1 L1772.1,1545.7 L1773.2,1543.3 L1774.2,1540.9 L1775.2,1538.5 L1776.3,1536.0 L1777.3,1533.6 L1778.3,1531.1 L1779.4,1528.6 L1780.4,1526.1 L1781.4,1523.6 L1782.5,1521.1 L1783.5,1518.6 L1784.5,1516.0 L1785.6,1513.5 L1786.6,1510.9 L1787.7,1508.4 L1788.7,1505.8 L1789.7,1503.2 L1790.8,1500.6 L1791.8,1498.0 L1792.8,1495.4 L1793.9,1492.8 L1794.9,1490.1 L1795.9,1487.5 L1797.0,1484.9 L1798.0,1482.2 L1799.1,1479.6 L1800.1,1476.9 L1801.1,1474.2 L1802.2,1471.6 L1803.2,1468.9 L1804.2,1466.2 L1805.3,1463.5 L1806.3,1460.9 L1807.3,1458.2 L1808.4,1455.5 L1809.4,1452.8 L1810.4,1450.1 L1811.5,1447.4 L1812.5,1444.7 L1813.6,1442.0 L1814.6,1439.3 L1815.6,1436.7 L1816.7,1434.0 L1817.7,1431.3 L1818.7,1428.6 L1819.8,1425.9 L1820.8,1423.2 L1821.8,1420.5 L1822.9,1417.9 L1823.9,1415.2 L1825.0,1412.5 L1826.0,1409.8 L1827.0,1407.2 L1828.1,1404.5 L1829.1,1401.9 L1830.1,1399.2 L1831.2,1396.6 L1832.2,1394.0 L1833.2,1391.3 L1834.3,1388.7 L1835.3,1386.1 L1836.3,1383.5 L1837.4,1380.9 L1838.4,1378.3 L1839.5,1375.8 L1840.5,1373.2 L1841.5,1370.6 L1842.6,1368.1 L1843.6,1365.6 L1844.6,1363.0 L1845.7,1360.5 L1846.7,1358.0 L1847.7,1355.5 L1848.8,1353.1 L1849.8,1350.6 L1850.9,1348.2 L1851.9,1345.7 L1852.9,1343.3 L1854.0,1340.9 L1855.0,1338.5 L1856.0,1336.1 L1857.1,1333.8 L1858.1,1331.4 L1859.1,1329.1 L1860.2,1326.8 L1861.2,1324.5 L1862.2,1322.2 L1863.3,1319.9 L1864.3,1317.7 L1865.4,1315.5 L1866.4,1313.3 L1867.4,1311.1 L1868.5,1308.9 L1869.5,1306.7 L1870.5,1304.6 L1871.6,1302.5 L1872.6,1300.4 L1873.6,1298.3 L1874.7,1296.3 L1875.7,1294.2 L1876.8,1292.2 L1877.8,1290.3 L1878.8,1288.3 L1879.9,1286.3 L1880.9,1284.4 L1881.9,1282.5 L1883.0,1280.7 L1884.0,1278.8 L1885.0,1277.0 L1886.1,1275.2 L1887.1,1273.4 L1888.1,1271.6 L1889.2,1269.9 L1890.2,1268.2 L1891.3,1266.5 L1892.3,1264.9 L1893.3,1263.2 L1894.4,1261.6 L1895.4,1260.0 L1896.4,1258.5 L1897.5,1257.0 L1898.5,1255.5 L1899.5,1254.0 L1900.6,1252.6 L1901.6,1251.1 L1902.7,1249.8 L1903.7,1248.4 L1904.7,1247.1 L1905.8,1245.8 L1906.8,1244.5 L1907.8,1243.2 L1908.9,1242.0 L1909.9,1240.8 L1910.9,1239.7 L1912.0,1238.5 L1913.0,1237.4 L1914.0,1236.3 L1915.1,1235.3 L1916.1,1234.3 L1917.2,1233.3 L1918.2,1232.3 L1919.2,1231.4 L1920.3,1230.5 L1921.3,1229.7 L1922.3,1228.8 L1923.4,1228.0 L1924.4,1227.3 L1925.4,1226.5 L1926.5,1225.8 L1927.5,1225.1 L1928.6,1224.5 L1929.6,1223.9 L1930.6,1223.3 L1931.7,1222.7 L1932.7,1222.2 L1933.7,1221.7 L1934.8,1221.3 L1935.8,1220.8 L1936.8,1220.5 L1937.9,1220.1 L1938.9,1219.8 L1939.9,1219.5 L1941.0,1219.2 L1942.0,1219.0 L1943.1,1218.8 L1944.1,1218.6 L1945.1,1218.5 L1946.2,1218.4 L1947.2,1218.3 L1948.2,1218.3 L1949.3,1218.3 L1950.3,1218.3 L1951.3,1218.3 L1952.4,1218.4 L1953.4,1218.5 L1954.5,1218.7 L1955.5,1218.9 L1956.5,1219.1 L1957.6,1219.4 L1958.6,1219.6 L1959.6,1220.0 L1960.7,1220.3 L1961.7,1220.7 L1962.7,1221.1 L1963.8,1221.5 L1964.8,1222.0 L1965.8,1222.5 L1966.9,1223.1 L1967.9,1223.6 L1969.0,1224.2 L1970.0,1224.9 L1971.0,1225.5 L1972.1,1226.2 L1973.1,1227.0 L1974.1,1227.7 L1975.2,1228.5 L1976.2,1229.3 L1977.2,1230.2 L1978.3,1231.1 L1979.3,1232.0 L1980.4,1232.9 L1981.4,1233.9 L1982.4,1234.9 L1983.5,1235.9 L1984.5,1237.0 L1985.5,1238.1 L1986.6,1239.2 L1987.6,1240.4 L1988.6,1241.5 L1989.7,1242.7 L1990.7,1244.0 L1991.7,1245.2 L1992.8,1246.5 L1993.8,1247.9 L1994.9,1249.2 L1995.9,1250.6 L1996.9,1252.0 L1998.0,1253.4 L1999.0,1254.9 L2000.0,1256.4 L2001.1,1257.9 L2002.1,1259.4 L2003.1,1261.0 L2004.2,1262.6 L2005.2,1264.2 L2006.3,1265.9 L2007.3,1267.5 L2008.3,1269.2 L2009.4,1271.0 L2010.4,1272.7 L2011.4,1274.5 L2012.5,1276.3 L2013.5,1278.1 L2014.5,1279.9 L2015.6,1281.8 L2016.6,1283.7 L2017.6,1285.6 L2018.7,1287.5 L2019.7,1289.5 L2020.8,1291.5 L2021.8,1293.5 L2022.8,1295.5 L2023.9,1297.5 L2024.9,1299.6 L2025.9,1301.7 L2027.0,1303.8 L2028.0,1305.9 L2029.0,1308.0 L2030.1,1310.2 L2031.1,1312.4 L2032.2,1314.6 L2033.2,1316.8 L2034.2,1319.1 L2035.3,1321.3 L2036.3,1323.6 L2037.3,1325.9 L2038.4,1328.2 L2039.4,1330.5 L2040.4,1332.8 L2041.5,1335.2 L2042.5,1337.6 L2043.5,1340.0 L2044.6,1342.4 L2045.6,1344.8 L2046.7,1347.2 L2047.7,1349.6 L2048.7,1352.1 L2049.8,1354.6 L2050.8,1357.1 L2051.8,1359.6 L2052.9,1362.1 L2053.9,1364.6 L2054.9,1367.1 L2056.0,1369.6 L2057.0,1372.2 L2058.1,1374.8 L2059.1,1377.3 L2060.1,1379.9 L2061.2,1382.5 L2062.2,1385.1 L2063.2,1387.7 L2064.3,1390.3 L2065.3,1392.9 L2066.3,1395.6 L2067.4,1398.2 L2068.4,1400.8 L2069.4,1403.5 L2070.5,1406.1 L2071.5,1408.8 L2072.6,1411.5 L2073.6,1414.1 L2074.6,1416.8 L2075.7,1419.5 L2076.7,1422.2 L2077.7,1424.8 L2078.8,1427.5 L2079.8,1430.2 L2080.8,1432.9 L2081.9,1435.6 L2082.9,1438.3 L2084.0,1441.0 L2085.0,1443.7 L2086.0,1446.4 L2087.1,1449.1 L2088.1,1451.7 L2089.1,1454.4 L2090.2,1457.1 L2091.2,1459.8 L2092.2,1462.5 L2093.3,1465.2 L2094.3,1467.8 L2095.3,1470.5 L2096.4,1473.2 L2097.4,1475.9 L2098.5,1478.5 L2099.5,1481.2 L2100.5,1483.8 L2101.6,1486.5 L2102.6,1489.1 L2103.6,1491.7 L2104.7,1494.3 L2105.7,1497.0 L2106.7,1499.6 L2107.8,1502.2 L2108.8,1504.8 L2109.9,1507.3 L2110.9,1509.9 L2111.9,1512.5 L2113.0,1515.0 L2114.0,1517.6 L2115.0,1520.1 L2116.1,1522.6 L2117.1,1525.1 L2118.1,1527.6 L2119.2,1530.1 L2120.2,1532.6 L2121.2,1535.1 L2122.3,1537.5 L2123.3,1539.9 L2124.4,1542.3 L2125.4,1544.8 L2126.4,1547.1 L2127.5,1549.5 L2128.5,1551.9 L2129.5,1554.2 L2130.6,1556.5 L2131.6,1558.9 L2132.6,1561.1 L2133.7,1563.4 L2134.7,1565.7 L2135.8,1567.9 L2136.8,1570.1 L2137.8,1572.4 L2138.9,1574.5 L2139.9,1576.7 L2140.9,1578.9 L2142.0,1581.0 L2143.0,1583.1 L2144.0,1585.2 L2145.1,1587.2 L2146.1,1589.3 L2147.1,1591.3 L2148.2,1593.3 L2149.2,1595.3 L2150.3,1597.3 L2151.3,1599.2 L2152.3,1601.1 L2153.4,1603.0 L2154.4,1604.9 L2155.4,1606.7 L2156.5,1608.6 L2157.5,1610.4 L2158.5,1612.1 L2159.6,1613.9 L2160.6,1615.6 L2161.7,1617.3 L2162.7,1619.0 L2163.7,1620.6 L2164.8,1622.3 L2165.8,1623.9 L2166.8,1625.4 L2167.9,1627.0 L2168.9,1628.5 L2169.9,1630.0 L2171.0,1631.5 L2172.0,1632.9 L2173.0,1634.3 L2174.1,1635.7 L2175.1,1637.0 L2176.2,1638.4 L2177.2,1639.7 L2178.2,1640.9 L2179.3,1642.2 L2180.3,1643.4 L2181.3,1644.6 L2182.4,1645.7 L2183.4,1646.9 L2184.4,1648.0 L2185.5,1649.0 L2186.5,1650.1 L2187.6,1651.1 L2188.6,1652.1 L2189.6,1653.0 L2190.7,1653.9 L2191.7,1654.8 L2192.7,1655.7 L2193.8,1656.5 L2194.8,1657.3 L2195.8,1658.1 L2196.9,1658.8 L2197.9,1659.5 L2198.9,1660.2 L2200.0,1660.8 L2201.0,1661.4 L2202.1,1662.0 L2203.1,1662.5 L2204.1,1663.0 L2205.2,1663.5 L2206.2,1664.0 L2207.2,1664.4 L2208.3,1664.8 L2209.3,1665.1 L2210.3,1665.5 L2211.4,1665.8 L2212.4,1666.0 L2213.5,1666.2 L2214.5,1666.4 L2215.5,1666.6 L2216.6,1666.7 L2217.6,1666.8 L2218.6,1666.9 L2219.7,1666.9 L2220.7,1666.9 L2221.7,1666.9 L2222.8,1666.8 L2223.8,1666.7 L2224.8,1666.6 L2225.9,1666.4 L2226.9,1666.2 L2228.0,1666.0 L2229.0,1665.7 L2230.0,1665.5 L2231.1,1665.1 L2232.1,1664.8 L2233.1,1664.4 L2234.2,1664.0 L2235.2,1663.5 L2236.2,1663.0 L2237.3,1662.5 L2238.3,1662.0 L2239.4,1661.4 L2240.4,1660.8 L2241.4,1660.2 L2242.5,1659.5 L2243.5,1658.8 L2244.5,1658.1 L2245.6,1657.3 L2246.6,1656.5 L2247.6,1655.7 L2248.7,1654.8 L2249.7,1653.9 L2250.7,1653.0 L2251.8,1652.1 L2252.8,1651.1 L2253.9,1650.1 L2254.9,1649.0 L2255.9,1648.0 L2257.0,1646.9 L2258.0,1645.7"/>
</g>
<g class="sans">
<text transform="translate(185.00,1803.00) scale(0.96,1)" font-size="58" text-anchor="middle">0</text>
<text transform="translate(392.20,1803.00) scale(0.96,1)" font-size="58" text-anchor="middle">2</text>
<text transform="translate(599.40,1803.00) scale(0.96,1)" font-size="58" text-anchor="middle">4</text>
<text transform="translate(806.60,1803.00) scale(0.96,1)" font-size="58" text-anchor="middle">6</text>
<text transform="translate(1013.80,1803.00) scale(0.96,1)" font-size="58" text-anchor="middle">8</text>
<text transform="translate(1221.00,1803.00) scale(0.96,1)" font-size="58" text-anchor="middle">10</text>
<text transform="translate(1428.20,1803.00) scale(0.96,1)" font-size="58" text-anchor="middle">12</text>
<text transform="translate(1635.40,1803.00) scale(0.96,1)" font-size="58" text-anchor="middle">14</text>
<text transform="translate(1842.60,1803.00) scale(0.96,1)" font-size="58" text-anchor="middle">16</text>
<text transform="translate(2049.80,1803.00) scale(0.96,1)" font-size="58" text-anchor="middle">18</text>
<text transform="translate(2257.00,1803.00) scale(0.96,1)" font-size="58" text-anchor="middle">20</text>
<text transform="translate(165.40,1186.47) scale(0.96,1)" font-size="58" text-anchor="end">5</text>
<text transform="translate(165.40,1466.88) scale(0.96,1)" font-size="58" text-anchor="end">0</text>
<text transform="translate(165.40,1747.30) scale(0.96,1)" font-size="58" text-anchor="end"><tspan letter-spacing="2.3">-</tspan>5</text>
<text transform="translate(1221.50,1886.90) scale(0.9556,1)" font-size="66" text-anchor="middle">Time [s]</text>
<text transform="translate(88.30,1388.50) rotate(-90) scale(0.9556,1)" font-size="66" text-anchor="middle">Output tracking performance</text>
</g>
<rect x="761" y="1086" width="1447" height="85" fill="#fff"/>
<path fill="#262626" shape-rendering="crispEdges" d="M761,1086H2208V1171H761ZM766,1090V1167H2203V1090Z"/>
<g fill="none" stroke-width="4" shape-rendering="crispEdges"><path stroke="#0000ff" d="M782,1129h192"/><path stroke="#ff0000" stroke-dasharray="48 28" d="M1619,1129h191"/></g>
<g class="serif">
<text y="1142" font-size="56"><tspan x="987.08" textLength="163.75" lengthAdjust="spacingAndGlyphs">System</tspan> <tspan x="1166.00" textLength="150.37" lengthAdjust="spacingAndGlyphs">output</tspan> <tspan x="1336.00" textLength="43.56" lengthAdjust="spacingAndGlyphs">in</tspan> <tspan class="it" font-size="57.5" x="1399.75 1428.17 1466.07 1505.41 1541.96">SVRAC</tspan></text>
<text y="1142" font-size="56"><tspan x="1824.00" textLength="216.97" lengthAdjust="spacingAndGlyphs">Reference</tspan> <tspan x="2057.00" textLength="130.78" lengthAdjust="spacingAndGlyphs">signal</tspan></text>
</g>
</g>
</svg>
</body></html>
